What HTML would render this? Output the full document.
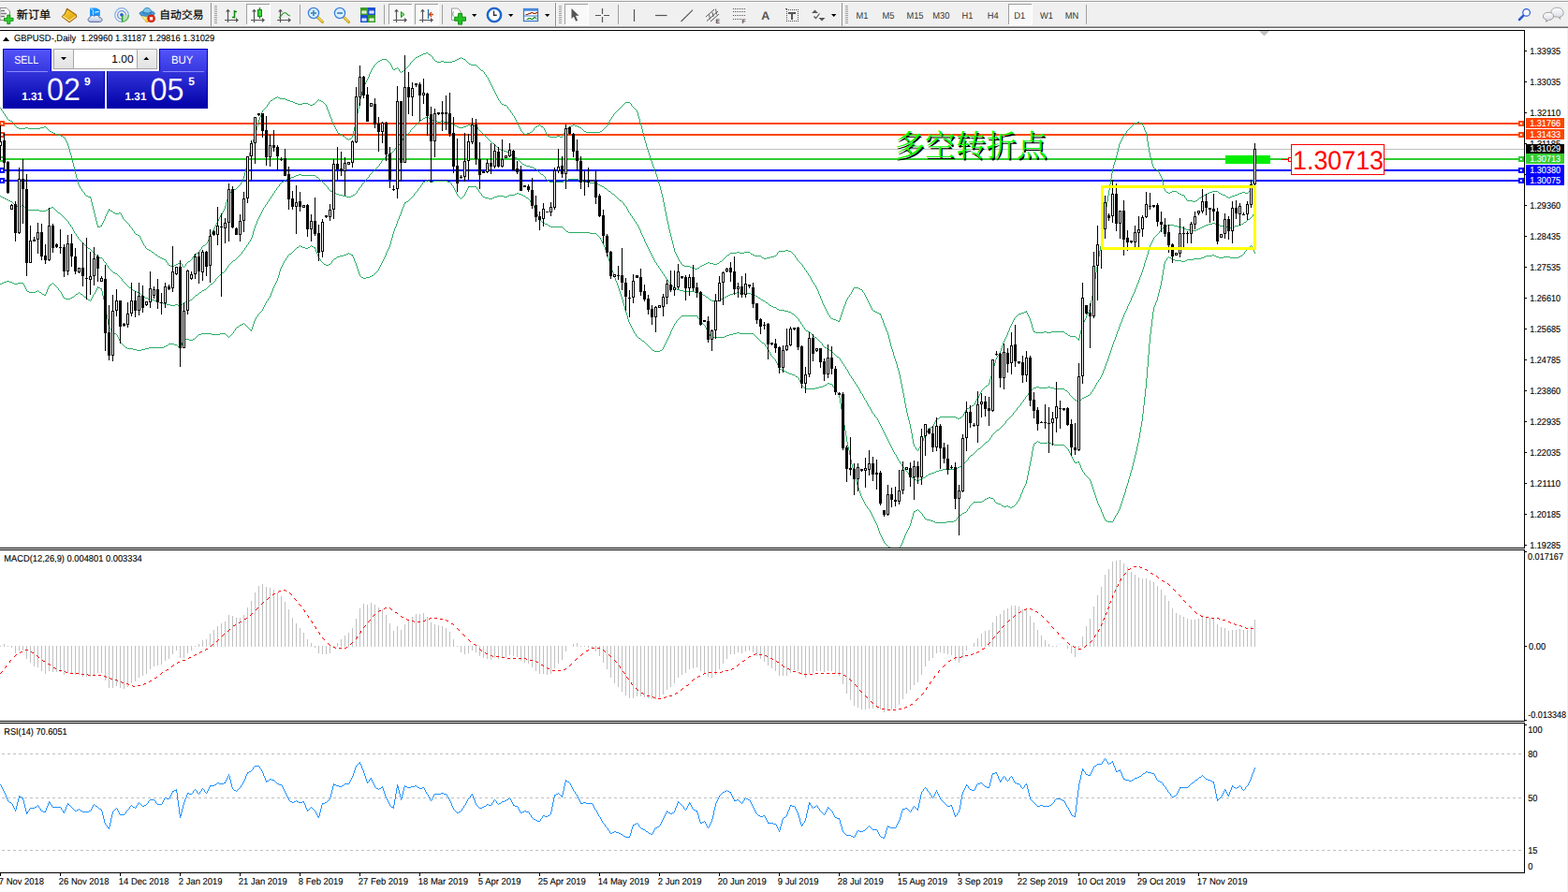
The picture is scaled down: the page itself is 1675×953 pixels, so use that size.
<!DOCTYPE html><html><head><meta charset="utf-8"><style>
html,body{margin:0;padding:0;background:#fff;}
body{width:1675px;height:953px;position:relative;overflow:hidden;font-family:"Liberation Sans",sans-serif;}
</style></head><body>
<svg id="chart" width="1675" height="953" viewBox="0 0 1675 953" shape-rendering="crispEdges" font-family="Liberation Sans, sans-serif" text-rendering="geometricPrecision" style="position:absolute;left:0;top:0">
<defs><clipPath id="cm"><rect x="0" y="33" width="1628" height="552"/></clipPath><clipPath id="c2"><rect x="0" y="588" width="1628" height="182"/></clipPath><clipPath id="c3"><rect x="0" y="773" width="1628" height="159"/></clipPath></defs>
<g fill="#000">
<rect x="0" y="32" width="1629" height="1"/>
<rect x="1628" y="32" width="1" height="554"/>
<rect x="0" y="585" width="1629" height="1"/>
<rect x="0" y="587" width="1629" height="1"/>
<rect x="1628" y="587" width="1" height="184"/>
<rect x="0" y="770" width="1629" height="1"/>
<rect x="0" y="772" width="1629" height="1"/>
<rect x="1628" y="772" width="1" height="161"/>
<rect x="0" y="932" width="1629" height="1"/>
</g>
<g clip-path="url(#cm)">
<rect x="0" y="159" width="1628" height="1" fill="#c0c0c0"/>
<rect x="0" y="131" width="1628" height="2" fill="#ff4500"/>
<rect x="1622" y="129" width="6" height="6" fill="#ff4500"/><rect x="1624" y="131" width="2" height="2" fill="#fff"/>
<rect x="-1" y="129" width="6" height="6" fill="#ff4500"/><rect x="1" y="131" width="2" height="2" fill="#fff"/>
<rect x="0" y="143" width="1628" height="2" fill="#ff4500"/>
<rect x="1622" y="141" width="6" height="6" fill="#ff4500"/><rect x="1624" y="143" width="2" height="2" fill="#fff"/>
<rect x="-1" y="141" width="6" height="6" fill="#ff4500"/><rect x="1" y="143" width="2" height="2" fill="#fff"/>
<rect x="0" y="169" width="1628" height="2" fill="#32cd32"/>
<rect x="1622" y="167" width="6" height="6" fill="#32cd32"/><rect x="1624" y="169" width="2" height="2" fill="#fff"/>
<rect x="-1" y="167" width="6" height="6" fill="#32cd32"/><rect x="1" y="169" width="2" height="2" fill="#fff"/>
<rect x="0" y="181" width="1628" height="2" fill="#0000ff"/>
<rect x="1622" y="179" width="6" height="6" fill="#0000ff"/><rect x="1624" y="181" width="2" height="2" fill="#fff"/>
<rect x="-1" y="179" width="6" height="6" fill="#0000ff"/><rect x="1" y="181" width="2" height="2" fill="#fff"/>
<rect x="0" y="192" width="1628" height="2" fill="#0000ff"/>
<rect x="1622" y="190" width="6" height="6" fill="#0000ff"/><rect x="1624" y="192" width="2" height="2" fill="#fff"/>
<rect x="-1" y="190" width="6" height="6" fill="#0000ff"/><rect x="1" y="192" width="2" height="2" fill="#fff"/>
<rect x="1309" y="166" width="48" height="9" fill="#00ee00"/>
<g shape-rendering="crispEdges">
<path fill="#2bab66" d="M455 56h2v1h-2zM452 57h3v1h-3zM457 57h1v1h-1zM450 58h2v1h-2zM458 58h2v1h-2zM448 59h2v1h-2zM460 59h1v1h-1zM446 60h2v1h-2zM461 60h1v1h-1zM444 61h2v1h-2zM462 61h1v2h-1zM492 61h1v1h-1zM443 62h1v1h-1zM490 62h2v1h-2zM493 62h2v1h-2zM408 63h5v1h-5zM442 63h1v1h-1zM463 63h1v1h-1zM488 63h2v1h-2zM495 63h2v1h-2zM406 64h2v1h-2zM413 64h1v1h-1zM441 64h1v1h-1zM464 64h1v1h-1zM486 64h2v1h-2zM497 64h1v1h-1zM404 65h2v1h-2zM414 65h1v1h-1zM440 65h1v1h-1zM465 65h2v1h-2zM471 65h3v1h-3zM483 65h3v1h-3zM498 65h1v1h-1zM403 66h1v1h-1zM415 66h1v1h-1zM439 66h1v1h-1zM467 66h4v1h-4zM474 66h9v1h-9zM499 66h1v1h-1zM402 67h1v1h-1zM416 67h1v1h-1zM438 67h1v2h-1zM500 67h1v1h-1zM401 68h1v1h-1zM417 68h1v2h-1zM501 68h2v1h-2zM400 69h1v1h-1zM437 69h1v1h-1zM503 69h6v1h-6zM399 70h1v2h-1zM418 70h1v2h-1zM436 70h1v1h-1zM509 70h1v1h-1zM435 71h1v1h-1zM510 71h1v1h-1zM398 72h1v1h-1zM419 72h1v2h-1zM424 72h1v1h-1zM434 72h1v1h-1zM511 72h1v1h-1zM397 73h1v2h-1zM422 73h2v1h-2zM425 73h1v1h-1zM433 73h1v1h-1zM512 73h1v1h-1zM420 74h2v1h-2zM426 74h1v2h-1zM432 74h1v1h-1zM513 74h1v1h-1zM396 75h1v2h-1zM431 75h1v1h-1zM514 75h2v1h-2zM427 76h1v1h-1zM429 76h2v1h-2zM516 76h1v1h-1zM395 77h1v2h-1zM428 77h1v1h-1zM517 77h1v2h-1zM394 79h1v3h-1zM518 79h1v1h-1zM519 80h1v2h-1zM393 82h1v2h-1zM520 82h1v1h-1zM521 83h1v2h-1zM392 84h1v2h-1zM522 85h1v2h-1zM391 86h1v2h-1zM523 87h1v2h-1zM390 88h1v2h-1zM524 89h1v2h-1zM389 90h1v2h-1zM525 91h1v2h-1zM388 92h1v2h-1zM526 93h1v2h-1zM387 94h1v4h-1zM527 95h1v2h-1zM528 97h1v2h-1zM386 98h1v4h-1zM529 99h1v2h-1zM530 101h1v2h-1zM385 102h1v4h-1zM296 103h1v1h-1zM531 103h1v2h-1zM294 104h2v1h-2zM297 104h2v1h-2zM292 105h2v1h-2zM299 105h6v1h-6zM532 105h1v2h-1zM291 106h1v1h-1zM305 106h2v1h-2zM340 106h1v1h-1zM384 106h1v4h-1zM289 107h2v1h-2zM307 107h3v1h-3zM339 107h1v1h-1zM341 107h2v1h-2zM533 107h1v1h-1zM288 108h1v1h-1zM310 108h3v1h-3zM338 108h1v1h-1zM343 108h2v1h-2zM534 108h1v2h-1zM287 109h1v2h-1zM313 109h2v1h-2zM337 109h1v1h-1zM345 109h1v1h-1zM668 109h5v1h-5zM315 110h3v1h-3zM323 110h6v1h-6zM336 110h1v1h-1zM346 110h1v1h-1zM383 110h1v6h-1zM535 110h1v1h-1zM667 110h1v1h-1zM673 110h1v1h-1zM286 111h1v1h-1zM318 111h5v1h-5zM329 111h2v1h-2zM334 111h2v1h-2zM347 111h1v1h-1zM536 111h2v1h-2zM666 111h1v1h-1zM674 111h1v2h-1zM285 112h1v2h-1zM331 112h3v1h-3zM348 112h1v2h-1zM538 112h3v1h-3zM665 112h1v1h-1zM541 113h1v1h-1zM664 113h1v1h-1zM675 113h1v1h-1zM284 114h1v1h-1zM349 114h1v3h-1zM542 114h1v2h-1zM663 114h1v1h-1zM676 114h1v1h-1zM0 115h1v1h-1zM283 115h1v1h-1zM662 115h1v1h-1zM677 115h1v1h-1zM1 116h1v2h-1zM282 116h1v1h-1zM382 116h1v5h-1zM543 116h1v1h-1zM661 116h1v1h-1zM678 116h1v1h-1zM281 117h1v1h-1zM350 117h1v2h-1zM544 117h1v1h-1zM660 117h1v1h-1zM679 117h1v1h-1zM2 118h1v1h-1zM280 118h1v2h-1zM545 118h1v2h-1zM659 118h1v1h-1zM680 118h1v2h-1zM3 119h1v2h-1zM351 119h1v3h-1zM658 119h1v1h-1zM279 120h1v3h-1zM546 120h1v1h-1zM657 120h1v1h-1zM681 120h1v4h-1zM4 121h1v1h-1zM381 121h1v6h-1zM547 121h1v2h-1zM656 121h1v1h-1zM5 122h1v2h-1zM352 122h1v3h-1zM655 122h1v2h-1zM278 123h1v2h-1zM548 123h1v1h-1zM6 124h1v1h-1zM549 124h1v2h-1zM654 124h1v1h-1zM682 124h1v3h-1zM7 125h1v2h-1zM277 125h1v3h-1zM353 125h1v2h-1zM653 125h1v2h-1zM550 126h1v2h-1zM8 127h1v1h-1zM354 127h1v3h-1zM380 127h1v5h-1zM652 127h1v1h-1zM683 127h1v4h-1zM9 128h2v1h-2zM276 128h1v3h-1zM551 128h1v2h-1zM651 128h1v2h-1zM11 129h2v1h-2zM13 130h1v1h-1zM355 130h1v2h-1zM552 130h1v2h-1zM650 130h1v2h-1zM1215 130h2v1h-2zM14 131h1v2h-1zM275 131h1v4h-1zM684 131h1v3h-1zM1212 131h3v1h-3zM1217 131h2v1h-2zM356 132h1v2h-1zM379 132h1v4h-1zM553 132h1v2h-1zM649 132h1v2h-1zM1211 132h1v1h-1zM1219 132h2v1h-2zM15 133h1v1h-1zM576 133h1v1h-1zM612 133h2v1h-2zM1210 133h1v1h-1zM1220 133h1v1h-1zM16 134h1v1h-1zM357 134h1v2h-1zM554 134h1v2h-1zM574 134h2v1h-2zM577 134h1v1h-1zM610 134h2v1h-2zM614 134h3v1h-3zM648 134h1v1h-1zM685 134h1v4h-1zM1209 134h1v1h-1zM1221 134h1v2h-1zM17 135h1v1h-1zM47 135h2v1h-2zM274 135h1v4h-1zM572 135h2v1h-2zM578 135h2v1h-2zM608 135h2v1h-2zM617 135h2v1h-2zM647 135h1v1h-1zM1208 135h1v1h-1zM18 136h2v1h-2zM27 136h3v1h-3zM43 136h4v1h-4zM49 136h1v1h-1zM358 136h1v2h-1zM378 136h1v4h-1zM555 136h1v2h-1zM571 136h1v1h-1zM580 136h1v1h-1zM607 136h1v1h-1zM619 136h2v1h-2zM646 136h1v1h-1zM1207 136h1v1h-1zM1222 136h1v3h-1zM20 137h7v1h-7zM30 137h13v1h-13zM50 137h1v1h-1zM570 137h1v2h-1zM581 137h1v2h-1zM606 137h1v1h-1zM621 137h1v1h-1zM645 137h1v1h-1zM1206 137h1v1h-1zM51 138h1v1h-1zM359 138h1v2h-1zM556 138h1v2h-1zM605 138h1v1h-1zM622 138h1v1h-1zM644 138h1v1h-1zM686 138h1v4h-1zM1205 138h1v1h-1zM52 139h1v1h-1zM273 139h1v4h-1zM569 139h1v1h-1zM582 139h1v2h-1zM604 139h1v1h-1zM623 139h1v1h-1zM643 139h1v1h-1zM1204 139h1v1h-1zM1223 139h1v2h-1zM53 140h2v1h-2zM360 140h1v2h-1zM377 140h1v4h-1zM557 140h1v1h-1zM568 140h1v1h-1zM603 140h1v2h-1zM624 140h2v1h-2zM641 140h2v1h-2zM1203 140h1v2h-1zM55 141h2v1h-2zM558 141h1v1h-1zM566 141h2v1h-2zM583 141h1v2h-1zM626 141h15v1h-15zM1224 141h1v4h-1zM57 142h2v1h-2zM361 142h2v1h-2zM559 142h1v1h-1zM563 142h3v1h-3zM602 142h1v2h-1zM687 142h1v4h-1zM1202 142h1v1h-1zM59 143h3v1h-3zM272 143h1v3h-1zM363 143h2v1h-2zM560 143h3v1h-3zM584 143h1v2h-1zM1201 143h1v2h-1zM62 144h3v1h-3zM365 144h1v1h-1zM376 144h1v3h-1zM601 144h1v2h-1zM65 145h2v1h-2zM366 145h2v1h-2zM585 145h2v1h-2zM595 145h3v1h-3zM1200 145h1v1h-1zM1225 145h1v6h-1zM67 146h2v1h-2zM271 146h1v3h-1zM368 146h1v1h-1zM587 146h8v1h-8zM598 146h3v1h-3zM688 146h1v4h-1zM1199 146h1v2h-1zM69 147h1v2h-1zM369 147h1v1h-1zM375 147h1v1h-1zM370 148h2v1h-2zM373 148h2v1h-2zM1198 148h1v2h-1zM70 149h1v2h-1zM270 149h1v3h-1zM372 149h1v1h-1zM689 150h1v3h-1zM1197 150h1v2h-1zM71 151h1v2h-1zM1226 151h1v6h-1zM269 152h1v3h-1zM1196 152h1v2h-1zM72 153h1v3h-1zM690 153h1v4h-1zM1195 154h1v4h-1zM268 155h1v4h-1zM73 156h1v3h-1zM691 157h1v3h-1zM1227 157h1v6h-1zM1194 158h1v4h-1zM74 159h1v4h-1zM267 159h1v4h-1zM692 160h1v3h-1zM1193 162h1v4h-1zM75 163h1v3h-1zM266 163h1v4h-1zM693 163h1v3h-1zM1228 163h1v5h-1zM76 166h1v4h-1zM694 166h1v3h-1zM1192 166h1v3h-1zM265 167h1v4h-1zM1229 168h1v3h-1zM695 169h1v3h-1zM1191 169h1v4h-1zM77 170h1v4h-1zM264 171h1v5h-1zM1230 171h1v4h-1zM696 172h1v3h-1zM1190 173h1v3h-1zM78 174h1v4h-1zM697 175h1v3h-1zM1231 175h1v3h-1zM263 176h1v4h-1zM1189 176h1v4h-1zM79 178h1v4h-1zM698 178h1v2h-1zM1232 178h1v2h-1zM262 180h1v4h-1zM699 180h1v3h-1zM1188 180h1v5h-1zM1233 180h2v1h-2zM1235 181h2v1h-2zM80 182h1v4h-1zM1237 182h1v2h-1zM700 183h1v3h-1zM261 184h1v4h-1zM1238 184h1v2h-1zM1187 185h1v6h-1zM1340 185h1v3h-1zM81 186h1v4h-1zM701 186h1v3h-1zM1239 186h1v2h-1zM260 188h1v3h-1zM1240 188h1v2h-1zM1339 188h1v4h-1zM702 189h1v4h-1zM82 190h1v3h-1zM1241 190h1v4h-1zM259 191h1v2h-1zM1186 191h1v6h-1zM1338 192h1v4h-1zM83 193h1v4h-1zM258 193h1v2h-1zM703 193h1v3h-1zM1242 194h1v4h-1zM257 195h1v2h-1zM704 196h1v3h-1zM1337 196h1v4h-1zM84 197h1v2h-1zM256 197h1v1h-1zM1185 197h1v6h-1zM255 198h1v1h-1zM1243 198h1v4h-1zM85 199h1v2h-1zM254 199h1v1h-1zM705 199h1v4h-1zM253 200h1v1h-1zM1336 200h1v3h-1zM86 201h1v1h-1zM252 201h1v1h-1zM87 202h1v2h-1zM250 202h2v1h-2zM1244 202h1v2h-1zM248 203h2v1h-2zM706 203h1v4h-1zM1184 203h1v6h-1zM1335 203h1v1h-1zM88 204h1v1h-1zM247 204h1v1h-1zM1245 204h1v1h-1zM1252 204h5v1h-5zM1295 204h6v1h-6zM1334 204h1v1h-1zM89 205h1v1h-1zM246 205h1v1h-1zM1246 205h2v1h-2zM1250 205h2v1h-2zM1257 205h1v1h-1zM1292 205h3v1h-3zM1301 205h1v1h-1zM1327 205h3v1h-3zM1333 205h1v1h-1zM90 206h1v2h-1zM245 206h1v1h-1zM1248 206h2v1h-2zM1258 206h2v1h-2zM1290 206h2v1h-2zM1302 206h2v1h-2zM1324 206h3v1h-3zM1330 206h3v1h-3zM244 207h1v2h-1zM707 207h1v4h-1zM1260 207h2v1h-2zM1288 207h2v1h-2zM1304 207h2v1h-2zM1322 207h2v1h-2zM91 208h1v1h-1zM1262 208h3v1h-3zM1286 208h2v1h-2zM1306 208h3v1h-3zM1319 208h3v1h-3zM92 209h2v1h-2zM243 209h1v4h-1zM1183 209h1v6h-1zM1265 209h1v2h-1zM1284 209h2v1h-2zM1309 209h1v1h-1zM1316 209h3v1h-3zM94 210h3v1h-3zM1283 210h1v1h-1zM1310 210h2v1h-2zM1314 210h2v1h-2zM96 211h1v1h-1zM708 211h1v5h-1zM1266 211h1v1h-1zM1281 211h2v1h-2zM1312 211h2v1h-2zM97 212h1v4h-1zM1267 212h1v2h-1zM1280 212h1v1h-1zM242 213h1v3h-1zM1279 213h1v1h-1zM1268 214h6v1h-6zM1277 214h2v1h-2zM1182 215h1v6h-1zM1274 215h3v1h-3zM98 216h1v4h-1zM241 216h1v4h-1zM709 216h1v5h-1zM99 220h1v4h-1zM240 220h1v3h-1zM710 221h1v5h-1zM1181 221h1v6h-1zM116 223h1v2h-1zM239 223h1v2h-1zM100 224h1v4h-1zM117 224h1v1h-1zM115 225h1v2h-1zM118 225h2v1h-2zM238 225h1v2h-1zM120 226h1v1h-1zM711 226h1v5h-1zM114 227h1v2h-1zM121 227h2v1h-2zM127 227h2v1h-2zM237 227h1v2h-1zM1180 227h1v6h-1zM101 228h1v4h-1zM123 228h4v1h-4zM129 228h1v2h-1zM113 229h1v2h-1zM236 229h1v1h-1zM130 230h1v2h-1zM235 230h1v2h-1zM112 231h1v3h-1zM712 231h1v5h-1zM102 232h1v4h-1zM131 232h1v2h-1zM234 232h1v2h-1zM1179 233h1v8h-1zM111 234h1v2h-1zM132 234h1v1h-1zM233 234h1v2h-1zM133 235h1v1h-1zM103 236h1v4h-1zM110 236h1v2h-1zM134 236h1v1h-1zM232 236h1v2h-1zM713 236h1v4h-1zM135 237h1v1h-1zM109 238h1v2h-1zM136 238h1v1h-1zM231 238h1v2h-1zM137 239h1v1h-1zM104 240h1v3h-1zM108 240h1v2h-1zM138 240h1v2h-1zM230 240h1v2h-1zM714 240h1v5h-1zM107 241h1v1h-1zM1178 241h1v8h-1zM105 242h2v1h-2zM139 242h1v1h-1zM229 242h1v2h-1zM140 243h1v1h-1zM141 244h1v2h-1zM228 244h1v2h-1zM715 245h1v4h-1zM142 246h1v1h-1zM227 246h1v2h-1zM143 247h1v2h-1zM226 248h1v2h-1zM144 249h1v1h-1zM716 249h1v4h-1zM1177 249h1v8h-1zM145 250h2v1h-2zM225 250h1v2h-1zM147 251h2v1h-2zM149 252h1v2h-1zM224 252h1v2h-1zM717 253h1v4h-1zM150 254h1v2h-1zM223 254h1v2h-1zM151 256h1v2h-1zM222 256h1v2h-1zM718 257h1v4h-1zM1176 257h1v6h-1zM152 258h1v2h-1zM221 258h1v2h-1zM153 260h1v2h-1zM220 260h1v1h-1zM219 261h1v1h-1zM719 261h1v4h-1zM154 262h1v1h-1zM217 262h2v1h-2zM155 263h1v2h-1zM216 263h1v1h-1zM1175 263h1v5h-1zM215 264h1v2h-1zM156 265h1v1h-1zM720 265h1v4h-1zM157 266h2v1h-2zM214 266h1v1h-1zM159 267h2v1h-2zM213 267h1v2h-1zM839 267h3v1h-3zM161 268h1v1h-1zM832 268h7v1h-7zM842 268h3v1h-3zM1174 268h1v6h-1zM162 269h2v1h-2zM212 269h1v1h-1zM721 269h1v2h-1zM787 269h3v1h-3zM795 269h6v1h-6zM831 269h1v1h-1zM845 269h1v1h-1zM164 270h1v1h-1zM210 270h2v1h-2zM780 270h7v1h-7zM790 270h5v1h-5zM801 270h1v1h-1zM830 270h1v2h-1zM846 270h1v1h-1zM165 271h1v1h-1zM208 271h2v1h-2zM722 271h1v2h-1zM779 271h1v1h-1zM802 271h2v1h-2zM847 271h1v1h-1zM166 272h2v1h-2zM207 272h1v2h-1zM777 272h2v1h-2zM804 272h2v1h-2zM829 272h1v1h-1zM848 272h1v1h-1zM168 273h1v1h-1zM723 273h1v2h-1zM776 273h1v1h-1zM806 273h7v1h-7zM827 273h2v1h-2zM849 273h1v2h-1zM169 274h2v1h-2zM206 274h1v1h-1zM775 274h1v1h-1zM813 274h1v1h-1zM823 274h4v1h-4zM1173 274h1v5h-1zM171 275h2v1h-2zM205 275h1v2h-1zM724 275h1v2h-1zM774 275h1v1h-1zM814 275h2v1h-2zM819 275h4v1h-4zM850 275h1v1h-1zM173 276h2v1h-2zM773 276h1v1h-1zM816 276h3v1h-3zM851 276h1v2h-1zM175 277h2v1h-2zM204 277h1v1h-1zM725 277h1v2h-1zM772 277h1v1h-1zM177 278h1v2h-1zM203 278h1v1h-1zM771 278h1v1h-1zM852 278h1v1h-1zM201 279h2v1h-2zM726 279h1v1h-1zM769 279h2v1h-2zM853 279h1v1h-1zM1172 279h1v6h-1zM178 280h1v1h-1zM192 280h1v1h-1zM200 280h1v1h-1zM727 280h1v2h-1zM756 280h2v1h-2zM768 280h1v1h-1zM854 280h1v1h-1zM179 281h1v2h-1zM190 281h2v1h-2zM193 281h1v1h-1zM199 281h1v1h-1zM754 281h2v1h-2zM758 281h4v1h-4zM766 281h2v1h-2zM855 281h1v1h-1zM188 282h2v1h-2zM194 282h1v2h-1zM198 282h1v2h-1zM728 282h1v1h-1zM752 282h2v1h-2zM762 282h4v1h-4zM856 282h1v1h-1zM180 283h2v1h-2zM186 283h2v1h-2zM729 283h2v1h-2zM750 283h2v1h-2zM857 283h1v2h-1zM182 284h4v1h-4zM195 284h1v1h-1zM197 284h1v1h-1zM731 284h6v1h-6zM748 284h2v1h-2zM196 285h1v1h-1zM737 285h2v1h-2zM747 285h1v1h-1zM858 285h1v1h-1zM1171 285h1v6h-1zM739 286h3v1h-3zM745 286h2v1h-2zM859 286h1v2h-1zM742 287h3v1h-3zM860 288h1v1h-1zM861 289h1v2h-1zM862 291h1v1h-1zM1170 291h1v7h-1zM863 292h1v2h-1zM864 294h1v1h-1zM865 295h1v2h-1zM866 297h1v2h-1zM1169 298h1v6h-1zM867 299h1v2h-1zM868 301h1v1h-1zM869 302h1v2h-1zM870 304h1v1h-1zM1168 304h1v6h-1zM871 305h1v2h-1zM872 307h1v2h-1zM912 307h5v1h-5zM911 308h1v2h-1zM917 308h2v1h-2zM873 309h1v2h-1zM919 309h2v1h-2zM910 310h1v2h-1zM921 310h1v2h-1zM1167 310h1v6h-1zM874 311h1v3h-1zM909 312h1v2h-1zM922 312h1v1h-1zM923 313h1v2h-1zM875 314h1v2h-1zM908 314h1v1h-1zM907 315h1v2h-1zM924 315h1v2h-1zM876 316h1v3h-1zM1166 316h1v5h-1zM906 317h1v1h-1zM925 317h1v2h-1zM905 318h1v2h-1zM877 319h1v2h-1zM926 319h1v2h-1zM904 320h1v2h-1zM878 321h1v3h-1zM927 321h1v2h-1zM1165 321h1v6h-1zM903 322h1v3h-1zM928 323h1v2h-1zM879 324h1v2h-1zM902 325h1v2h-1zM929 325h1v2h-1zM880 326h1v2h-1zM901 327h1v3h-1zM930 327h1v2h-1zM1164 327h1v4h-1zM881 328h1v2h-1zM931 329h1v2h-1zM882 330h1v2h-1zM900 330h1v3h-1zM932 331h1v1h-1zM1163 331h1v2h-1zM883 332h1v2h-1zM933 332h2v1h-2zM1096 332h1v2h-1zM899 333h1v3h-1zM935 333h2v1h-2zM1094 333h2v1h-2zM1162 333h1v2h-1zM884 334h1v2h-1zM937 334h2v1h-2zM1091 334h3v1h-3zM1097 334h1v2h-1zM939 335h2v1h-2zM1088 335h3v1h-3zM1161 335h1v2h-1zM885 336h1v1h-1zM898 336h1v3h-1zM940 336h1v1h-1zM1087 336h1v1h-1zM1098 336h1v2h-1zM886 337h1v2h-1zM941 337h1v3h-1zM1086 337h1v1h-1zM1160 337h1v3h-1zM1085 338h1v1h-1zM1099 338h1v2h-1zM887 339h1v1h-1zM897 339h1v3h-1zM1084 339h1v1h-1zM888 340h2v1h-2zM942 340h1v2h-1zM1083 340h1v2h-1zM1100 340h1v3h-1zM1159 340h1v2h-1zM890 341h3v1h-3zM893 342h2v1h-2zM896 342h1v2h-1zM943 342h1v3h-1zM1082 342h1v2h-1zM1158 342h1v2h-1zM895 343h1v1h-1zM1101 343h1v3h-1zM1081 344h1v2h-1zM1157 344h1v2h-1zM944 345h1v3h-1zM1080 346h1v2h-1zM1102 346h1v4h-1zM1156 346h1v3h-1zM945 348h1v2h-1zM1079 348h1v2h-1zM1155 349h1v4h-1zM946 350h1v3h-1zM1078 350h1v3h-1zM1103 350h1v3h-1zM947 353h1v2h-1zM1077 353h1v2h-1zM1104 353h1v2h-1zM1154 353h1v4h-1zM1105 354h1v1h-1zM1115 354h3v1h-3zM1123 354h14v1h-14zM948 355h1v3h-1zM1076 355h1v3h-1zM1106 355h9v1h-9zM1118 355h5v1h-5zM1137 355h1v1h-1zM1138 356h2v1h-2zM1140 357h1v1h-1zM1153 357h1v4h-1zM949 358h1v4h-1zM1075 358h1v2h-1zM1141 358h2v1h-2zM1143 359h6v1h-6zM1074 360h1v2h-1zM1149 360h1v1h-1zM1150 361h1v1h-1zM1152 361h1v3h-1zM950 362h1v4h-1zM1073 362h1v2h-1zM1151 362h1v1h-1zM1072 364h1v2h-1zM951 366h1v4h-1zM1071 366h1v3h-1zM1070 369h1v3h-1zM952 370h1v3h-1zM1069 372h1v3h-1zM953 373h1v3h-1zM1068 375h1v2h-1zM954 376h1v4h-1zM1067 377h1v2h-1zM1066 379h1v1h-1zM955 380h1v3h-1zM1065 380h1v2h-1zM1064 382h1v2h-1zM956 383h1v3h-1zM1063 384h1v4h-1zM957 386h1v3h-1zM1062 388h1v3h-1zM958 389h1v4h-1zM1061 391h1v4h-1zM959 393h1v3h-1zM1060 395h1v3h-1zM960 396h1v4h-1zM1059 398h1v4h-1zM961 400h1v5h-1zM1058 402h1v3h-1zM962 405h1v5h-1zM1057 405h1v4h-1zM1056 409h1v2h-1zM963 410h1v5h-1zM1055 411h1v1h-1zM1053 412h2v1h-2zM1052 413h1v1h-1zM1051 414h1v1h-1zM964 415h1v5h-1zM1050 415h1v1h-1zM1049 416h1v1h-1zM1048 417h1v2h-1zM1047 419h1v2h-1zM965 420h1v5h-1zM1046 421h1v2h-1zM1045 423h1v2h-1zM966 425h1v6h-1zM1044 425h1v1h-1zM1043 426h1v2h-1zM1042 428h1v2h-1zM1041 430h1v2h-1zM967 431h1v5h-1zM1040 432h1v1h-1zM1038 433h2v1h-2zM1036 434h2v1h-2zM1035 435h1v1h-1zM968 436h1v5h-1zM1033 436h2v1h-2zM1032 437h1v1h-1zM1031 438h1v2h-1zM1030 440h1v2h-1zM969 441h1v4h-1zM1029 442h1v2h-1zM1028 444h1v1h-1zM970 445h1v4h-1zM1004 445h17v1h-17zM1027 445h1v1h-1zM1003 446h1v1h-1zM1021 446h2v1h-2zM1025 446h2v1h-2zM1001 447h2v1h-2zM1023 447h2v1h-2zM1000 448h1v1h-1zM971 449h1v4h-1zM999 449h1v2h-1zM998 451h1v2h-1zM972 453h1v5h-1zM997 453h1v2h-1zM996 455h1v1h-1zM994 456h2v1h-2zM992 457h2v1h-2zM973 458h1v5h-1zM991 458h1v2h-1zM990 460h1v2h-1zM989 462h1v2h-1zM974 463h1v6h-1zM988 464h1v2h-1zM987 466h1v2h-1zM986 468h1v3h-1zM975 469h1v5h-1zM985 471h1v2h-1zM984 473h1v2h-1zM976 474h1v3h-1zM983 475h1v2h-1zM977 477h1v1h-1zM982 477h1v2h-1zM978 478h1v2h-1zM981 479h1v2h-1zM979 480h1v1h-1zM980 481h1v1h-1z"/>
<path fill="#2bab66" d="M456 124h1v1h-1zM454 125h2v1h-2zM457 125h1v1h-1zM452 126h2v1h-2zM458 126h2v1h-2zM451 127h1v1h-1zM460 127h2v1h-2zM449 128h2v1h-2zM462 128h3v1h-3zM448 129h1v1h-1zM465 129h2v1h-2zM471 129h3v1h-3zM447 130h1v1h-1zM467 130h4v1h-4zM474 130h7v1h-7zM446 131h1v1h-1zM481 131h2v1h-2zM445 132h1v1h-1zM483 132h2v1h-2zM444 133h1v1h-1zM485 133h1v1h-1zM500 133h2v1h-2zM443 134h1v1h-1zM486 134h2v1h-2zM498 134h2v1h-2zM502 134h7v1h-7zM442 135h1v1h-1zM488 135h2v1h-2zM495 135h3v1h-3zM509 135h1v1h-1zM441 136h1v1h-1zM490 136h5v1h-5zM510 136h1v2h-1zM440 137h1v1h-1zM439 138h1v1h-1zM511 138h1v1h-1zM438 139h1v2h-1zM512 139h1v1h-1zM513 140h1v1h-1zM437 141h1v1h-1zM514 141h1v1h-1zM436 142h1v1h-1zM515 142h1v1h-1zM435 143h1v1h-1zM516 143h1v1h-1zM433 144h2v1h-2zM517 144h1v1h-1zM432 145h1v1h-1zM518 145h1v1h-1zM431 146h1v2h-1zM519 146h1v1h-1zM520 147h1v1h-1zM430 148h1v2h-1zM521 148h1v1h-1zM522 149h1v1h-1zM429 150h1v2h-1zM523 150h1v1h-1zM524 151h1v1h-1zM428 152h1v1h-1zM525 152h1v1h-1zM427 153h1v1h-1zM526 153h2v1h-2zM425 154h2v1h-2zM528 154h1v1h-1zM424 155h1v1h-1zM529 155h1v1h-1zM423 156h1v2h-1zM530 156h1v1h-1zM531 157h1v1h-1zM422 158h1v1h-1zM532 158h1v1h-1zM421 159h1v2h-1zM533 159h2v1h-2zM535 160h3v1h-3zM420 161h1v1h-1zM538 161h3v1h-3zM419 162h1v1h-1zM541 162h2v1h-2zM417 163h2v1h-2zM543 163h2v1h-2zM416 164h1v1h-1zM545 164h1v1h-1zM415 165h1v1h-1zM546 165h2v1h-2zM413 166h2v1h-2zM548 166h1v1h-1zM412 167h1v1h-1zM549 167h1v1h-1zM411 168h1v1h-1zM550 168h2v1h-2zM410 169h1v1h-1zM552 169h1v1h-1zM409 170h1v1h-1zM553 170h1v1h-1zM408 171h1v1h-1zM554 171h1v1h-1zM407 172h1v2h-1zM555 172h1v1h-1zM556 173h1v1h-1zM406 174h1v1h-1zM557 174h1v1h-1zM405 175h1v2h-1zM558 175h2v1h-2zM560 176h2v1h-2zM404 177h1v1h-1zM562 177h4v1h-4zM403 178h1v1h-1zM566 178h3v1h-3zM402 179h1v1h-1zM569 179h2v1h-2zM401 180h1v1h-1zM571 180h2v1h-2zM400 181h1v1h-1zM573 181h1v1h-1zM399 182h1v1h-1zM574 182h1v1h-1zM398 183h1v1h-1zM575 183h1v1h-1zM397 184h1v1h-1zM576 184h1v1h-1zM396 185h1v1h-1zM577 185h1v1h-1zM319 186h3v1h-3zM395 186h1v1h-1zM578 186h2v1h-2zM316 187h3v1h-3zM322 187h15v1h-15zM394 187h1v2h-1zM580 187h1v1h-1zM314 188h2v1h-2zM337 188h1v1h-1zM581 188h1v1h-1zM311 189h3v1h-3zM338 189h2v1h-2zM393 189h1v1h-1zM582 189h1v2h-1zM308 190h3v1h-3zM340 190h1v1h-1zM392 190h1v1h-1zM306 191h2v1h-2zM341 191h1v1h-1zM391 191h1v1h-1zM583 191h1v1h-1zM607 191h11v1h-11zM304 192h2v1h-2zM342 192h1v1h-1zM390 192h1v2h-1zM584 192h1v1h-1zM604 192h3v1h-3zM618 192h3v1h-3zM303 193h1v1h-1zM343 193h1v1h-1zM585 193h2v1h-2zM602 193h2v1h-2zM621 193h2v1h-2zM301 194h2v1h-2zM344 194h1v1h-1zM389 194h1v1h-1zM587 194h15v1h-15zM623 194h7v1h-7zM300 195h1v1h-1zM345 195h1v1h-1zM388 195h1v1h-1zM630 195h7v1h-7zM299 196h1v1h-1zM346 196h1v1h-1zM387 196h1v1h-1zM637 196h2v1h-2zM298 197h1v2h-1zM347 197h1v1h-1zM386 197h1v2h-1zM639 197h2v1h-2zM348 198h1v1h-1zM641 198h2v1h-2zM297 199h1v1h-1zM349 199h1v1h-1zM385 199h1v1h-1zM643 199h2v1h-2zM296 200h1v1h-1zM350 200h1v2h-1zM384 200h1v1h-1zM645 200h1v1h-1zM295 201h1v2h-1zM383 201h1v2h-1zM646 201h2v1h-2zM351 202h1v1h-1zM648 202h1v1h-1zM294 203h1v1h-1zM352 203h1v1h-1zM382 203h1v1h-1zM649 203h1v1h-1zM293 204h1v2h-1zM353 204h2v1h-2zM381 204h1v2h-1zM650 204h2v1h-2zM355 205h2v1h-2zM652 205h1v1h-1zM292 206h1v1h-1zM357 206h2v1h-2zM380 206h1v1h-1zM653 206h1v1h-1zM291 207h1v2h-1zM359 207h3v1h-3zM379 207h1v1h-1zM654 207h2v1h-2zM362 208h4v1h-4zM377 208h2v1h-2zM656 208h1v1h-1zM0 209h1v1h-1zM290 209h1v1h-1zM366 209h4v1h-4zM375 209h2v1h-2zM657 209h1v1h-1zM1 210h2v1h-2zM289 210h1v2h-1zM370 210h5v1h-5zM658 210h1v1h-1zM3 211h2v1h-2zM659 211h1v1h-1zM5 212h2v1h-2zM288 212h1v1h-1zM660 212h1v1h-1zM7 213h2v1h-2zM287 213h1v2h-1zM661 213h1v1h-1zM9 214h2v1h-2zM662 214h2v1h-2zM11 215h2v1h-2zM286 215h1v1h-1zM664 215h1v1h-1zM13 216h1v1h-1zM285 216h1v2h-1zM665 216h1v1h-1zM14 217h1v1h-1zM666 217h1v2h-1zM15 218h1v1h-1zM284 218h1v1h-1zM16 219h2v1h-2zM23 219h2v1h-2zM283 219h1v2h-1zM667 219h1v1h-1zM18 220h5v1h-5zM25 220h1v1h-1zM668 220h1v1h-1zM26 221h1v1h-1zM55 221h2v1h-2zM282 221h1v1h-1zM669 221h1v2h-1zM27 222h1v1h-1zM52 222h3v1h-3zM57 222h1v1h-1zM281 222h1v2h-1zM28 223h2v1h-2zM51 223h1v1h-1zM58 223h1v1h-1zM670 223h1v2h-1zM30 224h12v1h-12zM49 224h2v1h-2zM59 224h1v1h-1zM280 224h1v2h-1zM42 225h7v1h-7zM60 225h1v1h-1zM671 225h1v2h-1zM61 226h1v1h-1zM279 226h1v2h-1zM62 227h2v1h-2zM672 227h1v1h-1zM1340 227h1v1h-1zM64 228h1v1h-1zM278 228h1v2h-1zM673 228h1v2h-1zM1339 228h1v1h-1zM65 229h1v1h-1zM1338 229h1v2h-1zM66 230h1v1h-1zM277 230h1v2h-1zM674 230h1v1h-1zM67 231h1v1h-1zM675 231h1v2h-1zM1337 231h1v1h-1zM68 232h1v1h-1zM276 232h1v2h-1zM1336 232h1v1h-1zM69 233h1v1h-1zM676 233h1v1h-1zM1335 233h1v1h-1zM70 234h1v1h-1zM275 234h1v2h-1zM677 234h1v2h-1zM1333 234h2v1h-2zM71 235h1v1h-1zM1332 235h1v1h-1zM72 236h1v1h-1zM274 236h1v3h-1zM678 236h1v1h-1zM1331 236h1v1h-1zM73 237h1v2h-1zM679 237h1v2h-1zM1329 237h2v1h-2zM1295 238h3v1h-3zM1328 238h1v1h-1zM74 239h1v1h-1zM273 239h1v2h-1zM680 239h1v1h-1zM1291 239h4v1h-4zM1298 239h3v1h-3zM1326 239h2v1h-2zM75 240h1v2h-1zM681 240h1v2h-1zM1247 240h7v1h-7zM1288 240h3v1h-3zM1301 240h2v1h-2zM1323 240h3v1h-3zM272 241h1v3h-1zM1244 241h3v1h-3zM1254 241h4v1h-4zM1286 241h2v1h-2zM1303 241h6v1h-6zM1319 241h4v1h-4zM76 242h1v1h-1zM682 242h1v2h-1zM1243 242h1v1h-1zM1258 242h4v1h-4zM1284 242h2v1h-2zM1309 242h2v1h-2zM1315 242h4v1h-4zM77 243h1v2h-1zM1242 243h1v1h-1zM1262 243h3v1h-3zM1282 243h2v1h-2zM1311 243h4v1h-4zM271 244h1v3h-1zM683 244h1v2h-1zM1241 244h1v1h-1zM1265 244h2v1h-2zM1280 244h2v1h-2zM78 245h1v2h-1zM1240 245h1v1h-1zM1267 245h7v1h-7zM1278 245h2v1h-2zM684 246h1v3h-1zM1239 246h1v1h-1zM1274 246h4v1h-4zM79 247h1v2h-1zM270 247h1v4h-1zM1238 247h1v2h-1zM80 249h1v1h-1zM685 249h1v2h-1zM1237 249h1v1h-1zM81 250h1v2h-1zM1236 250h1v1h-1zM269 251h1v3h-1zM686 251h1v2h-1zM1235 251h1v1h-1zM82 252h1v1h-1zM1234 252h1v1h-1zM83 253h1v2h-1zM687 253h1v2h-1zM1233 253h1v1h-1zM268 254h1v2h-1zM1232 254h1v2h-1zM84 255h1v1h-1zM688 255h1v3h-1zM85 256h1v1h-1zM267 256h1v2h-1zM1231 256h1v2h-1zM86 257h1v1h-1zM87 258h1v1h-1zM266 258h1v1h-1zM689 258h1v2h-1zM1230 258h1v2h-1zM88 259h1v1h-1zM265 259h1v2h-1zM89 260h1v1h-1zM690 260h1v2h-1zM1229 260h1v2h-1zM90 261h1v1h-1zM264 261h1v1h-1zM91 262h1v1h-1zM263 262h1v2h-1zM691 262h1v2h-1zM1228 262h1v3h-1zM92 263h1v1h-1zM93 264h1v1h-1zM262 264h1v1h-1zM692 264h1v2h-1zM94 265h2v1h-2zM261 265h1v2h-1zM1227 265h1v3h-1zM96 266h1v1h-1zM693 266h1v2h-1zM97 267h1v1h-1zM260 267h1v1h-1zM98 268h1v1h-1zM259 268h1v1h-1zM694 268h1v2h-1zM1226 268h1v4h-1zM99 269h1v1h-1zM258 269h1v2h-1zM100 270h1v1h-1zM695 270h1v2h-1zM101 271h1v1h-1zM257 271h1v1h-1zM102 272h1v1h-1zM256 272h1v1h-1zM696 272h1v2h-1zM1225 272h1v3h-1zM103 273h1v1h-1zM255 273h1v1h-1zM104 274h2v1h-2zM254 274h1v1h-1zM697 274h1v2h-1zM106 275h3v1h-3zM253 275h1v1h-1zM1224 275h1v3h-1zM109 276h1v1h-1zM252 276h1v1h-1zM698 276h1v2h-1zM110 277h1v2h-1zM251 277h1v1h-1zM249 278h2v1h-2zM699 278h1v2h-1zM1223 278h1v3h-1zM111 279h1v1h-1zM248 279h1v1h-1zM112 280h1v1h-1zM247 280h1v1h-1zM700 280h1v1h-1zM113 281h1v2h-1zM246 281h1v1h-1zM701 281h1v2h-1zM1222 281h1v4h-1zM245 282h1v1h-1zM114 283h1v1h-1zM244 283h1v1h-1zM702 283h1v1h-1zM115 284h1v2h-1zM243 284h1v2h-1zM703 284h1v2h-1zM1221 285h1v3h-1zM116 286h1v1h-1zM242 286h1v1h-1zM704 286h1v1h-1zM117 287h1v1h-1zM241 287h1v2h-1zM705 287h1v2h-1zM118 288h1v1h-1zM1220 288h1v3h-1zM119 289h1v1h-1zM240 289h1v1h-1zM706 289h1v1h-1zM120 290h1v1h-1zM239 290h1v1h-1zM707 290h1v2h-1zM121 291h2v1h-2zM237 291h2v1h-2zM1219 291h1v3h-1zM123 292h2v1h-2zM236 292h1v1h-1zM708 292h1v1h-1zM125 293h1v1h-1zM235 293h1v1h-1zM709 293h1v2h-1zM126 294h1v1h-1zM234 294h1v1h-1zM1218 294h1v2h-1zM127 295h1v1h-1zM233 295h1v1h-1zM710 295h1v1h-1zM128 296h1v1h-1zM232 296h1v1h-1zM711 296h1v2h-1zM1217 296h1v3h-1zM129 297h1v1h-1zM231 297h1v1h-1zM130 298h1v2h-1zM230 298h1v2h-1zM712 298h1v1h-1zM713 299h1v1h-1zM1216 299h1v3h-1zM131 300h1v1h-1zM229 300h1v1h-1zM714 300h1v2h-1zM132 301h1v1h-1zM228 301h1v1h-1zM133 302h1v1h-1zM227 302h1v1h-1zM715 302h1v1h-1zM1215 302h1v2h-1zM134 303h1v1h-1zM225 303h2v1h-2zM716 303h1v1h-1zM135 304h1v1h-1zM224 304h1v1h-1zM717 304h1v1h-1zM1214 304h1v3h-1zM136 305h1v1h-1zM223 305h1v1h-1zM718 305h1v1h-1zM137 306h1v1h-1zM222 306h1v1h-1zM719 306h1v1h-1zM138 307h2v1h-2zM221 307h1v1h-1zM720 307h1v1h-1zM1213 307h1v2h-1zM140 308h1v1h-1zM220 308h1v1h-1zM721 308h2v1h-2zM141 309h1v1h-1zM218 309h2v1h-2zM723 309h3v1h-3zM1212 309h1v3h-1zM142 310h2v1h-2zM216 310h2v1h-2zM726 310h4v1h-4zM144 311h2v1h-2zM215 311h1v1h-1zM730 311h12v1h-12zM146 312h3v1h-3zM213 312h2v1h-2zM742 312h4v1h-4zM787 312h3v1h-3zM1211 312h1v2h-1zM149 313h1v1h-1zM212 313h1v1h-1zM746 313h3v1h-3zM783 313h4v1h-4zM790 313h12v1h-12zM150 314h1v1h-1zM211 314h1v1h-1zM749 314h2v1h-2zM780 314h3v1h-3zM802 314h3v1h-3zM1210 314h1v2h-1zM151 315h1v1h-1zM209 315h2v1h-2zM751 315h2v1h-2zM778 315h2v1h-2zM805 315h2v1h-2zM152 316h1v1h-1zM208 316h1v1h-1zM753 316h1v1h-1zM776 316h2v1h-2zM807 316h2v1h-2zM1209 316h1v2h-1zM153 317h2v1h-2zM207 317h1v1h-1zM754 317h2v1h-2zM774 317h2v1h-2zM809 317h1v1h-1zM155 318h3v1h-3zM206 318h1v1h-1zM756 318h1v1h-1zM772 318h2v1h-2zM810 318h2v1h-2zM1208 318h1v3h-1zM158 319h4v1h-4zM205 319h1v1h-1zM757 319h1v1h-1zM770 319h2v1h-2zM812 319h1v1h-1zM162 320h3v1h-3zM203 320h2v1h-2zM758 320h2v1h-2zM767 320h3v1h-3zM813 320h2v1h-2zM165 321h2v1h-2zM200 321h3v1h-3zM760 321h7v1h-7zM815 321h2v1h-2zM1207 321h1v2h-1zM167 322h3v1h-3zM198 322h2v1h-2zM817 322h1v1h-1zM170 323h4v1h-4zM196 323h2v1h-2zM818 323h2v1h-2zM1206 323h1v2h-1zM174 324h4v1h-4zM195 324h1v1h-1zM820 324h1v1h-1zM178 325h4v1h-4zM187 325h3v1h-3zM193 325h2v1h-2zM821 325h1v1h-1zM1205 325h1v2h-1zM182 326h5v1h-5zM190 326h3v1h-3zM822 326h2v1h-2zM824 327h2v1h-2zM1204 327h1v3h-1zM826 328h3v1h-3zM829 329h1v1h-1zM830 330h2v1h-2zM1203 330h1v2h-1zM832 331h6v1h-6zM838 332h4v1h-4zM1202 332h1v2h-1zM842 333h3v1h-3zM845 334h1v1h-1zM1201 334h1v2h-1zM846 335h2v1h-2zM848 336h1v1h-1zM1200 336h1v3h-1zM849 337h1v1h-1zM850 338h1v1h-1zM851 339h1v1h-1zM1199 339h1v2h-1zM852 340h1v1h-1zM853 341h1v2h-1zM1198 341h1v3h-1zM854 343h1v1h-1zM855 344h1v2h-1zM1197 344h1v2h-1zM856 346h1v1h-1zM1196 346h1v3h-1zM857 347h1v2h-1zM858 349h1v1h-1zM1195 349h1v3h-1zM859 350h1v2h-1zM860 352h1v1h-1zM1194 352h1v2h-1zM861 353h2v1h-2zM863 354h2v1h-2zM1193 354h1v3h-1zM865 355h1v1h-1zM866 356h1v1h-1zM867 357h1v1h-1zM1192 357h1v3h-1zM868 358h1v1h-1zM869 359h1v1h-1zM870 360h2v1h-2zM1191 360h1v3h-1zM872 361h1v1h-1zM873 362h1v1h-1zM874 363h1v1h-1zM1190 363h1v2h-1zM875 364h1v1h-1zM876 365h1v1h-1zM1189 365h1v3h-1zM877 366h1v1h-1zM878 367h1v2h-1zM1188 368h1v3h-1zM879 369h1v1h-1zM880 370h1v1h-1zM881 371h2v1h-2zM1187 371h1v3h-1zM883 372h2v1h-2zM885 373h1v1h-1zM886 374h2v1h-2zM1186 374h1v3h-1zM888 375h1v1h-1zM889 376h1v1h-1zM890 377h1v1h-1zM1185 377h1v3h-1zM891 378h1v1h-1zM892 379h1v1h-1zM893 380h1v1h-1zM1184 380h1v3h-1zM894 381h2v1h-2zM896 382h1v1h-1zM897 383h1v2h-1zM1183 383h1v3h-1zM898 385h1v1h-1zM899 386h1v2h-1zM1182 386h1v2h-1zM900 388h1v1h-1zM1181 388h1v3h-1zM901 389h1v2h-1zM902 391h1v1h-1zM1180 391h1v3h-1zM903 392h1v2h-1zM904 394h1v1h-1zM1179 394h1v2h-1zM905 395h1v2h-1zM1178 396h1v3h-1zM906 397h1v2h-1zM907 399h1v2h-1zM1177 399h1v2h-1zM908 401h1v1h-1zM1176 401h1v2h-1zM909 402h1v2h-1zM1175 403h1v2h-1zM910 404h1v1h-1zM911 405h1v2h-1zM1174 405h1v1h-1zM1173 406h1v2h-1zM912 407h1v1h-1zM913 408h1v2h-1zM1172 408h1v1h-1zM1171 409h1v2h-1zM914 410h1v1h-1zM915 411h1v2h-1zM1170 411h1v2h-1zM916 413h1v1h-1zM1107 413h3v1h-3zM1119 413h3v1h-3zM1169 413h1v2h-1zM917 414h1v2h-1zM1104 414h3v1h-3zM1110 414h9v1h-9zM1122 414h4v1h-4zM1103 415h1v1h-1zM1126 415h11v1h-11zM1168 415h1v1h-1zM918 416h1v2h-1zM1102 416h1v1h-1zM1137 416h1v1h-1zM1167 416h1v2h-1zM1101 417h1v1h-1zM1138 417h2v1h-2zM919 418h1v2h-1zM1100 418h1v1h-1zM1140 418h1v1h-1zM1166 418h1v1h-1zM1099 419h1v1h-1zM1141 419h1v1h-1zM1165 419h1v2h-1zM920 420h1v1h-1zM1098 420h1v2h-1zM1142 420h1v2h-1zM921 421h1v2h-1zM1164 421h1v1h-1zM1097 422h1v1h-1zM1143 422h1v1h-1zM1162 422h2v1h-2zM922 423h1v2h-1zM1096 423h1v1h-1zM1144 423h1v1h-1zM1160 423h2v1h-2zM1095 424h1v2h-1zM1145 424h1v1h-1zM1158 424h2v1h-2zM923 425h1v2h-1zM1146 425h1v1h-1zM1156 425h2v1h-2zM1094 426h1v1h-1zM1147 426h1v1h-1zM1155 426h1v1h-1zM924 427h1v1h-1zM1093 427h1v2h-1zM1148 427h2v1h-2zM1153 427h2v1h-2zM925 428h1v2h-1zM1150 428h3v1h-3zM1092 429h1v1h-1zM926 430h1v2h-1zM1091 430h1v1h-1zM1090 431h1v2h-1zM927 432h1v2h-1zM1089 433h1v1h-1zM928 434h1v1h-1zM1088 434h1v1h-1zM929 435h1v2h-1zM1087 435h1v1h-1zM1086 436h1v2h-1zM930 437h1v2h-1zM1085 438h1v1h-1zM931 439h1v2h-1zM1084 439h1v1h-1zM1083 440h1v1h-1zM932 441h1v1h-1zM1082 441h1v2h-1zM933 442h1v1h-1zM934 443h1v2h-1zM1081 443h1v1h-1zM1080 444h1v1h-1zM935 445h1v1h-1zM1079 445h1v1h-1zM936 446h1v1h-1zM1078 446h1v1h-1zM937 447h1v2h-1zM1077 447h1v1h-1zM1076 448h1v1h-1zM938 449h1v2h-1zM1075 449h1v1h-1zM1074 450h1v2h-1zM939 451h1v2h-1zM1073 452h1v1h-1zM940 453h1v2h-1zM1072 453h1v1h-1zM1071 454h1v1h-1zM941 455h1v2h-1zM1070 455h1v1h-1zM1069 456h1v1h-1zM942 457h1v2h-1zM1068 457h1v1h-1zM1067 458h1v1h-1zM943 459h1v2h-1zM1065 459h2v1h-2zM1064 460h1v1h-1zM944 461h1v2h-1zM1063 461h1v1h-1zM1062 462h1v1h-1zM945 463h1v2h-1zM1061 463h1v1h-1zM1060 464h1v1h-1zM946 465h1v2h-1zM1059 465h1v2h-1zM947 467h1v2h-1zM1058 467h1v1h-1zM1057 468h1v2h-1zM948 469h1v2h-1zM1056 470h1v1h-1zM949 471h1v2h-1zM1055 471h1v1h-1zM1053 472h2v1h-2zM950 473h1v2h-1zM1052 473h1v1h-1zM1051 474h1v1h-1zM951 475h1v2h-1zM1050 475h1v1h-1zM1049 476h1v1h-1zM952 477h1v2h-1zM1048 477h1v1h-1zM1047 478h1v1h-1zM953 479h1v2h-1zM1045 479h2v1h-2zM1044 480h1v1h-1zM954 481h1v2h-1zM1043 481h1v1h-1zM1042 482h1v1h-1zM955 483h1v2h-1zM1041 483h1v1h-1zM1040 484h1v1h-1zM956 485h1v1h-1zM1039 485h1v1h-1zM957 486h1v2h-1zM1037 486h2v1h-2zM1036 487h1v1h-1zM958 488h1v2h-1zM1035 488h1v1h-1zM1034 489h1v2h-1zM959 490h1v2h-1zM1033 491h1v1h-1zM960 492h1v1h-1zM1032 492h1v1h-1zM961 493h1v2h-1zM1031 493h1v1h-1zM1030 494h1v1h-1zM962 495h1v1h-1zM1029 495h1v1h-1zM963 496h1v2h-1zM1028 496h1v1h-1zM1027 497h1v1h-1zM964 498h1v1h-1zM1025 498h2v1h-2zM965 499h1v1h-1zM1023 499h2v1h-2zM966 500h1v2h-1zM1019 500h4v1h-4zM1007 501h12v1h-12zM967 502h1v1h-1zM1003 502h4v1h-4zM968 503h1v1h-1zM1000 503h3v1h-3zM969 504h1v1h-1zM998 504h2v1h-2zM970 505h1v2h-1zM995 505h3v1h-3zM992 506h3v1h-3zM971 507h1v1h-1zM991 507h1v1h-1zM972 508h1v1h-1zM989 508h2v1h-2zM973 509h1v1h-1zM988 509h1v1h-1zM974 510h2v1h-2zM986 510h2v1h-2zM976 511h1v1h-1zM984 511h2v1h-2zM977 512h2v1h-2zM982 512h2v1h-2zM979 513h3v1h-3z"/>
<path fill="#2bab66" d="M456 192h1v1h-1zM454 193h2v1h-2zM457 193h2v1h-2zM463 193h15v1h-15zM452 194h2v1h-2zM459 194h4v1h-4zM478 194h3v1h-3zM451 195h1v2h-1zM481 195h1v1h-1zM482 196h1v2h-1zM450 197h1v1h-1zM449 198h1v2h-1zM483 198h1v1h-1zM484 199h1v2h-1zM500 199h9v1h-9zM448 200h1v1h-1zM500 200h1v1h-1zM509 200h1v2h-1zM447 201h1v1h-1zM485 201h1v2h-1zM499 201h1v2h-1zM446 202h1v2h-1zM510 202h1v1h-1zM486 203h1v2h-1zM498 203h1v2h-1zM511 203h1v2h-1zM445 204h1v1h-1zM444 205h1v1h-1zM487 205h1v2h-1zM497 205h1v2h-1zM512 205h1v1h-1zM443 206h1v1h-1zM513 206h1v1h-1zM552 206h2v1h-2zM442 207h1v2h-1zM488 207h1v2h-1zM496 207h1v2h-1zM514 207h1v2h-1zM550 207h2v1h-2zM554 207h3v1h-3zM544 208h6v1h-6zM557 208h2v1h-2zM441 209h1v1h-1zM489 209h1v1h-1zM495 209h1v1h-1zM515 209h1v1h-1zM531 209h7v1h-7zM542 209h2v1h-2zM559 209h2v1h-2zM440 210h1v1h-1zM490 210h1v1h-1zM494 210h1v1h-1zM516 210h2v1h-2zM528 210h3v1h-3zM538 210h4v1h-4zM561 210h1v1h-1zM439 211h1v1h-1zM491 211h1v1h-1zM493 211h1v1h-1zM518 211h4v1h-4zM526 211h2v1h-2zM562 211h2v1h-2zM438 212h1v1h-1zM492 212h1v1h-1zM522 212h4v1h-4zM564 212h1v1h-1zM437 213h1v1h-1zM565 213h1v1h-1zM436 214h1v1h-1zM566 214h1v2h-1zM434 215h2v1h-2zM432 216h2v1h-2zM567 216h1v1h-1zM432 217h1v1h-1zM568 217h1v1h-1zM431 218h1v3h-1zM569 218h1v2h-1zM570 220h1v2h-1zM430 221h1v2h-1zM571 222h1v2h-1zM429 223h1v3h-1zM572 224h1v3h-1zM428 226h1v3h-1zM573 227h1v2h-1zM427 229h1v2h-1zM574 229h1v2h-1zM426 231h1v3h-1zM575 231h1v2h-1zM576 233h1v2h-1zM425 234h1v2h-1zM577 235h1v1h-1zM424 236h1v3h-1zM578 236h1v1h-1zM579 237h1v1h-1zM580 238h2v1h-2zM423 239h1v3h-1zM582 239h3v1h-3zM585 240h1v1h-1zM586 241h2v1h-2zM422 242h1v2h-1zM588 242h13v1h-13zM601 243h1v1h-1zM421 244h1v3h-1zM602 244h1v1h-1zM603 245h1v1h-1zM604 246h1v1h-1zM420 247h1v3h-1zM605 247h2v1h-2zM607 248h23v1h-23zM630 249h7v1h-7zM419 250h1v4h-1zM637 250h1v1h-1zM638 251h1v1h-1zM639 252h1v1h-1zM640 253h1v1h-1zM418 254h1v3h-1zM641 254h1v2h-1zM642 256h1v2h-1zM417 257h1v4h-1zM643 258h1v2h-1zM644 260h1v2h-1zM416 261h1v3h-1zM320 262h1v1h-1zM332 262h1v1h-1zM645 262h1v2h-1zM1336 262h1v1h-1zM319 263h1v1h-1zM321 263h2v1h-2zM331 263h1v1h-1zM333 263h2v1h-2zM1335 263h1v1h-1zM1337 263h1v2h-1zM317 264h2v1h-2zM323 264h3v1h-3zM329 264h2v1h-2zM335 264h2v1h-2zM415 264h1v2h-1zM646 264h1v3h-1zM1333 264h2v1h-2zM316 265h1v1h-1zM326 265h3v1h-3zM336 265h1v1h-1zM1332 265h1v1h-1zM1338 265h1v2h-1zM315 266h1v1h-1zM337 266h1v3h-1zM414 266h1v2h-1zM1331 266h1v2h-1zM314 267h1v1h-1zM647 267h1v2h-1zM1339 267h1v2h-1zM313 268h1v1h-1zM413 268h1v2h-1zM1330 268h1v1h-1zM312 269h1v1h-1zM338 269h1v2h-1zM648 269h1v3h-1zM1329 269h1v2h-1zM1340 269h1v2h-1zM311 270h1v1h-1zM372 270h1v1h-1zM412 270h1v3h-1zM309 271h2v1h-2zM339 271h1v3h-1zM370 271h2v1h-2zM373 271h2v1h-2zM1328 271h1v1h-1zM308 272h1v1h-1zM367 272h3v1h-3zM375 272h2v1h-2zM649 272h1v4h-1zM1295 272h2v1h-2zM1327 272h1v1h-1zM307 273h1v2h-1zM363 273h4v1h-4zM376 273h1v1h-1zM411 273h1v2h-1zM1288 273h7v1h-7zM1297 273h2v1h-2zM1325 273h2v1h-2zM340 274h1v2h-1zM360 274h3v1h-3zM377 274h1v2h-1zM1248 274h1v1h-1zM1286 274h2v1h-2zM1299 274h3v1h-3zM1307 274h7v1h-7zM1323 274h2v1h-2zM306 275h1v1h-1zM359 275h1v1h-1zM410 275h1v2h-1zM1247 275h1v1h-1zM1249 275h2v1h-2zM1283 275h3v1h-3zM1302 275h5v1h-5zM1314 275h9v1h-9zM305 276h1v2h-1zM341 276h1v1h-1zM357 276h2v1h-2zM378 276h1v3h-1zM650 276h1v3h-1zM1246 276h1v2h-1zM1251 276h2v1h-2zM1275 276h8v1h-8zM342 277h1v2h-1zM356 277h1v1h-1zM409 277h1v2h-1zM1253 277h2v1h-2zM1268 277h7v1h-7zM304 278h1v1h-1zM355 278h1v1h-1zM1245 278h1v1h-1zM1255 278h7v1h-7zM1266 278h2v1h-2zM303 279h1v2h-1zM343 279h1v1h-1zM354 279h1v2h-1zM379 279h1v2h-1zM408 279h1v2h-1zM651 279h1v4h-1zM1244 279h1v3h-1zM1262 279h4v1h-4zM344 280h1v1h-1zM302 281h1v2h-1zM345 281h1v1h-1zM353 281h1v1h-1zM380 281h1v3h-1zM407 281h1v2h-1zM346 282h2v1h-2zM351 282h2v1h-2zM1243 282h1v6h-1zM301 283h1v2h-1zM348 283h3v1h-3zM406 283h1v2h-1zM652 283h1v3h-1zM381 284h1v3h-1zM300 285h1v2h-1zM405 285h1v2h-1zM653 286h1v3h-1zM299 287h1v3h-1zM382 287h1v3h-1zM404 287h1v2h-1zM1242 288h1v6h-1zM403 289h1v1h-1zM654 289h1v2h-1zM298 290h1v4h-1zM383 290h1v3h-1zM402 290h1v1h-1zM401 291h1v1h-1zM655 291h1v3h-1zM400 292h1v1h-1zM384 293h1v2h-1zM399 293h1v1h-1zM297 294h1v3h-1zM397 294h2v1h-2zM656 294h1v3h-1zM1241 294h1v6h-1zM385 295h1v1h-1zM395 295h2v1h-2zM386 296h2v1h-2zM391 296h4v1h-4zM296 297h1v3h-1zM388 297h3v1h-3zM657 297h1v3h-1zM7 300h3v1h-3zM295 300h1v2h-1zM658 300h1v2h-1zM1240 300h1v5h-1zM4 301h3v1h-3zM10 301h3v1h-3zM2 302h2v1h-2zM13 302h2v1h-2zM19 302h6v1h-6zM56 302h1v1h-1zM294 302h1v2h-1zM659 302h1v3h-1zM0 303h2v1h-2zM15 303h4v1h-4zM25 303h1v2h-1zM55 303h1v1h-1zM57 303h1v1h-1zM53 304h2v1h-2zM58 304h1v1h-1zM293 304h1v2h-1zM26 305h1v2h-1zM52 305h1v2h-1zM59 305h1v1h-1zM660 305h1v3h-1zM1239 305h1v4h-1zM60 306h1v1h-1zM104 306h1v2h-1zM292 306h1v2h-1zM27 307h1v2h-1zM51 307h1v2h-1zM61 307h1v1h-1zM105 307h2v1h-2zM62 308h1v2h-1zM103 308h1v2h-1zM107 308h2v1h-2zM291 308h1v3h-1zM661 308h1v3h-1zM28 309h1v2h-1zM50 309h1v3h-1zM108 309h1v2h-1zM1238 309h1v4h-1zM40 310h1v1h-1zM63 310h1v1h-1zM102 310h1v2h-1zM29 311h2v1h-2zM38 311h2v1h-2zM41 311h1v1h-1zM64 311h1v1h-1zM109 311h1v5h-1zM290 311h1v2h-1zM662 311h1v3h-1zM31 312h7v1h-7zM42 312h2v1h-2zM49 312h1v2h-1zM65 312h1v2h-1zM84 312h1v1h-1zM101 312h1v2h-1zM44 313h1v1h-1zM83 313h1v1h-1zM85 313h1v1h-1zM289 313h1v3h-1zM1237 313h1v4h-1zM45 314h2v1h-2zM48 314h1v2h-1zM66 314h1v2h-1zM81 314h2v1h-2zM86 314h2v1h-2zM100 314h1v1h-1zM663 314h1v3h-1zM47 315h1v1h-1zM80 315h1v1h-1zM88 315h1v1h-1zM99 315h1v2h-1zM67 316h1v2h-1zM79 316h1v1h-1zM89 316h1v1h-1zM110 316h1v4h-1zM288 316h1v2h-1zM77 317h2v1h-2zM90 317h2v1h-2zM98 317h1v2h-1zM664 317h1v3h-1zM1236 317h1v4h-1zM68 318h2v1h-2zM75 318h2v1h-2zM92 318h1v1h-1zM287 318h1v1h-1zM70 319h5v1h-5zM93 319h1v1h-1zM97 319h1v2h-1zM286 319h1v2h-1zM94 320h2v1h-2zM111 320h1v5h-1zM665 320h1v4h-1zM96 321h1v1h-1zM285 321h1v1h-1zM1235 321h1v2h-1zM284 322h1v2h-1zM1234 323h1v3h-1zM283 324h1v2h-1zM666 324h1v3h-1zM112 325h1v5h-1zM282 326h1v2h-1zM1233 326h1v2h-1zM667 327h1v4h-1zM281 328h1v2h-1zM1232 328h1v5h-1zM113 330h1v6h-1zM280 330h1v2h-1zM668 331h1v3h-1zM279 332h1v1h-1zM278 333h1v1h-1zM1231 333h1v8h-1zM277 334h1v1h-1zM669 334h1v3h-1zM276 335h1v1h-1zM114 336h1v5h-1zM275 336h1v2h-1zM670 337h1v4h-1zM728 337h17v1h-17zM274 338h1v1h-1zM727 338h1v1h-1zM745 338h1v2h-1zM273 339h1v2h-1zM726 339h1v1h-1zM725 340h1v1h-1zM746 340h1v1h-1zM115 341h1v6h-1zM272 341h1v2h-1zM671 341h1v3h-1zM724 341h1v1h-1zM747 341h1v2h-1zM1230 341h1v8h-1zM723 342h1v1h-1zM271 343h1v3h-1zM722 343h1v2h-1zM748 343h1v1h-1zM672 344h1v2h-1zM749 344h1v1h-1zM260 345h1v1h-1zM721 345h1v1h-1zM750 345h1v1h-1zM258 346h2v1h-2zM261 346h1v1h-1zM270 346h1v3h-1zM673 346h1v2h-1zM720 346h1v2h-1zM751 346h1v1h-1zM116 347h1v3h-1zM256 347h2v1h-2zM262 347h1v1h-1zM752 347h1v1h-1zM255 348h1v1h-1zM263 348h1v1h-1zM674 348h1v2h-1zM719 348h1v2h-1zM753 348h1v2h-1zM253 349h2v1h-2zM264 349h1v1h-1zM269 349h1v3h-1zM1229 349h1v8h-1zM117 350h1v1h-1zM252 350h1v1h-1zM265 350h1v1h-1zM675 350h1v2h-1zM718 350h1v2h-1zM754 350h1v2h-1zM118 351h1v2h-1zM251 351h1v2h-1zM266 351h1v1h-1zM267 352h2v1h-2zM676 352h1v2h-1zM717 352h1v2h-1zM755 352h1v2h-1zM119 353h1v1h-1zM250 353h1v1h-1zM268 353h1v1h-1zM120 354h1v1h-1zM249 354h1v2h-1zM677 354h1v2h-1zM716 354h1v3h-1zM756 354h1v2h-1zM121 355h1v1h-1zM787 355h3v1h-3zM122 356h2v1h-2zM215 356h11v1h-11zM235 356h6v1h-6zM248 356h1v1h-1zM678 356h1v1h-1zM757 356h1v1h-1zM783 356h4v1h-4zM790 356h15v1h-15zM124 357h1v1h-1zM212 357h3v1h-3zM226 357h9v1h-9zM241 357h1v1h-1zM247 357h1v1h-1zM679 357h1v2h-1zM715 357h1v2h-1zM758 357h1v2h-1zM779 357h4v1h-4zM805 357h1v1h-1zM1228 357h1v10h-1zM125 358h1v2h-1zM211 358h1v1h-1zM242 358h1v1h-1zM246 358h1v1h-1zM776 358h3v1h-3zM806 358h1v1h-1zM210 359h1v1h-1zM243 359h1v1h-1zM245 359h1v1h-1zM680 359h1v1h-1zM714 359h1v2h-1zM759 359h1v1h-1zM774 359h2v1h-2zM807 359h1v1h-1zM126 360h1v2h-1zM209 360h1v1h-1zM244 360h1v1h-1zM681 360h1v1h-1zM760 360h14v1h-14zM808 360h1v1h-1zM208 361h1v1h-1zM682 361h2v1h-2zM713 361h1v2h-1zM809 361h1v1h-1zM127 362h1v2h-1zM196 362h6v1h-6zM206 362h2v1h-2zM684 362h1v1h-1zM810 362h1v1h-1zM196 363h1v1h-1zM202 363h4v1h-4zM685 363h1v1h-1zM712 363h1v2h-1zM811 363h1v1h-1zM128 364h1v2h-1zM195 364h1v2h-1zM686 364h2v1h-2zM812 364h1v1h-1zM688 365h1v1h-1zM711 365h1v2h-1zM813 365h1v1h-1zM129 366h1v1h-1zM194 366h1v3h-1zM689 366h1v1h-1zM814 366h2v1h-2zM130 367h1v1h-1zM180 367h6v1h-6zM690 367h1v1h-1zM710 367h1v2h-1zM816 367h1v1h-1zM1227 367h1v12h-1zM131 368h1v1h-1zM179 368h1v1h-1zM186 368h3v1h-3zM691 368h1v1h-1zM817 368h1v2h-1zM132 369h1v1h-1zM177 369h2v1h-2zM189 369h1v1h-1zM193 369h1v2h-1zM692 369h1v1h-1zM709 369h1v2h-1zM133 370h1v1h-1zM175 370h2v1h-2zM190 370h1v1h-1zM693 370h1v1h-1zM818 370h1v1h-1zM134 371h2v1h-2zM159 371h16v1h-16zM191 371h2v1h-2zM694 371h1v1h-1zM708 371h1v2h-1zM819 371h1v2h-1zM136 372h6v1h-6zM155 372h4v1h-4zM192 372h1v1h-1zM695 372h1v1h-1zM142 373h4v1h-4zM151 373h4v1h-4zM696 373h1v1h-1zM707 373h1v1h-1zM820 373h1v1h-1zM146 374h5v1h-5zM697 374h2v1h-2zM705 374h2v1h-2zM821 374h1v2h-1zM699 375h6v1h-6zM822 376h1v2h-1zM823 378h1v2h-1zM1226 379h1v13h-1zM824 380h1v1h-1zM825 381h1v1h-1zM826 382h1v1h-1zM827 383h1v1h-1zM828 384h1v2h-1zM829 386h1v2h-1zM830 388h1v2h-1zM831 390h1v2h-1zM832 392h1v2h-1zM1225 392h1v12h-1zM833 394h2v1h-2zM835 395h2v1h-2zM837 396h2v1h-2zM839 397h2v1h-2zM841 398h2v1h-2zM843 399h3v1h-3zM846 400h3v1h-3zM849 401h1v1h-1zM850 402h2v1h-2zM852 403h1v1h-1zM853 404h1v2h-1zM1224 404h1v11h-1zM854 406h1v2h-1zM855 408h1v2h-1zM884 409h2v1h-2zM856 410h1v2h-1zM883 410h1v1h-1zM886 410h3v1h-3zM881 411h2v1h-2zM889 411h1v2h-1zM857 412h1v1h-1zM879 412h2v1h-2zM858 413h1v1h-1zM875 413h4v1h-4zM890 413h1v1h-1zM859 414h1v1h-1zM871 414h4v1h-4zM891 414h1v2h-1zM860 415h11v1h-11zM1223 415h1v9h-1zM892 416h1v1h-1zM893 417h1v2h-1zM894 419h1v1h-1zM895 420h1v2h-1zM896 422h1v3h-1zM1222 424h1v9h-1zM897 425h1v6h-1zM898 431h1v6h-1zM1221 433h1v9h-1zM899 437h1v6h-1zM1220 442h1v8h-1zM900 443h1v5h-1zM901 448h1v6h-1zM1219 450h1v6h-1zM902 454h1v6h-1zM1218 456h1v6h-1zM903 460h1v6h-1zM1217 462h1v6h-1zM904 466h1v6h-1zM1216 468h1v5h-1zM1108 471h1v1h-1zM905 472h1v5h-1zM1107 472h1v1h-1zM1109 472h2v1h-2zM1119 472h2v1h-2zM1105 473h2v1h-2zM1111 473h8v1h-8zM1121 473h2v1h-2zM1215 473h1v4h-1zM1104 474h1v3h-1zM1123 474h3v1h-3zM1126 475h11v1h-11zM1137 476h1v1h-1zM906 477h1v4h-1zM1103 477h1v5h-1zM1138 477h1v1h-1zM1214 477h1v5h-1zM1139 478h1v1h-1zM1140 479h1v1h-1zM1141 480h1v2h-1zM907 481h1v5h-1zM1102 482h1v6h-1zM1142 482h1v2h-1zM1213 482h1v4h-1zM1143 484h1v2h-1zM908 486h1v5h-1zM1144 486h1v2h-1zM1212 486h1v4h-1zM1101 488h1v5h-1zM1145 488h1v2h-1zM1146 490h1v2h-1zM1211 490h1v4h-1zM909 491h1v5h-1zM1147 492h1v2h-1zM1100 493h1v5h-1zM1151 493h2v1h-2zM1148 494h3v1h-3zM1152 494h1v1h-1zM1210 494h1v4h-1zM1153 495h1v2h-1zM910 496h1v4h-1zM1154 497h1v3h-1zM1099 498h1v5h-1zM1209 498h1v4h-1zM911 500h1v5h-1zM1155 500h1v2h-1zM1156 502h1v2h-1zM1208 502h1v3h-1zM1098 503h1v5h-1zM1157 504h1v1h-1zM912 505h1v4h-1zM1158 505h1v2h-1zM1207 505h1v4h-1zM1159 507h1v1h-1zM1097 508h1v5h-1zM1160 508h1v1h-1zM913 509h1v3h-1zM1161 509h1v1h-1zM1206 509h1v3h-1zM1162 510h1v1h-1zM1163 511h1v1h-1zM914 512h1v3h-1zM1164 512h1v2h-1zM1205 512h1v4h-1zM1096 513h1v4h-1zM1165 514h1v3h-1zM915 515h1v3h-1zM1204 516h1v3h-1zM1095 517h1v2h-1zM1166 517h1v3h-1zM916 518h1v3h-1zM1094 519h1v2h-1zM1203 519h1v3h-1zM1167 520h1v3h-1zM917 521h1v3h-1zM1093 521h1v2h-1zM1202 522h1v4h-1zM1092 523h1v3h-1zM1168 523h1v3h-1zM918 524h1v3h-1zM1091 526h1v2h-1zM1169 526h1v3h-1zM1201 526h1v3h-1zM919 527h1v3h-1zM1090 528h1v3h-1zM1170 529h1v3h-1zM1200 529h1v3h-1zM920 530h1v2h-1zM1056 531h2v1h-2zM1089 531h1v2h-1zM921 532h1v2h-1zM1054 532h2v1h-2zM1058 532h3v1h-3zM1171 532h1v3h-1zM1199 532h1v3h-1zM1052 533h2v1h-2zM1061 533h1v1h-1zM1088 533h1v2h-1zM922 534h1v2h-1zM1051 534h1v1h-1zM1062 534h1v2h-1zM1049 535h2v1h-2zM1087 535h1v1h-1zM1172 535h1v3h-1zM1198 535h1v3h-1zM923 536h1v2h-1zM1040 536h9v1h-9zM1063 536h1v1h-1zM1086 536h1v2h-1zM1039 537h1v1h-1zM1064 537h2v1h-2zM924 538h1v2h-1zM1038 538h1v1h-1zM1066 538h3v1h-3zM1085 538h1v1h-1zM1173 538h1v2h-1zM1197 538h1v3h-1zM1037 539h1v1h-1zM1069 539h1v1h-1zM1084 539h1v1h-1zM925 540h1v1h-1zM1036 540h1v1h-1zM1070 540h2v1h-2zM1075 540h2v1h-2zM1083 540h1v1h-1zM1174 540h1v2h-1zM926 541h1v2h-1zM1035 541h1v2h-1zM1072 541h3v1h-3zM1077 541h2v1h-2zM1081 541h2v1h-2zM1196 541h1v3h-1zM1079 542h2v1h-2zM1175 542h1v2h-1zM927 543h1v1h-1zM1034 543h1v1h-1zM928 544h1v1h-1zM980 544h1v1h-1zM1033 544h1v2h-1zM1176 544h1v3h-1zM1195 544h1v2h-1zM929 545h1v2h-1zM978 545h2v1h-2zM981 545h1v1h-1zM976 546h2v1h-2zM982 546h1v1h-1zM1032 546h1v1h-1zM1194 546h1v2h-1zM930 547h1v2h-1zM976 547h1v1h-1zM983 547h1v1h-1zM1030 547h2v1h-2zM1177 547h1v2h-1zM975 548h1v4h-1zM984 548h1v1h-1zM1028 548h2v1h-2zM1193 548h1v2h-1zM931 549h1v2h-1zM985 549h1v2h-1zM1027 549h1v1h-1zM1178 549h1v3h-1zM1025 550h2v1h-2zM1192 550h1v1h-1zM932 551h1v2h-1zM986 551h1v1h-1zM1024 551h1v1h-1zM1191 551h1v2h-1zM974 552h1v3h-1zM987 552h1v2h-1zM1023 552h1v1h-1zM1179 552h1v2h-1zM933 553h1v2h-1zM1022 553h1v2h-1zM1190 553h1v2h-1zM988 554h2v1h-2zM1180 554h1v2h-1zM934 555h1v2h-1zM973 555h1v4h-1zM990 555h4v1h-4zM1021 555h1v1h-1zM1189 555h1v2h-1zM994 556h3v1h-3zM1019 556h2v1h-2zM1181 556h2v1h-2zM935 557h1v2h-1zM997 557h2v1h-2zM1011 557h8v1h-8zM1183 557h6v1h-6zM999 558h12v1h-12zM936 559h1v2h-1zM972 559h1v3h-1zM937 561h1v3h-1zM971 562h1v2h-1zM938 564h1v3h-1zM970 564h1v2h-1zM969 566h1v2h-1zM939 567h1v3h-1zM968 568h1v2h-1zM940 570h1v2h-1zM967 570h1v2h-1zM941 572h1v2h-1zM966 572h1v3h-1zM942 574h1v2h-1zM965 575h1v2h-1zM943 576h1v2h-1zM964 577h1v3h-1zM944 578h1v2h-1zM945 580h1v1h-1zM963 580h1v2h-1zM946 581h1v1h-1zM947 582h1v1h-1zM962 582h1v2h-1zM948 583h1v1h-1zM949 584h2v1h-2zM961 584h1v2h-1zM951 585h2v1h-2zM953 586h2v1h-2zM959 586h2v1h-2zM955 587h4v1h-4z"/>
</g>
<path fill="#000" d="M0 134h1v37h-1zM4 142h1v39h-1zM8 172h1v35h-1zM12 218h1v6h-1zM16 215h1v43h-1zM20 179h1v71h-1zM24 170h1v69h-1zM28 186h1v109h-1zM32 241h1v40h-1zM36 253h1v5h-1zM40 238h1v33h-1zM44 239h1v39h-1zM48 261h1v21h-1zM52 222h1v57h-1zM56 239h1v31h-1zM60 260h1v5h-1zM64 245h1v26h-1zM68 261h1v35h-1zM72 251h1v43h-1zM76 250h1v35h-1zM80 265h1v28h-1zM84 286h1v6h-1zM88 259h1v47h-1zM92 254h1v66h-1zM96 269h1v46h-1zM100 264h1v41h-1zM104 272h1v29h-1zM108 295h1v6h-1zM112 283h1v92h-1zM116 326h1v59h-1zM120 315h1v71h-1zM124 309h1v29h-1zM128 321h1v46h-1zM132 345h1v4h-1zM136 323h1v27h-1zM140 302h1v36h-1zM144 311h1v28h-1zM148 302h1v35h-1zM152 305h1v29h-1zM156 322h1v5h-1zM160 290h1v39h-1zM164 306h1v13h-1zM168 298h1v32h-1zM172 313h1v23h-1zM176 302h1v27h-1zM180 304h1v6h-1zM184 263h1v49h-1zM188 285h1v9h-1zM192 278h1v114h-1zM196 324h1v48h-1zM200 288h1v48h-1zM204 290h1v9h-1zM208 271h1v27h-1zM212 269h1v34h-1zM216 267h1v33h-1zM220 268h1v27h-1zM224 245h1v57h-1zM228 246h1v6h-1zM232 221h1v41h-1zM236 228h1v89h-1zM240 233h1v27h-1zM244 196h1v62h-1zM248 199h1v45h-1zM252 243h1v8h-1zM256 229h1v29h-1zM260 205h1v43h-1zM264 167h1v50h-1zM268 150h1v42h-1zM272 125h1v50h-1zM276 121h1v3h-1zM280 121h1v26h-1zM284 124h1v53h-1zM288 144h1v34h-1zM292 139h1v23h-1zM296 155h1v27h-1zM300 168h1v4h-1zM304 159h1v29h-1zM308 178h1v46h-1zM312 204h1v20h-1zM316 198h1v52h-1zM320 205h1v21h-1zM324 219h1v3h-1zM328 218h1v35h-1zM332 229h1v29h-1zM336 211h1v41h-1zM340 240h1v39h-1zM344 234h1v41h-1zM348 230h1v3h-1zM352 218h1v18h-1zM356 170h1v64h-1zM360 157h1v36h-1zM364 162h1v26h-1zM368 168h1v41h-1zM372 173h1v3h-1zM376 150h1v29h-1zM380 93h1v60h-1zM384 70h1v43h-1zM388 81h1v24h-1zM392 93h1v37h-1zM396 110h1v4h-1zM400 105h1v32h-1zM404 125h1v37h-1zM408 130h1v23h-1zM412 130h1v42h-1zM416 157h1v44h-1zM420 198h1v6h-1zM424 92h1v120h-1zM428 108h1v86h-1zM432 59h1v115h-1zM436 77h1v45h-1zM440 88h1v36h-1zM444 89h1v4h-1zM448 88h1v42h-1zM452 84h1v27h-1zM456 99h1v46h-1zM460 114h1v81h-1zM464 116h1v52h-1zM468 120h1v3h-1zM472 108h1v32h-1zM476 102h1v37h-1zM480 99h1v47h-1zM484 125h1v60h-1zM488 148h1v57h-1zM492 187h1v4h-1zM496 142h1v52h-1zM500 143h1v49h-1zM504 126h1v28h-1zM508 127h1v49h-1zM512 152h1v50h-1zM516 182h1v3h-1zM520 170h1v15h-1zM524 153h1v33h-1zM528 154h1v26h-1zM532 157h1v22h-1zM536 149h1v30h-1zM540 166h1v3h-1zM544 153h1v15h-1zM548 160h1v22h-1zM552 172h1v14h-1zM556 177h1v27h-1zM560 198h1v2h-1zM564 197h1v8h-1zM568 190h1v33h-1zM572 209h1v28h-1zM576 226h1v20h-1zM580 217h1v25h-1zM584 226h1v1h-1zM588 216h1v15h-1zM592 179h1v45h-1zM596 159h1v26h-1zM600 167h1v23h-1zM604 133h1v69h-1zM608 135h1v9h-1zM612 142h1v26h-1zM616 149h1v33h-1zM620 167h1v35h-1zM624 183h1v26h-1zM628 179h1v21h-1zM632 192h1v2h-1zM636 182h1v36h-1zM640 207h1v25h-1zM644 224h1v36h-1zM648 250h1v24h-1zM652 268h1v30h-1zM656 293h1v3h-1zM660 284h1v15h-1zM664 265h1v45h-1zM668 297h1v35h-1zM672 310h1v29h-1zM676 293h1v31h-1zM680 294h1v3h-1zM684 287h1v29h-1zM688 304h1v18h-1zM692 315h1v21h-1zM696 326h1v21h-1zM700 327h1v28h-1zM704 326h1v3h-1zM708 314h1v24h-1zM712 299h1v26h-1zM716 289h1v23h-1zM720 289h1v27h-1zM724 282h1v27h-1zM728 295h1v3h-1zM732 294h1v27h-1zM736 293h1v23h-1zM740 283h1v28h-1zM744 302h1v16h-1zM748 311h1v37h-1zM752 342h1v2h-1zM756 338h1v28h-1zM760 352h1v23h-1zM764 314h1v48h-1zM768 295h1v27h-1zM772 290h1v36h-1zM776 286h1v5h-1zM780 280h1v21h-1zM784 274h1v41h-1zM788 302h1v16h-1zM792 295h1v23h-1zM796 292h1v26h-1zM800 304h1v4h-1zM804 302h1v27h-1zM808 324h1v22h-1zM812 340h1v17h-1zM816 344h1v8h-1zM820 345h1v39h-1zM824 366h1v3h-1zM828 362h1v15h-1zM832 370h1v29h-1zM836 369h1v29h-1zM840 351h1v24h-1zM844 349h1v21h-1zM848 350h1v3h-1zM852 349h1v25h-1zM856 369h1v46h-1zM860 392h1v28h-1zM864 355h1v48h-1zM868 357h1v29h-1zM872 372h1v4h-1zM876 372h1v21h-1zM880 383h1v24h-1zM884 368h1v36h-1zM888 370h1v30h-1zM892 391h1v31h-1zM896 419h1v3h-1zM900 419h1v62h-1zM904 476h1v39h-1zM908 467h1v41h-1zM912 495h1v34h-1zM916 495h1v30h-1zM920 501h1v3h-1zM924 489h1v32h-1zM928 481h1v27h-1zM932 488h1v26h-1zM936 491h1v32h-1zM940 503h1v37h-1zM944 545h1v7h-1zM948 518h1v33h-1zM952 521h1v21h-1zM956 520h1v21h-1zM960 502h1v37h-1zM964 493h1v35h-1zM968 499h1v3h-1zM972 494h1v26h-1zM976 492h1v42h-1zM980 493h1v24h-1zM984 458h1v60h-1zM988 453h1v34h-1zM992 458h1v6h-1zM996 455h1v28h-1zM1000 446h1v36h-1zM1004 453h1v48h-1zM1008 473h1v22h-1zM1012 475h1v32h-1zM1016 497h1v4h-1zM1020 494h1v50h-1zM1024 518h1v54h-1zM1028 464h1v62h-1zM1032 429h1v53h-1zM1036 433h1v24h-1zM1040 452h1v4h-1zM1044 418h1v55h-1zM1048 420h1v26h-1zM1052 423h1v22h-1zM1056 424h1v31h-1zM1060 384h1v56h-1zM1064 375h1v5h-1zM1068 377h1v37h-1zM1072 367h1v49h-1zM1076 372h1v26h-1zM1080 355h1v45h-1zM1084 347h1v45h-1zM1088 386h1v3h-1zM1092 380h1v29h-1zM1096 375h1v33h-1zM1100 380h1v54h-1zM1104 419h1v28h-1zM1108 435h1v25h-1zM1112 450h1v2h-1zM1116 432h1v26h-1zM1120 435h1v49h-1zM1124 440h1v36h-1zM1128 408h1v54h-1zM1132 428h1v30h-1zM1136 436h1v3h-1zM1140 435h1v20h-1zM1144 448h1v39h-1zM1148 452h1v34h-1zM1152 388h1v94h-1zM1156 302h1v108h-1zM1160 326h1v10h-1zM1164 324h1v48h-1zM1168 269h1v71h-1zM1172 241h1v80h-1zM1176 245h1v42h-1zM1180 209h1v46h-1zM1184 228h1v8h-1zM1188 192h1v46h-1zM1192 196h1v51h-1zM1196 225h1v30h-1zM1200 214h1v59h-1zM1204 246h1v22h-1zM1208 257h1v3h-1zM1212 241h1v23h-1zM1216 231h1v35h-1zM1220 230h1v23h-1zM1224 205h1v28h-1zM1228 206h1v18h-1zM1232 219h1v3h-1zM1236 217h1v25h-1zM1240 226h1v22h-1zM1244 233h1v20h-1zM1248 240h1v30h-1zM1252 260h1v21h-1zM1256 270h1v3h-1zM1260 233h1v42h-1zM1264 242h1v22h-1zM1268 247h1v13h-1zM1272 237h1v23h-1zM1276 226h1v19h-1zM1280 225h1v5h-1zM1284 202h1v26h-1zM1288 207h1v23h-1zM1292 222h1v16h-1zM1296 207h1v29h-1zM1300 222h1v39h-1zM1304 250h1v4h-1zM1308 228h1v27h-1zM1312 231h1v25h-1zM1316 215h1v45h-1zM1320 214h1v20h-1zM1324 217h1v24h-1zM1328 227h1v3h-1zM1332 215h1v20h-1zM1336 192h1v30h-1zM1340 153h1v49h-1z"/>
<path fill="#000" d="M-1 151h3v5h-3zM3 150h3v24h-3zM7 173h3v33h-3zM11 219h3v5h-3zM15 218h3v31h-3zM19 191h3v58h-3zM23 191h3v11h-3zM27 202h3v79h-3zM31 257h3v24h-3zM35 256h3v2h-3zM39 248h3v8h-3zM43 248h3v26h-3zM47 273h3v5h-3zM51 241h3v37h-3zM55 241h3v24h-3zM59 261h3v3h-3zM63 264h3v1h-3zM67 264h3v26h-3zM71 260h3v30h-3zM75 260h3v14h-3zM79 274h3v16h-3zM83 286h3v5h-3zM87 286h3v9h-3zM91 297h3v1h-3zM95 295h3v4h-3zM99 276h3v19h-3zM103 274h3v13h-3zM107 297h3v4h-3zM111 298h3v58h-3zM115 355h3v25h-3zM119 332h3v48h-3zM123 321h3v11h-3zM127 321h3v28h-3zM131 346h3v2h-3zM135 335h3v12h-3zM139 321h3v14h-3zM143 321h3v11h-3zM147 316h3v16h-3zM151 316h3v13h-3zM155 322h3v4h-3zM159 308h3v15h-3zM163 309h3v7h-3zM167 309h3v14h-3zM171 323h3v1h-3zM175 306h3v18h-3zM179 306h3v3h-3zM183 290h3v18h-3zM187 285h3v8h-3zM191 285h3v87h-3zM195 332h3v40h-3zM199 289h3v43h-3zM203 293h3v5h-3zM207 274h3v19h-3zM211 274h3v16h-3zM215 269h3v22h-3zM219 269h3v16h-3zM223 252h3v32h-3zM227 247h3v4h-3zM231 241h3v10h-3zM235 242h3v1h-3zM239 238h3v6h-3zM243 202h3v36h-3zM247 202h3v41h-3zM251 244h3v7h-3zM255 236h3v15h-3zM259 212h3v24h-3zM263 167h3v45h-3zM267 153h3v14h-3zM271 125h3v28h-3zM275 121h3v2h-3zM279 121h3v19h-3zM283 139h3v29h-3zM287 155h3v13h-3zM291 155h3v3h-3zM295 157h3v10h-3zM299 170h3v1h-3zM303 169h3v19h-3zM307 186h3v27h-3zM311 212h3v9h-3zM315 216h3v5h-3zM319 215h3v6h-3zM323 219h3v3h-3zM327 219h3v26h-3zM331 236h3v9h-3zM335 236h3v14h-3zM339 249h3v21h-3zM343 237h3v32h-3zM347 230h3v2h-3zM351 224h3v8h-3zM355 175h3v49h-3zM359 175h3v6h-3zM363 180h3v3h-3zM367 174h3v9h-3zM371 173h3v3h-3zM375 151h3v23h-3zM379 103h3v49h-3zM383 82h3v22h-3zM387 82h3v20h-3zM391 101h3v29h-3zM395 110h3v4h-3zM399 111h3v22h-3zM403 132h3v9h-3zM407 131h3v10h-3zM411 131h3v34h-3zM415 164h3v28h-3zM419 202h3v1h-3zM423 108h3v94h-3zM427 108h3v66h-3zM431 93h3v81h-3zM435 93h3v11h-3zM439 94h3v10h-3zM443 89h3v2h-3zM447 90h3v12h-3zM451 99h3v3h-3zM455 100h3v24h-3zM459 122h3v29h-3zM463 121h3v30h-3zM467 120h3v2h-3zM471 120h3v2h-3zM475 120h3v2h-3zM479 121h3v22h-3zM483 142h3v36h-3zM487 177h3v19h-3zM491 189h3v1h-3zM495 172h3v17h-3zM499 151h3v21h-3zM503 133h3v19h-3zM507 133h3v37h-3zM511 170h3v17h-3zM515 183h3v2h-3zM519 174h3v10h-3zM523 174h3v4h-3zM527 161h3v17h-3zM531 162h3v16h-3zM535 170h3v8h-3zM539 166h3v3h-3zM543 160h3v7h-3zM547 161h3v21h-3zM551 180h3v4h-3zM555 182h3v22h-3zM559 198h3v2h-3zM563 199h3v4h-3zM567 203h3v17h-3zM571 219h3v13h-3zM575 231h3v4h-3zM579 223h3v11h-3zM583 226h3v1h-3zM587 221h3v6h-3zM591 182h3v40h-3zM595 178h3v5h-3zM599 177h3v9h-3zM603 137h3v49h-3zM607 136h3v7h-3zM611 143h3v19h-3zM615 161h3v11h-3zM619 172h3v23h-3zM623 193h3v1h-3zM627 192h3v3h-3zM631 192h3v2h-3zM635 193h3v18h-3zM639 209h3v22h-3zM643 230h3v22h-3zM647 252h3v18h-3zM651 269h3v26h-3zM655 293h3v3h-3zM659 294h3v1h-3zM663 294h3v8h-3zM667 302h3v15h-3zM671 318h3v1h-3zM675 300h3v18h-3zM679 294h3v3h-3zM683 296h3v16h-3zM687 311h3v9h-3zM691 319h3v12h-3zM695 330h3v9h-3zM699 328h3v11h-3zM703 326h3v3h-3zM707 317h3v11h-3zM711 303h3v15h-3zM715 304h3v6h-3zM719 307h3v3h-3zM723 290h3v17h-3zM727 295h3v2h-3zM731 296h3v12h-3zM735 296h3v12h-3zM739 296h3v12h-3zM743 307h3v6h-3zM747 312h3v35h-3zM751 342h3v2h-3zM755 343h3v20h-3zM759 353h3v10h-3zM763 321h3v32h-3zM767 302h3v20h-3zM771 291h3v11h-3zM775 287h3v3h-3zM779 286h3v5h-3zM783 290h3v19h-3zM787 306h3v3h-3zM791 306h3v9h-3zM795 303h3v12h-3zM799 304h3v2h-3zM803 307h3v18h-3zM807 324h3v18h-3zM811 341h3v8h-3zM815 347h3v1h-3zM819 346h3v22h-3zM823 366h3v2h-3zM827 367h3v5h-3zM831 371h3v22h-3zM835 374h3v19h-3zM839 369h3v5h-3zM843 351h3v18h-3zM847 350h3v2h-3zM851 350h3v21h-3zM855 370h3v40h-3zM859 400h3v10h-3zM863 361h3v39h-3zM867 361h3v17h-3zM871 372h3v3h-3zM875 372h3v15h-3zM879 386h3v14h-3zM883 382h3v18h-3zM887 382h3v12h-3zM891 394h3v25h-3zM895 420h3v2h-3zM899 421h3v58h-3zM903 478h3v23h-3zM907 500h3v2h-3zM911 501h3v11h-3zM915 499h3v13h-3zM919 501h3v2h-3zM923 500h3v3h-3zM927 495h3v7h-3zM931 495h3v12h-3zM935 505h3v2h-3zM939 505h3v33h-3zM943 545h3v5h-3zM947 528h3v22h-3zM951 528h3v6h-3zM955 534h3v2h-3zM959 524h3v12h-3zM963 502h3v22h-3zM967 499h3v3h-3zM971 500h3v10h-3zM975 498h3v12h-3zM979 498h3v12h-3zM983 466h3v44h-3zM987 453h3v13h-3zM991 458h3v5h-3zM995 463h3v15h-3zM999 455h3v23h-3zM1003 455h3v24h-3zM1007 478h3v12h-3zM1011 490h3v12h-3zM1015 499h3v1h-3zM1019 499h3v34h-3zM1023 524h3v9h-3zM1027 468h3v57h-3zM1031 440h3v28h-3zM1035 440h3v12h-3zM1039 454h3v1h-3zM1043 432h3v23h-3zM1047 429h3v3h-3zM1051 429h3v8h-3zM1055 436h3v3h-3zM1059 384h3v55h-3zM1063 378h3v1h-3zM1067 378h3v26h-3zM1071 376h3v28h-3zM1075 377h3v12h-3zM1079 369h3v19h-3zM1083 368h3v18h-3zM1087 386h3v2h-3zM1091 387h3v14h-3zM1095 382h3v19h-3zM1099 382h3v46h-3zM1103 427h3v12h-3zM1107 438h3v15h-3zM1111 451h3v1h-3zM1115 451h3v1h-3zM1119 452h3v1h-3zM1123 447h3v5h-3zM1127 434h3v13h-3zM1131 436h3v1h-3zM1135 436h3v2h-3zM1139 436h3v18h-3zM1143 453h3v25h-3zM1147 478h3v3h-3zM1151 402h3v79h-3zM1155 318h3v84h-3zM1159 326h3v9h-3zM1163 334h3v4h-3zM1167 284h3v54h-3zM1171 261h3v23h-3zM1179 216h3v29h-3zM1183 230h3v3h-3zM1187 207h3v24h-3zM1191 207h3v32h-3zM1195 225h3v14h-3zM1199 225h3v31h-3zM1203 254h3v5h-3zM1207 257h3v2h-3zM1211 248h3v11h-3zM1215 245h3v4h-3zM1219 232h3v13h-3zM1223 218h3v14h-3zM1227 220h3v1h-3zM1231 219h3v2h-3zM1235 219h3v18h-3zM1239 237h3v3h-3zM1243 240h3v10h-3zM1247 248h3v14h-3zM1251 261h3v13h-3zM1255 270h3v3h-3zM1259 249h3v22h-3zM1263 249h3v1h-3zM1267 249h3v1h-3zM1271 239h3v11h-3zM1275 231h3v9h-3zM1279 225h3v3h-3zM1283 215h3v11h-3zM1287 215h3v7h-3zM1291 222h3v2h-3zM1295 223h3v3h-3zM1299 226h3v32h-3zM1303 250h3v4h-3zM1307 234h3v16h-3zM1311 234h3v13h-3zM1315 222h3v25h-3zM1319 222h3v6h-3zM1323 220h3v9h-3zM1327 229h3v1h-3zM1331 218h3v11h-3zM1335 197h3v22h-3zM1339 159h3v38h-3z"/>
<path fill="#fff" d="M0 152h1v3h-1zM12 220h1v3h-1zM20 192h1v56h-1zM32 258h1v22h-1zM40 249h1v6h-1zM52 242h1v35h-1zM72 261h1v28h-1zM84 287h1v3h-1zM96 296h1v2h-1zM100 277h1v17h-1zM108 298h1v2h-1zM120 333h1v46h-1zM124 322h1v9h-1zM136 336h1v10h-1zM140 322h1v12h-1zM148 317h1v14h-1zM156 323h1v2h-1zM160 309h1v13h-1zM164 310h1v5h-1zM176 307h1v16h-1zM184 291h1v16h-1zM188 286h1v6h-1zM196 333h1v38h-1zM200 290h1v41h-1zM204 294h1v3h-1zM208 275h1v17h-1zM216 270h1v20h-1zM224 253h1v30h-1zM232 242h1v8h-1zM240 239h1v4h-1zM244 203h1v34h-1zM256 237h1v13h-1zM260 213h1v22h-1zM264 168h1v43h-1zM268 154h1v12h-1zM272 126h1v26h-1zM288 156h1v11h-1zM316 217h1v3h-1zM324 220h1v1h-1zM332 237h1v7h-1zM344 238h1v30h-1zM352 225h1v6h-1zM356 176h1v47h-1zM368 175h1v7h-1zM372 174h1v1h-1zM376 152h1v21h-1zM380 104h1v47h-1zM384 83h1v20h-1zM396 111h1v2h-1zM408 132h1v8h-1zM424 109h1v92h-1zM432 94h1v79h-1zM440 95h1v8h-1zM452 100h1v1h-1zM464 122h1v28h-1zM496 173h1v15h-1zM500 152h1v19h-1zM504 134h1v17h-1zM520 175h1v8h-1zM528 162h1v15h-1zM536 171h1v6h-1zM540 167h1v1h-1zM544 161h1v5h-1zM580 224h1v9h-1zM588 222h1v4h-1zM592 183h1v38h-1zM596 179h1v3h-1zM604 138h1v47h-1zM656 294h1v1h-1zM676 301h1v16h-1zM700 329h1v9h-1zM704 327h1v1h-1zM708 318h1v9h-1zM712 304h1v13h-1zM720 308h1v1h-1zM724 291h1v15h-1zM736 297h1v10h-1zM760 354h1v8h-1zM764 322h1v30h-1zM768 303h1v18h-1zM772 292h1v9h-1zM776 288h1v1h-1zM788 307h1v1h-1zM796 304h1v10h-1zM836 375h1v17h-1zM840 370h1v3h-1zM844 352h1v16h-1zM860 401h1v8h-1zM864 362h1v37h-1zM872 373h1v1h-1zM884 383h1v16h-1zM916 500h1v11h-1zM924 501h1v1h-1zM928 496h1v5h-1zM948 529h1v20h-1zM960 525h1v10h-1zM964 503h1v20h-1zM968 500h1v1h-1zM976 499h1v10h-1zM984 467h1v42h-1zM988 454h1v11h-1zM1000 456h1v21h-1zM1024 525h1v7h-1zM1028 469h1v55h-1zM1032 441h1v26h-1zM1044 433h1v21h-1zM1048 430h1v1h-1zM1060 385h1v53h-1zM1072 377h1v26h-1zM1080 370h1v17h-1zM1096 383h1v17h-1zM1124 448h1v3h-1zM1128 435h1v11h-1zM1152 403h1v77h-1zM1156 319h1v82h-1zM1168 285h1v52h-1zM1172 262h1v21h-1zM1180 217h1v27h-1zM1188 208h1v22h-1zM1196 226h1v12h-1zM1212 249h1v9h-1zM1216 246h1v2h-1zM1220 233h1v11h-1zM1224 219h1v12h-1zM1256 271h1v1h-1zM1260 250h1v20h-1zM1272 240h1v9h-1zM1276 232h1v7h-1zM1280 226h1v1h-1zM1284 216h1v9h-1zM1304 251h1v2h-1zM1308 235h1v14h-1zM1316 223h1v23h-1zM1324 221h1v7h-1zM1332 219h1v9h-1zM1336 198h1v20h-1zM1340 160h1v36h-1z"/>
<rect x="1177.5" y="199.5" width="163" height="66" fill="none" stroke="#ffff00" stroke-width="3"/>
</g>
<g clip-path="url(#c2)">
<path fill="#c0c0c0" d="M0 690h1v1h-1zM4 688h1v3h-1zM8 690h1v1h-1zM12 690h1v2h-1zM16 690h1v8h-1zM20 690h1v5h-1zM24 690h1v5h-1zM28 690h1v14h-1zM32 690h1v18h-1zM36 690h1v22h-1zM40 690h1v23h-1zM44 690h1v27h-1zM48 690h1v30h-1zM52 690h1v27h-1zM56 690h1v28h-1zM60 690h1v28h-1zM64 690h1v28h-1zM68 690h1v31h-1zM72 690h1v29h-1zM76 690h1v29h-1zM80 690h1v31h-1zM84 690h1v31h-1zM88 690h1v33h-1zM92 690h1v33h-1zM96 690h1v33h-1zM100 690h1v31h-1zM104 690h1v29h-1zM108 690h1v29h-1zM112 690h1v37h-1zM116 690h1v45h-1zM120 690h1v45h-1zM124 690h1v43h-1zM128 690h1v45h-1zM132 690h1v46h-1zM136 690h1v44h-1zM140 690h1v40h-1zM144 690h1v38h-1zM148 690h1v34h-1zM152 690h1v32h-1zM156 690h1v30h-1zM160 690h1v25h-1zM164 690h1v22h-1zM168 690h1v21h-1zM172 690h1v20h-1zM176 690h1v16h-1zM180 690h1v14h-1zM184 690h1v9h-1zM188 690h1v5h-1zM192 690h1v13h-1zM196 690h1v13h-1zM200 690h1v8h-1zM204 690h1v5h-1zM208 690h1v1h-1zM212 688h1v3h-1zM216 684h1v7h-1zM220 683h1v8h-1zM224 677h1v14h-1zM228 673h1v18h-1zM232 669h1v22h-1zM236 666h1v25h-1zM240 664h1v27h-1zM244 657h1v34h-1zM248 658h1v33h-1zM252 660h1v31h-1zM256 660h1v31h-1zM260 657h1v34h-1zM264 649h1v42h-1zM268 642h1v49h-1zM272 633h1v58h-1zM276 626h1v65h-1zM280 624h1v67h-1zM284 627h1v64h-1zM288 628h1v63h-1zM292 630h1v61h-1zM296 633h1v58h-1zM300 637h1v54h-1zM304 643h1v48h-1zM308 651h1v40h-1zM312 660h1v31h-1zM316 666h1v25h-1zM320 671h1v20h-1zM324 676h1v15h-1zM328 683h1v8h-1zM332 687h1v4h-1zM336 690h1v2h-1zM340 690h1v8h-1zM344 690h1v9h-1zM348 690h1v9h-1zM352 690h1v8h-1zM356 690h1v1h-1zM360 687h1v4h-1zM364 683h1v8h-1zM368 679h1v12h-1zM372 676h1v15h-1zM376 671h1v20h-1zM380 661h1v30h-1zM384 650h1v41h-1zM388 645h1v46h-1zM392 646h1v45h-1zM396 644h1v47h-1zM400 646h1v45h-1zM404 649h1v42h-1zM408 651h1v40h-1zM412 657h1v34h-1zM416 666h1v25h-1zM420 674h1v17h-1zM424 669h1v22h-1zM428 673h1v18h-1zM432 667h1v24h-1zM436 663h1v28h-1zM440 659h1v32h-1zM444 656h1v35h-1zM448 656h1v35h-1zM452 655h1v36h-1zM456 659h1v32h-1zM460 665h1v26h-1zM464 667h1v24h-1zM468 668h1v23h-1zM472 669h1v22h-1zM476 671h1v20h-1zM480 675h1v16h-1zM484 683h1v8h-1zM488 690h1v1h-1zM492 690h1v7h-1zM496 690h1v9h-1zM500 690h1v8h-1zM504 690h1v5h-1zM508 690h1v7h-1zM512 690h1v11h-1zM516 690h1v13h-1zM520 690h1v14h-1zM524 690h1v15h-1zM528 690h1v13h-1zM532 690h1v14h-1zM536 690h1v13h-1zM540 690h1v12h-1zM544 690h1v10h-1zM548 690h1v11h-1zM552 690h1v12h-1zM556 690h1v16h-1zM560 690h1v18h-1zM564 690h1v19h-1zM568 690h1v23h-1zM572 690h1v27h-1zM576 690h1v30h-1zM580 690h1v30h-1zM584 690h1v31h-1zM588 690h1v30h-1zM592 690h1v24h-1zM596 690h1v19h-1zM600 690h1v15h-1zM604 690h1v6h-1zM612 688h1v3h-1zM616 687h1v4h-1zM620 690h1v1h-1zM624 690h1v1h-1zM628 690h1v2h-1zM632 690h1v3h-1zM636 690h1v6h-1zM640 690h1v11h-1zM644 690h1v18h-1zM648 690h1v25h-1zM652 690h1v34h-1zM656 690h1v40h-1zM660 690h1v44h-1zM664 690h1v49h-1zM668 690h1v53h-1zM672 690h1v56h-1zM676 690h1v56h-1zM680 690h1v54h-1zM684 690h1v54h-1zM688 690h1v55h-1zM692 690h1v56h-1zM696 690h1v57h-1zM700 690h1v57h-1zM704 690h1v55h-1zM708 690h1v52h-1zM712 690h1v47h-1zM716 690h1v44h-1zM720 690h1v40h-1zM724 690h1v34h-1zM728 690h1v31h-1zM732 690h1v29h-1zM736 690h1v25h-1zM740 690h1v24h-1zM744 690h1v23h-1zM748 690h1v27h-1zM752 690h1v29h-1zM756 690h1v33h-1zM760 690h1v34h-1zM764 690h1v31h-1zM768 690h1v25h-1zM772 690h1v19h-1zM776 690h1v14h-1zM780 690h1v9h-1zM784 690h1v9h-1zM788 690h1v7h-1zM792 690h1v8h-1zM796 690h1v6h-1zM800 690h1v5h-1zM804 690h1v7h-1zM808 690h1v11h-1zM812 690h1v14h-1zM816 690h1v17h-1zM820 690h1v21h-1zM824 690h1v24h-1zM828 690h1v27h-1zM832 690h1v32h-1zM836 690h1v32h-1zM840 690h1v32h-1zM844 690h1v29h-1zM848 690h1v26h-1zM852 690h1v27h-1zM856 690h1v31h-1zM860 690h1v34h-1zM864 690h1v30h-1zM868 690h1v29h-1zM872 690h1v27h-1zM876 690h1v27h-1zM880 690h1v28h-1zM884 690h1v27h-1zM888 690h1v27h-1zM892 690h1v30h-1zM896 690h1v32h-1zM900 690h1v41h-1zM904 690h1v51h-1zM908 690h1v58h-1zM912 690h1v64h-1zM916 690h1v66h-1zM920 690h1v68h-1zM924 690h1v68h-1zM928 690h1v67h-1zM932 690h1v67h-1zM936 690h1v66h-1zM940 690h1v68h-1zM944 690h1v71h-1zM948 690h1v69h-1zM952 690h1v68h-1zM956 690h1v67h-1zM960 690h1v63h-1zM964 690h1v57h-1zM968 690h1v51h-1zM972 690h1v47h-1zM976 690h1v42h-1zM980 690h1v39h-1zM984 690h1v31h-1zM988 690h1v22h-1zM992 690h1v16h-1zM996 690h1v13h-1zM1000 690h1v8h-1zM1004 690h1v7h-1zM1008 690h1v8h-1zM1012 690h1v9h-1zM1016 690h1v10h-1zM1020 690h1v16h-1zM1024 690h1v18h-1zM1028 690h1v13h-1zM1032 690h1v5h-1zM1040 687h1v4h-1zM1044 682h1v9h-1zM1048 677h1v14h-1zM1052 674h1v17h-1zM1056 673h1v18h-1zM1060 665h1v26h-1zM1064 658h1v33h-1zM1068 656h1v35h-1zM1072 652h1v39h-1zM1076 650h1v41h-1zM1080 647h1v44h-1zM1084 647h1v44h-1zM1088 648h1v43h-1zM1092 651h1v40h-1zM1096 651h1v40h-1zM1100 658h1v33h-1zM1104 665h1v26h-1zM1108 673h1v18h-1zM1112 679h1v12h-1zM1116 684h1v7h-1zM1120 688h1v3h-1zM1124 690h1v1h-1zM1128 690h1v1h-1zM1140 690h1v3h-1zM1144 690h1v8h-1zM1148 690h1v12h-1zM1152 690h1v5h-1zM1156 680h1v11h-1zM1160 669h1v22h-1zM1164 661h1v30h-1zM1168 648h1v43h-1zM1172 636h1v55h-1zM1176 627h1v64h-1zM1180 614h1v77h-1zM1184 608h1v83h-1zM1188 600h1v91h-1zM1192 599h1v92h-1zM1196 598h1v93h-1zM1200 602h1v89h-1zM1204 606h1v85h-1zM1208 611h1v80h-1zM1212 614h1v77h-1zM1216 617h1v74h-1zM1220 618h1v73h-1zM1224 618h1v73h-1zM1228 620h1v71h-1zM1232 622h1v69h-1zM1236 626h1v65h-1zM1240 630h1v61h-1zM1244 636h1v55h-1zM1248 642h1v49h-1zM1252 650h1v41h-1zM1256 655h1v36h-1zM1260 657h1v34h-1zM1264 659h1v32h-1zM1268 661h1v30h-1zM1272 662h1v29h-1zM1276 662h1v29h-1zM1280 661h1v30h-1zM1284 659h1v32h-1zM1288 659h1v32h-1zM1292 660h1v31h-1zM1296 661h1v30h-1zM1300 667h1v24h-1zM1304 670h1v21h-1zM1308 671h1v20h-1zM1312 674h1v17h-1zM1316 673h1v18h-1zM1320 673h1v18h-1zM1324 672h1v19h-1zM1328 673h1v18h-1zM1332 673h1v18h-1zM1336 669h1v22h-1zM1340 662h1v29h-1z"/>
<path fill="#ff0000" d="M1211 605h3v1h-3zM1217 605h1v1h-1zM1218 606h2v1h-2zM1207 607h1v1h-1zM1205 608h2v1h-2zM1223 608h2v1h-2zM1225 609h1v1h-1zM1202 612h1v1h-1zM1229 612h2v1h-2zM1201 613h1v1h-1zM1231 613h1v1h-1zM1200 614h1v1h-1zM1235 615h1v1h-1zM1236 616h1v1h-1zM1237 617h1v1h-1zM1197 618h1v2h-1zM1196 620h1v1h-1zM1241 620h2v1h-2zM1243 621h1v1h-1zM1247 623h1v1h-1zM1194 624h1v2h-1zM1248 624h1v1h-1zM1249 625h1v1h-1zM1193 626h1v1h-1zM1253 629h1v1h-1zM303 630h2v1h-2zM1191 630h1v2h-1zM1254 630h1v1h-1zM298 631h2v1h-2zM305 631h1v1h-1zM1255 631h1v1h-1zM297 632h1v1h-1zM1190 632h1v1h-1zM309 633h1v1h-1zM292 634h2v1h-2zM310 634h1v1h-1zM291 635h1v1h-1zM311 635h1v1h-1zM1259 635h1v1h-1zM1188 636h1v3h-1zM1260 636h1v1h-1zM1261 637h1v1h-1zM287 638h1v1h-1zM286 639h1v1h-1zM314 639h1v1h-1zM285 640h1v1h-1zM315 640h1v1h-1zM316 641h1v1h-1zM1264 641h1v1h-1zM1186 642h1v2h-1zM1265 642h1v1h-1zM281 643h1v1h-1zM1266 643h1v1h-1zM280 644h1v1h-1zM1185 644h1v1h-1zM279 645h1v1h-1zM319 645h1v1h-1zM320 646h1v1h-1zM321 647h1v1h-1zM1270 647h1v1h-1zM1184 648h1v2h-1zM1271 648h1v1h-1zM275 649h1v1h-1zM411 649h2v1h-2zM416 649h1v1h-1zM1272 649h1v1h-1zM274 650h1v1h-1zM410 650h1v1h-1zM417 650h1v1h-1zM1096 650h1v1h-1zM1100 650h2v1h-2zM1183 650h1v1h-1zM273 651h1v1h-1zM324 651h1v1h-1zM418 651h1v1h-1zM1094 651h2v1h-2zM1102 651h1v1h-1zM325 652h1v2h-1zM405 652h2v1h-2zM404 653h1v1h-1zM1090 653h1v1h-1zM1106 653h2v1h-2zM1276 653h1v1h-1zM422 654h2v1h-2zM1088 654h2v1h-2zM1108 654h1v1h-1zM1182 654h1v1h-1zM1277 654h1v1h-1zM269 655h1v1h-1zM424 655h1v1h-1zM1181 655h1v2h-1zM1278 655h1v1h-1zM268 656h1v1h-1zM400 656h1v1h-1zM267 657h1v1h-1zM328 657h1v1h-1zM399 657h1v1h-1zM1084 657h1v1h-1zM1112 657h1v1h-1zM1282 657h1v1h-1zM329 658h1v2h-1zM398 658h1v1h-1zM428 658h1v1h-1zM1083 658h1v1h-1zM1113 658h1v1h-1zM1283 658h2v1h-2zM429 659h2v1h-2zM1082 659h1v1h-1zM1114 659h1v1h-1zM1288 659h3v1h-3zM263 660h1v1h-1zM459 660h2v1h-2zM464 660h3v1h-3zM1179 660h1v2h-1zM1294 660h3v1h-3zM1300 660h2v1h-2zM261 661h2v1h-2zM434 661h1v1h-1zM458 661h1v1h-1zM470 661h3v1h-3zM1302 661h1v1h-1zM395 662h1v1h-1zM435 662h2v1h-2zM454 662h1v1h-1zM476 662h1v1h-1zM1078 662h1v1h-1zM1178 662h1v1h-1zM1306 662h3v1h-3zM332 663h1v1h-1zM394 663h1v1h-1zM440 663h2v1h-2zM452 663h2v1h-2zM477 663h2v1h-2zM1077 663h1v1h-1zM1118 663h1v1h-1zM256 664h2v1h-2zM333 664h1v2h-1zM393 664h1v1h-1zM442 664h1v1h-1zM446 664h3v1h-3zM1076 664h1v1h-1zM1119 664h1v1h-1zM1312 664h2v1h-2zM255 665h1v1h-1zM1120 665h1v1h-1zM1314 665h1v1h-1zM482 666h2v1h-2zM1177 666h1v1h-1zM1318 666h1v1h-1zM251 667h1v1h-1zM484 667h1v1h-1zM1176 667h1v2h-1zM1319 667h2v1h-2zM249 668h2v1h-2zM390 668h1v1h-1zM1072 668h1v1h-1zM1324 668h2v1h-2zM336 669h1v1h-1zM389 669h1v1h-1zM1071 669h1v1h-1zM1123 669h1v1h-1zM1326 669h1v1h-1zM337 670h1v2h-1zM388 670h1v1h-1zM1070 670h1v1h-1zM1124 670h1v1h-1zM1330 670h1v1h-1zM488 671h1v1h-1zM1125 671h1v1h-1zM1331 671h2v1h-2zM1336 671h3v1h-3zM245 672h1v1h-1zM489 672h1v1h-1zM1174 672h1v1h-1zM244 673h1v1h-1zM490 673h1v1h-1zM1173 673h1v2h-1zM243 674h1v1h-1zM385 674h1v2h-1zM1067 674h1v1h-1zM340 675h1v1h-1zM1066 675h1v1h-1zM1129 675h1v1h-1zM341 676h1v2h-1zM384 676h1v1h-1zM1065 676h1v1h-1zM1130 676h1v2h-1zM239 677h1v1h-1zM494 677h1v1h-1zM238 678h1v1h-1zM495 678h1v1h-1zM1170 678h1v1h-1zM237 679h1v1h-1zM496 679h1v1h-1zM1169 679h1v2h-1zM381 680h1v2h-1zM1062 680h1v1h-1zM344 681h1v1h-1zM1061 681h1v1h-1zM1134 681h2v1h-2zM345 682h1v1h-1zM380 682h1v1h-1zM1060 682h1v1h-1zM1136 682h1v1h-1zM233 683h1v1h-1zM346 683h1v1h-1zM500 683h1v1h-1zM232 684h1v1h-1zM501 684h1v1h-1zM1166 684h1v1h-1zM231 685h1v1h-1zM502 685h1v1h-1zM1165 685h1v1h-1zM376 686h1v1h-1zM1057 686h1v1h-1zM1140 686h1v1h-1zM1164 686h1v1h-1zM350 687h1v1h-1zM375 687h1v1h-1zM1056 687h1v1h-1zM1141 687h1v1h-1zM227 688h1v1h-1zM351 688h1v1h-1zM374 688h1v1h-1zM506 688h2v1h-2zM1055 688h1v1h-1zM1142 688h1v1h-1zM226 689h1v1h-1zM352 689h1v1h-1zM508 689h1v1h-1zM1160 689h1v1h-1zM225 690h1v1h-1zM1146 690h1v1h-1zM1159 690h1v1h-1zM356 691h2v1h-2zM370 691h1v1h-1zM1147 691h2v1h-2zM1158 691h1v1h-1zM358 692h1v1h-1zM362 692h3v1h-3zM368 692h2v1h-2zM632 692h3v1h-3zM638 692h3v1h-3zM1051 692h1v1h-1zM220 693h2v1h-2zM512 693h1v1h-1zM1049 693h2v1h-2zM1152 693h3v1h-3zM27 694h3v1h-3zM219 694h1v1h-1zM513 694h1v1h-1zM628 694h1v1h-1zM644 694h1v1h-1zM514 695h1v1h-1zM626 695h2v1h-2zM645 695h1v1h-1zM22 696h2v1h-2zM33 696h1v1h-1zM214 696h2v1h-2zM646 696h1v1h-1zM1044 696h2v1h-2zM21 697h1v1h-1zM34 697h2v1h-2zM213 697h1v1h-1zM518 697h1v1h-1zM1043 697h1v1h-1zM519 698h2v1h-2zM622 698h1v1h-1zM807 698h1v1h-1zM1039 698h1v1h-1zM17 699h1v1h-1zM208 699h2v1h-2zM621 699h1v1h-1zM650 699h1v1h-1zM805 699h2v1h-2zM811 699h3v1h-3zM1037 699h2v1h-2zM16 700h1v1h-1zM39 700h1v1h-1zM207 700h1v1h-1zM524 700h2v1h-2zM620 700h1v1h-1zM651 700h1v1h-1zM817 700h2v1h-2zM1031 700h3v1h-3zM15 701h1v1h-1zM40 701h1v1h-1zM526 701h1v1h-1zM530 701h3v1h-3zM652 701h1v1h-1zM800 701h2v1h-2zM819 701h1v1h-1zM1027 701h1v1h-1zM41 702h1v1h-1zM202 702h2v1h-2zM536 702h3v1h-3zM799 702h1v1h-1zM1020 702h2v1h-2zM1025 702h2v1h-2zM201 703h1v1h-1zM542 703h3v1h-3zM548 703h3v1h-3zM554 703h3v1h-3zM560 703h2v1h-2zM616 703h1v1h-1zM823 703h2v1h-2zM1019 703h1v1h-1zM562 704h1v1h-1zM615 704h1v1h-1zM825 704h1v1h-1zM11 705h1v1h-1zM45 705h1v1h-1zM195 705h3v1h-3zM566 705h3v1h-3zM614 705h1v1h-1zM656 705h1v1h-1zM795 705h1v1h-1zM1015 705h1v1h-1zM10 706h1v2h-1zM46 706h2v1h-2zM572 706h1v1h-1zM657 706h1v1h-1zM793 706h2v1h-2zM829 706h1v1h-1zM1013 706h2v1h-2zM190 707h2v1h-2zM573 707h2v1h-2zM658 707h1v1h-1zM830 707h2v1h-2zM189 708h1v1h-1zM51 709h2v1h-2zM610 709h1v1h-1zM789 709h1v1h-1zM53 710h1v1h-1zM185 710h1v1h-1zM578 710h2v1h-2zM609 710h1v1h-1zM788 710h1v1h-1zM835 710h1v1h-1zM1009 710h1v1h-1zM6 711h1v2h-1zM184 711h1v1h-1zM580 711h1v1h-1zM608 711h1v1h-1zM661 711h1v1h-1zM787 711h1v1h-1zM836 711h1v1h-1zM1008 711h1v1h-1zM183 712h1v1h-1zM662 712h1v2h-1zM837 712h1v1h-1zM1007 712h1v1h-1zM5 713h1v1h-1zM57 713h2v1h-2zM584 713h1v1h-1zM59 714h1v1h-1zM585 714h2v1h-2zM604 714h1v1h-1zM782 714h2v1h-2zM841 714h2v1h-2zM178 715h2v1h-2zM602 715h2v1h-2zM781 715h1v1h-1zM843 715h1v1h-1zM63 716h3v1h-3zM177 716h1v1h-1zM590 716h3v1h-3zM596 716h3v1h-3zM775 716h3v1h-3zM1003 716h1v1h-1zM2 717h1v1h-1zM69 717h1v1h-1zM665 717h1v1h-1zM771 717h1v1h-1zM847 717h3v1h-3zM1002 717h1v2h-1zM1 718h1v1h-1zM70 718h2v1h-2zM173 718h1v1h-1zM666 718h1v1h-1zM757 718h3v1h-3zM763 718h3v1h-3zM769 718h2v1h-2zM853 718h1v1h-1zM0 719h1v1h-1zM75 719h3v1h-3zM81 719h3v1h-3zM172 719h1v1h-1zM667 719h1v1h-1zM752 719h2v1h-2zM854 719h2v1h-2zM871 719h3v1h-3zM877 719h3v1h-3zM883 719h3v1h-3zM889 719h3v1h-3zM895 719h3v1h-3zM87 720h3v1h-3zM93 720h1v1h-1zM171 720h1v1h-1zM751 720h1v1h-1zM859 720h3v1h-3zM865 720h3v1h-3zM94 721h2v1h-2zM99 721h3v1h-3zM105 721h3v1h-3zM901 721h2v1h-2zM111 722h2v1h-2zM746 722h2v1h-2zM903 722h1v1h-1zM998 722h1v2h-1zM113 723h1v1h-1zM167 723h1v1h-1zM669 723h1v1h-1zM745 723h1v1h-1zM117 724h1v1h-1zM165 724h2v1h-2zM670 724h1v1h-1zM997 724h1v1h-1zM118 725h2v1h-2zM671 725h1v1h-1zM741 725h1v1h-1zM907 725h1v1h-1zM123 726h2v1h-2zM740 726h1v1h-1zM908 726h1v1h-1zM125 727h1v1h-1zM160 727h2v1h-2zM739 727h1v1h-1zM909 727h1v1h-1zM129 728h1v1h-1zM159 728h1v1h-1zM994 728h1v1h-1zM130 729h2v1h-2zM674 729h1v2h-1zM993 729h1v2h-1zM135 730h2v1h-2zM154 730h2v1h-2zM137 731h1v1h-1zM153 731h1v1h-1zM675 731h1v1h-1zM735 731h1v1h-1zM913 731h1v1h-1zM141 732h1v1h-1zM147 732h3v1h-3zM733 732h2v1h-2zM914 732h1v1h-1zM142 733h2v1h-2zM915 733h1v1h-1zM990 734h1v1h-1zM679 735h1v1h-1zM729 735h1v1h-1zM989 735h1v2h-1zM680 736h1v1h-1zM728 736h1v1h-1zM681 737h1v1h-1zM727 737h1v1h-1zM918 737h1v1h-1zM919 738h1v1h-1zM920 739h1v1h-1zM685 740h2v1h-2zM722 740h2v1h-2zM986 740h1v1h-1zM687 741h1v1h-1zM721 741h1v1h-1zM985 741h1v1h-1zM984 742h1v1h-1zM691 743h3v1h-3zM715 743h3v1h-3zM924 743h1v1h-1zM697 744h1v1h-1zM711 744h1v1h-1zM925 744h1v1h-1zM698 745h2v1h-2zM709 745h2v1h-2zM926 745h1v1h-1zM703 746h3v1h-3zM980 746h1v1h-1zM979 747h1v1h-1zM978 748h1v1h-1zM930 749h1v1h-1zM931 750h1v1h-1zM932 751h1v1h-1zM973 752h2v1h-2zM972 753h1v1h-1zM936 754h1v1h-1zM937 755h2v1h-2zM967 755h2v1h-2zM966 756h1v1h-1zM942 757h3v1h-3zM960 757h3v1h-3zM948 758h3v1h-3zM954 758h3v1h-3z"/>
</g>
<g clip-path="url(#c3)">
<path stroke="#c0c0c0" stroke-width="1" stroke-dasharray="3 3" d="M2 805.5H1628"/>
<path stroke="#c0c0c0" stroke-width="1" stroke-dasharray="3 3" d="M2 852.5H1628"/>
<path stroke="#c0c0c0" stroke-width="1" stroke-dasharray="3 3" d="M2 908.5H1628"/>
<path fill="#1e90ff" d="M1180 810h1v1h-1zM1179 811h1v2h-1zM1181 811h1v2h-1zM1178 813h1v1h-1zM1182 813h1v1h-1zM1188 813h1v2h-1zM384 814h1v2h-1zM1177 814h1v2h-1zM1183 814h1v2h-1zM1187 814h1v1h-1zM383 815h1v1h-1zM1185 815h2v1h-2zM1189 815h1v3h-1zM382 816h1v1h-1zM385 816h1v2h-1zM1172 816h5v1h-5zM1184 816h1v1h-1zM381 817h1v1h-1zM1171 817h1v1h-1zM272 818h5v1h-5zM380 818h1v2h-1zM386 818h1v3h-1zM1169 818h2v1h-2zM1190 818h1v2h-1zM271 819h1v1h-1zM277 819h1v2h-1zM1168 819h1v2h-1zM270 820h1v2h-1zM379 820h1v3h-1zM1191 820h1v3h-1zM1340 820h1v2h-1zM278 821h1v1h-1zM387 821h1v2h-1zM1156 821h1v3h-1zM1167 821h1v2h-1zM269 822h1v1h-1zM279 822h1v2h-1zM1157 822h1v2h-1zM1196 822h1v2h-1zM1339 822h1v3h-1zM268 823h1v1h-1zM378 823h1v3h-1zM388 823h1v3h-1zM1166 823h1v2h-1zM1192 823h1v2h-1zM1194 823h2v1h-2zM266 824h2v1h-2zM280 824h1v2h-1zM1155 824h1v4h-1zM1158 824h1v1h-1zM1193 824h1v1h-1zM1197 824h1v2h-1zM1224 824h2v1h-2zM264 825h2v1h-2zM1063 825h2v1h-2zM1159 825h1v2h-1zM1165 825h1v2h-1zM1223 825h1v1h-1zM1226 825h4v1h-4zM1338 825h1v2h-1zM264 826h1v1h-1zM281 826h1v3h-1zM377 826h1v3h-1zM389 826h1v3h-1zM1060 826h3v1h-3zM1064 826h1v1h-1zM1198 826h1v3h-1zM1221 826h2v1h-2zM1230 826h3v1h-3zM244 827h1v2h-1zM263 827h1v2h-1zM1060 827h1v1h-1zM1065 827h1v2h-1zM1160 827h2v1h-2zM1164 827h1v2h-1zM1220 827h1v1h-1zM1233 827h1v2h-1zM1337 827h1v3h-1zM1059 828h1v4h-1zM1154 828h1v5h-1zM1162 828h2v1h-2zM1219 828h1v1h-1zM1284 828h1v1h-1zM243 829h1v2h-1zM245 829h1v4h-1zM262 829h1v3h-1zM282 829h1v2h-1zM376 829h1v2h-1zM390 829h1v3h-1zM1066 829h1v3h-1zM1072 829h1v1h-1zM1080 829h1v1h-1zM1199 829h1v2h-1zM1217 829h2v1h-2zM1234 829h1v2h-1zM1283 829h1v1h-1zM1285 829h1v1h-1zM1071 830h1v2h-1zM1073 830h1v1h-1zM1079 830h1v1h-1zM1081 830h1v2h-1zM1215 830h2v1h-2zM1281 830h2v1h-2zM1286 830h1v1h-1zM1336 830h1v3h-1zM242 831h1v2h-1zM283 831h1v3h-1zM375 831h1v2h-1zM396 831h1v2h-1zM1074 831h1v2h-1zM1078 831h1v2h-1zM1200 831h1v2h-1zM1212 831h3v1h-3zM1235 831h1v2h-1zM1280 831h1v1h-1zM1287 831h1v1h-1zM261 832h1v2h-1zM288 832h2v1h-2zM391 832h1v3h-1zM395 832h1v1h-1zM1058 832h1v4h-1zM1067 832h1v2h-1zM1070 832h1v1h-1zM1082 832h1v2h-1zM1201 832h1v1h-1zM1211 832h1v1h-1zM1279 832h1v1h-1zM1288 832h2v1h-2zM241 833h1v2h-1zM246 833h1v4h-1zM287 833h1v1h-1zM290 833h3v1h-3zM374 833h1v2h-1zM394 833h1v2h-1zM397 833h1v2h-1zM604 833h1v3h-1zM1069 833h1v2h-1zM1075 833h1v1h-1zM1077 833h1v1h-1zM1153 833h1v4h-1zM1202 833h4v1h-4zM1209 833h2v1h-2zM1236 833h1v1h-1zM1277 833h2v1h-2zM1290 833h3v1h-3zM1335 833h1v2h-1zM260 834h1v2h-1zM284 834h3v1h-3zM293 834h1v1h-1zM605 834h1v1h-1zM1068 834h1v2h-1zM1076 834h1v1h-1zM1083 834h1v2h-1zM1206 834h3v1h-3zM1237 834h2v1h-2zM1276 834h1v1h-1zM1293 834h2v1h-2zM240 835h1v2h-1zM284 835h1v1h-1zM294 835h1v1h-1zM373 835h1v2h-1zM392 835h2v1h-2zM398 835h1v2h-1zM606 835h2v1h-2zM1239 835h2v1h-2zM1275 835h1v1h-1zM1295 835h2v1h-2zM1334 835h1v2h-1zM232 836h2v1h-2zM239 836h1v1h-1zM259 836h1v2h-1zM295 836h1v1h-1zM392 836h1v1h-1zM603 836h1v4h-1zM608 836h1v1h-1zM1047 836h2v1h-2zM1057 836h1v4h-1zM1084 836h2v1h-2zM1241 836h1v1h-1zM1273 836h2v1h-2zM1296 836h1v2h-1zM231 837h1v1h-1zM234 837h5v1h-5zM247 837h1v4h-1zM296 837h2v1h-2zM356 837h1v3h-1zM368 837h5v1h-5zM399 837h1v2h-1zM609 837h1v2h-1zM1044 837h3v1h-3zM1049 837h1v1h-1zM1086 837h3v1h-3zM1096 837h1v2h-1zM1152 837h1v7h-1zM1242 837h1v2h-1zM1272 837h1v1h-1zM1333 837h1v2h-1zM0 838h1v1h-1zM229 838h2v1h-2zM258 838h1v1h-1zM298 838h3v1h-3zM357 838h2v1h-2zM367 838h1v1h-1zM424 838h1v4h-1zM1032 838h1v2h-1zM1043 838h1v2h-1zM1050 838h1v1h-1zM1089 838h1v1h-1zM1095 838h1v1h-1zM1271 838h1v1h-1zM1297 838h1v5h-1zM1 839h1v2h-1zM224 839h5v1h-5zM257 839h1v2h-1zM301 839h1v2h-1zM359 839h3v1h-3zM365 839h2v1h-2zM400 839h1v2h-1zM432 839h1v2h-1zM443 839h2v1h-2zM610 839h1v2h-1zM1033 839h1v1h-1zM1051 839h1v1h-1zM1090 839h1v2h-1zM1094 839h1v2h-1zM1097 839h1v4h-1zM1243 839h1v1h-1zM1270 839h1v1h-1zM1316 839h1v2h-1zM1324 839h1v1h-1zM1332 839h1v1h-1zM224 840h1v1h-1zM355 840h1v4h-1zM362 840h3v1h-3zM408 840h1v2h-1zM425 840h1v4h-1zM433 840h2v1h-2zM439 840h4v1h-4zM445 840h1v1h-1zM602 840h1v5h-1zM1031 840h1v2h-1zM1034 840h1v2h-1zM1042 840h1v2h-1zM1052 840h2v1h-2zM1056 840h1v2h-1zM1244 840h1v1h-1zM1269 840h1v1h-1zM1317 840h1v1h-1zM1323 840h1v1h-1zM1325 840h1v1h-1zM1331 840h1v1h-1zM2 841h1v2h-1zM223 841h1v2h-1zM248 841h1v2h-1zM256 841h1v1h-1zM302 841h1v2h-1zM401 841h1v1h-1zM407 841h1v1h-1zM431 841h1v4h-1zM435 841h4v1h-4zM446 841h2v1h-2zM451 841h2v1h-2zM611 841h1v2h-1zM988 841h1v1h-1zM1054 841h2v1h-2zM1091 841h1v1h-1zM1093 841h1v1h-1zM1245 841h1v2h-1zM1260 841h9v1h-9zM1315 841h1v3h-1zM1318 841h2v1h-2zM1321 841h2v1h-2zM1326 841h1v2h-1zM1330 841h1v2h-1zM216 842h1v1h-1zM255 842h1v1h-1zM402 842h2v1h-2zM405 842h2v1h-2zM409 842h1v3h-1zM423 842h1v6h-1zM448 842h3v1h-3zM453 842h1v2h-1zM987 842h1v1h-1zM989 842h1v1h-1zM1030 842h1v2h-1zM1035 842h1v1h-1zM1041 842h1v2h-1zM1092 842h1v1h-1zM1260 842h1v1h-1zM1320 842h1v1h-1zM3 843h1v2h-1zM188 843h1v4h-1zM208 843h1v1h-1zM215 843h1v2h-1zM217 843h1v1h-1zM222 843h1v2h-1zM249 843h1v1h-1zM254 843h1v1h-1zM303 843h1v2h-1zM404 843h1v1h-1zM612 843h1v2h-1zM986 843h1v2h-1zM990 843h1v2h-1zM1036 843h2v1h-2zM1098 843h1v4h-1zM1246 843h1v1h-1zM1259 843h1v2h-1zM1298 843h1v5h-1zM1308 843h1v2h-1zM1327 843h1v1h-1zM1329 843h1v1h-1zM186 844h2v1h-2zM207 844h1v1h-1zM209 844h1v1h-1zM218 844h1v2h-1zM250 844h2v1h-2zM253 844h1v1h-1zM354 844h1v4h-1zM426 844h1v4h-1zM454 844h1v2h-1zM776 844h1v1h-1zM1000 844h1v2h-1zM1029 844h1v2h-1zM1038 844h3v1h-3zM1151 844h1v8h-1zM1247 844h1v2h-1zM1309 844h1v2h-1zM1314 844h1v2h-1zM1328 844h1v1h-1zM4 845h1v2h-1zM184 845h2v1h-2zM206 845h1v2h-1zM210 845h1v2h-1zM214 845h1v1h-1zM221 845h1v2h-1zM252 845h1v1h-1zM304 845h1v2h-1zM410 845h1v3h-1zM430 845h1v4h-1zM601 845h1v4h-1zM613 845h1v1h-1zM774 845h2v1h-2zM777 845h2v1h-2zM985 845h1v1h-1zM991 845h1v1h-1zM1258 845h1v2h-1zM1307 845h1v2h-1zM184 846h1v1h-1zM213 846h1v2h-1zM219 846h1v1h-1zM455 846h1v2h-1zM614 846h1v2h-1zM772 846h2v1h-2zM779 846h2v1h-2zM984 846h1v3h-1zM992 846h1v1h-1zM999 846h1v2h-1zM1001 846h1v2h-1zM1028 846h1v3h-1zM1248 846h1v1h-1zM1310 846h1v2h-1zM1313 846h1v3h-1zM5 847h1v2h-1zM183 847h1v2h-1zM189 847h1v8h-1zM200 847h2v1h-2zM205 847h1v1h-1zM211 847h1v1h-1zM220 847h1v1h-1zM305 847h1v2h-1zM471 847h3v1h-3zM596 847h1v1h-1zM771 847h1v1h-1zM780 847h1v1h-1zM993 847h1v2h-1zM1099 847h1v4h-1zM1249 847h1v1h-1zM1257 847h1v2h-1zM1306 847h1v2h-1zM200 848h1v1h-1zM202 848h3v1h-3zM212 848h1v1h-1zM353 848h1v4h-1zM411 848h1v3h-1zM422 848h1v6h-1zM427 848h1v4h-1zM456 848h1v1h-1zM464 848h7v1h-7zM474 848h3v1h-3zM504 848h1v2h-1zM594 848h2v1h-2zM597 848h1v1h-1zM615 848h1v1h-1zM770 848h1v1h-1zM781 848h1v2h-1zM998 848h1v2h-1zM1002 848h1v2h-1zM1250 848h1v2h-1zM1299 848h1v5h-1zM1311 848h1v2h-1zM6 849h1v3h-1zM182 849h1v2h-1zM199 849h1v3h-1zM306 849h1v2h-1zM429 849h1v4h-1zM457 849h1v2h-1zM463 849h1v2h-1zM477 849h1v2h-1zM503 849h1v1h-1zM592 849h2v1h-2zM598 849h1v1h-1zM600 849h1v3h-1zM616 849h1v2h-1zM769 849h1v1h-1zM983 849h1v5h-1zM994 849h1v1h-1zM1027 849h1v5h-1zM1256 849h1v1h-1zM1305 849h1v2h-1zM1312 849h1v2h-1zM20 850h1v3h-1zM502 850h1v2h-1zM505 850h1v3h-1zM592 850h1v2h-1zM599 850h1v1h-1zM768 850h1v2h-1zM782 850h1v2h-1zM995 850h1v2h-1zM997 850h1v2h-1zM1003 850h1v2h-1zM1251 850h1v1h-1zM1254 850h2v1h-2zM21 851h2v1h-2zM181 851h1v2h-1zM307 851h1v2h-1zM412 851h1v2h-1zM458 851h1v2h-1zM462 851h1v2h-1zM478 851h1v1h-1zM617 851h1v2h-1zM1100 851h1v3h-1zM1252 851h2v1h-2zM1304 851h1v1h-1zM7 852h1v2h-1zM23 852h2v1h-2zM176 852h2v1h-2zM198 852h1v2h-1zM352 852h1v2h-1zM428 852h1v3h-1zM479 852h1v2h-1zM501 852h1v1h-1zM544 852h1v1h-1zM591 852h1v5h-1zM767 852h1v2h-1zM783 852h1v2h-1zM796 852h1v1h-1zM996 852h1v1h-1zM1004 852h1v2h-1zM1150 852h1v8h-1zM1303 852h1v1h-1zM19 853h1v4h-1zM24 853h1v2h-1zM175 853h1v2h-1zM178 853h3v1h-3zM308 853h1v2h-1zM413 853h1v2h-1zM459 853h1v2h-1zM461 853h1v2h-1zM500 853h1v1h-1zM506 853h1v2h-1zM543 853h1v1h-1zM545 853h1v2h-1zM618 853h1v2h-1zM795 853h1v2h-1zM797 853h2v1h-2zM1128 853h5v1h-5zM1300 853h1v3h-1zM1302 853h1v1h-1zM8 854h1v2h-1zM160 854h5v1h-5zM197 854h1v3h-1zM351 854h1v1h-1zM421 854h1v6h-1zM480 854h1v2h-1zM499 854h1v2h-1zM528 854h1v1h-1zM541 854h2v1h-2zM766 854h1v2h-1zM784 854h1v2h-1zM787 854h2v1h-2zM799 854h2v1h-2zM982 854h1v4h-1zM1005 854h1v1h-1zM1026 854h1v6h-1zM1101 854h1v1h-1zM1127 854h1v1h-1zM1133 854h2v1h-2zM1301 854h1v1h-1zM25 855h1v4h-1zM159 855h1v1h-1zM165 855h1v1h-1zM174 855h1v2h-1zM190 855h1v7h-1zM309 855h1v1h-1zM316 855h1v1h-1zM350 855h1v1h-1zM414 855h1v2h-1zM460 855h1v1h-1zM507 855h1v3h-1zM527 855h1v2h-1zM529 855h1v1h-1zM539 855h2v1h-2zM546 855h1v2h-1zM619 855h1v2h-1zM785 855h2v1h-2zM789 855h1v1h-1zM794 855h1v1h-1zM801 855h1v2h-1zM1006 855h1v1h-1zM1102 855h1v1h-1zM1126 855h1v2h-1zM1135 855h2v1h-2zM9 856h1v1h-1zM52 856h1v2h-1zM158 856h1v2h-1zM166 856h1v2h-1zM310 856h2v1h-2zM314 856h2v1h-2zM317 856h2v1h-2zM323 856h2v1h-2zM349 856h1v1h-1zM481 856h1v2h-1zM498 856h1v2h-1zM530 856h1v2h-1zM536 856h3v1h-3zM724 856h1v2h-1zM765 856h1v2h-1zM790 856h1v1h-1zM793 856h1v2h-1zM1007 856h1v1h-1zM1103 856h1v1h-1zM1137 856h1v2h-1zM10 857h2v1h-2zM18 857h1v4h-1zM53 857h1v2h-1zM148 857h1v1h-1zM173 857h1v2h-1zM196 857h1v3h-1zM312 857h2v1h-2zM319 857h4v1h-4zM324 857h1v1h-1zM347 857h2v1h-2zM415 857h1v2h-1zM526 857h1v1h-1zM535 857h1v1h-1zM547 857h1v2h-1zM590 857h1v5h-1zM620 857h1v2h-1zM623 857h3v1h-3zM725 857h1v1h-1zM736 857h1v2h-1zM791 857h1v1h-1zM802 857h1v2h-1zM864 857h1v3h-1zM1008 857h1v1h-1zM1104 857h1v1h-1zM1125 857h1v1h-1zM12 858h1v1h-1zM51 858h1v3h-1zM72 858h1v2h-1zM147 858h1v2h-1zM149 858h1v1h-1zM157 858h1v1h-1zM167 858h1v1h-1zM325 858h1v2h-1zM344 858h3v1h-3zM482 858h1v3h-1zM497 858h1v2h-1zM508 858h1v2h-1zM525 858h1v2h-1zM531 858h1v1h-1zM533 858h2v1h-2zM621 858h2v1h-2zM626 858h7v1h-7zM723 858h1v3h-1zM726 858h1v1h-1zM737 858h1v2h-1zM764 858h1v4h-1zM792 858h1v1h-1zM865 858h1v2h-1zM981 858h1v5h-1zM1009 858h1v1h-1zM1105 858h1v1h-1zM1124 858h1v1h-1zM1138 858h1v2h-1zM13 859h1v2h-1zM26 859h1v4h-1zM54 859h1v1h-1zM73 859h1v1h-1zM100 859h1v1h-1zM150 859h1v1h-1zM156 859h1v1h-1zM168 859h5v1h-5zM344 859h1v1h-1zM416 859h1v2h-1zM520 859h2v1h-2zM532 859h1v1h-1zM548 859h1v2h-1zM633 859h1v2h-1zM727 859h1v1h-1zM735 859h1v2h-1zM803 859h1v2h-1zM1010 859h1v1h-1zM1106 859h1v1h-1zM1123 859h1v1h-1zM40 860h1v1h-1zM55 860h1v2h-1zM71 860h1v2h-1zM74 860h1v1h-1zM99 860h1v2h-1zM101 860h1v1h-1zM140 860h1v1h-1zM146 860h1v1h-1zM151 860h1v1h-1zM154 860h2v1h-2zM195 860h1v4h-1zM326 860h1v3h-1zM343 860h1v4h-1zM420 860h1v4h-1zM496 860h1v1h-1zM509 860h1v1h-1zM519 860h1v1h-1zM522 860h3v1h-3zM549 860h1v1h-1zM728 860h1v1h-1zM738 860h1v2h-1zM844 860h2v1h-2zM863 860h1v5h-1zM866 860h1v1h-1zM872 860h1v1h-1zM1011 860h1v1h-1zM1015 860h2v1h-2zM1025 860h1v5h-1zM1107 860h1v1h-1zM1111 860h3v1h-3zM1121 860h2v1h-2zM1139 860h1v2h-1zM1149 860h1v8h-1zM14 861h1v2h-1zM17 861h1v4h-1zM39 861h1v1h-1zM41 861h1v2h-1zM50 861h1v2h-1zM75 861h1v1h-1zM102 861h2v1h-2zM139 861h1v1h-1zM141 861h1v1h-1zM145 861h1v2h-1zM152 861h2v1h-2zM417 861h1v1h-1zM483 861h1v2h-1zM495 861h1v2h-1zM510 861h1v1h-1zM517 861h2v1h-2zM550 861h3v1h-3zM634 861h1v2h-1zM722 861h1v2h-1zM729 861h1v1h-1zM734 861h1v2h-1zM804 861h1v2h-1zM844 861h1v1h-1zM846 861h3v1h-3zM867 861h1v2h-1zM871 861h1v1h-1zM873 861h1v2h-1zM976 861h1v1h-1zM1012 861h3v1h-3zM1016 861h1v1h-1zM1108 861h3v1h-3zM1114 861h7v1h-7zM37 862h2v1h-2zM56 862h9v1h-9zM70 862h1v3h-1zM76 862h1v1h-1zM98 862h1v2h-1zM104 862h1v1h-1zM138 862h1v2h-1zM142 862h2v1h-2zM191 862h1v8h-1zM332 862h1v1h-1zM418 862h2v1h-2zM511 862h1v1h-1zM515 862h2v1h-2zM553 862h1v2h-1zM589 862h1v5h-1zM730 862h1v2h-1zM739 862h1v2h-1zM763 862h1v4h-1zM843 862h1v3h-1zM849 862h1v2h-1zM869 862h2v1h-2zM884 862h1v2h-1zM975 862h1v2h-1zM977 862h1v1h-1zM1017 862h1v3h-1zM1140 862h1v1h-1zM15 863h1v2h-1zM27 863h1v4h-1zM32 863h5v1h-5zM42 863h1v1h-1zM49 863h1v3h-1zM65 863h1v2h-1zM77 863h1v1h-1zM105 863h1v1h-1zM124 863h1v1h-1zM144 863h1v1h-1zM327 863h1v2h-1zM331 863h1v1h-1zM333 863h1v1h-1zM484 863h1v2h-1zM494 863h1v1h-1zM512 863h3v1h-3zM635 863h1v2h-1zM721 863h1v3h-1zM733 863h1v2h-1zM805 863h1v2h-1zM868 863h1v1h-1zM874 863h1v1h-1zM885 863h1v1h-1zM967 863h2v1h-2zM978 863h1v1h-1zM980 863h1v3h-1zM1141 863h1v2h-1zM31 864h1v2h-1zM43 864h1v2h-1zM78 864h1v1h-1zM84 864h1v1h-1zM97 864h1v2h-1zM106 864h2v1h-2zM123 864h1v1h-1zM125 864h1v2h-1zM137 864h1v1h-1zM194 864h1v4h-1zM330 864h1v1h-1zM334 864h1v1h-1zM342 864h1v4h-1zM493 864h1v2h-1zM554 864h1v2h-1zM731 864h1v1h-1zM740 864h1v1h-1zM850 864h1v2h-1zM875 864h1v2h-1zM883 864h1v2h-1zM886 864h1v1h-1zM964 864h3v1h-3zM969 864h1v1h-1zM974 864h1v1h-1zM979 864h1v1h-1zM16 865h1v2h-1zM66 865h1v1h-1zM69 865h1v2h-1zM79 865h1v1h-1zM82 865h2v1h-2zM85 865h1v1h-1zM108 865h1v2h-1zM122 865h1v1h-1zM136 865h1v1h-1zM328 865h2v1h-2zM335 865h1v1h-1zM485 865h1v1h-1zM636 865h1v1h-1zM732 865h1v1h-1zM741 865h2v1h-2zM806 865h1v2h-1zM842 865h1v2h-1zM862 865h1v4h-1zM887 865h1v1h-1zM964 865h1v1h-1zM970 865h1v1h-1zM973 865h1v2h-1zM1018 865h1v3h-1zM1024 865h1v3h-1zM1142 865h1v2h-1zM30 866h1v1h-1zM44 866h2v1h-2zM48 866h1v2h-1zM67 866h1v2h-1zM80 866h2v1h-2zM86 866h2v1h-2zM95 866h2v1h-2zM121 866h1v1h-1zM126 866h1v2h-1zM135 866h1v1h-1zM328 866h1v1h-1zM336 866h1v1h-1zM486 866h1v1h-1zM492 866h1v1h-1zM555 866h1v2h-1zM560 866h2v1h-2zM637 866h1v2h-1zM712 866h1v2h-1zM720 866h1v2h-1zM743 866h2v1h-2zM762 866h1v5h-1zM851 866h1v2h-1zM876 866h1v1h-1zM882 866h1v2h-1zM888 866h1v1h-1zM963 866h1v3h-1zM971 866h1v1h-1zM28 867h2v1h-2zM46 867h2v1h-2zM68 867h1v2h-1zM88 867h7v1h-7zM109 867h1v4h-1zM120 867h1v3h-1zM134 867h1v2h-1zM337 867h1v2h-1zM487 867h1v1h-1zM490 867h2v1h-2zM558 867h2v1h-2zM562 867h3v1h-3zM588 867h1v3h-1zM713 867h1v1h-1zM744 867h1v1h-1zM807 867h1v2h-1zM841 867h1v3h-1zM877 867h1v1h-1zM889 867h1v2h-1zM972 867h1v1h-1zM1143 867h1v2h-1zM28 868h2v1h-2zM127 868h1v2h-1zM193 868h1v4h-1zM341 868h1v4h-1zM488 868h2v1h-2zM556 868h2v1h-2zM565 868h1v2h-1zM638 868h1v2h-1zM711 868h1v2h-1zM714 868h2v1h-2zM718 868h2v1h-2zM745 868h1v3h-1zM852 868h1v3h-1zM878 868h1v1h-1zM881 868h1v2h-1zM1019 868h1v3h-1zM1023 868h1v1h-1zM1148 868h1v5h-1zM28 869h1v1h-1zM133 869h1v1h-1zM338 869h1v2h-1zM716 869h2v1h-2zM808 869h1v1h-1zM861 869h1v5h-1zM879 869h1v1h-1zM890 869h1v2h-1zM962 869h1v4h-1zM1022 869h1v2h-1zM1144 869h1v2h-1zM119 870h1v4h-1zM128 870h5v1h-5zM192 870h1v4h-1zM566 870h1v1h-1zM587 870h1v1h-1zM639 870h1v2h-1zM710 870h1v2h-1zM809 870h1v1h-1zM840 870h1v2h-1zM880 870h1v1h-1zM110 871h1v4h-1zM339 871h1v2h-1zM567 871h1v2h-1zM580 871h2v1h-2zM585 871h2v1h-2zM746 871h1v4h-1zM761 871h1v4h-1zM810 871h2v1h-2zM815 871h2v1h-2zM853 871h1v3h-1zM891 871h1v2h-1zM1020 871h2v1h-2zM1145 871h2v1h-2zM340 872h1v2h-1zM579 872h1v2h-1zM582 872h3v1h-3zM640 872h1v1h-1zM709 872h1v2h-1zM812 872h3v1h-3zM817 872h1v2h-1zM839 872h1v1h-1zM1020 872h1v1h-1zM1147 872h1v1h-1zM568 873h1v1h-1zM641 873h1v2h-1zM837 873h2v1h-2zM892 873h2v1h-2zM961 873h1v3h-1zM118 874h1v5h-1zM569 874h1v1h-1zM578 874h1v1h-1zM708 874h1v2h-1zM818 874h1v2h-1zM836 874h1v2h-1zM854 874h1v4h-1zM860 874h1v3h-1zM894 874h3v1h-3zM111 875h1v4h-1zM570 875h2v1h-2zM577 875h1v2h-1zM642 875h1v2h-1zM747 875h1v3h-1zM760 875h1v3h-1zM896 875h1v1h-1zM572 876h2v1h-2zM707 876h1v2h-1zM819 876h1v2h-1zM835 876h1v4h-1zM897 876h1v4h-1zM960 876h1v2h-1zM574 877h3v1h-3zM643 877h1v2h-1zM752 877h1v1h-1zM859 877h1v2h-1zM706 878h1v2h-1zM748 878h1v2h-1zM750 878h2v1h-2zM753 878h1v2h-1zM759 878h1v2h-1zM820 878h1v2h-1zM855 878h1v3h-1zM959 878h1v2h-1zM112 879h1v2h-1zM117 879h1v4h-1zM644 879h1v1h-1zM680 879h1v1h-1zM749 879h1v1h-1zM821 879h5v1h-5zM858 879h1v1h-1zM645 880h1v1h-1zM678 880h2v1h-2zM681 880h1v1h-1zM705 880h1v2h-1zM754 880h1v2h-1zM758 880h1v2h-1zM826 880h3v1h-3zM834 880h1v3h-1zM857 880h1v2h-1zM898 880h1v3h-1zM958 880h1v2h-1zM113 881h1v1h-1zM646 881h1v2h-1zM676 881h2v1h-2zM682 881h1v2h-1zM829 881h1v2h-1zM856 881h1v2h-1zM114 882h1v2h-1zM676 882h1v1h-1zM704 882h1v1h-1zM755 882h1v2h-1zM757 882h1v2h-1zM928 882h1v1h-1zM948 882h1v2h-1zM957 882h1v2h-1zM116 883h1v3h-1zM647 883h1v1h-1zM675 883h1v3h-1zM683 883h1v1h-1zM702 883h2v1h-2zM830 883h1v2h-1zM833 883h1v4h-1zM899 883h1v4h-1zM927 883h1v1h-1zM929 883h1v1h-1zM949 883h2v1h-2zM115 884h1v1h-1zM648 884h1v1h-1zM684 884h1v1h-1zM700 884h2v1h-2zM756 884h1v1h-1zM926 884h1v1h-1zM930 884h1v1h-1zM947 884h1v3h-1zM951 884h6v1h-6zM649 885h1v2h-1zM685 885h2v1h-2zM699 885h1v2h-1zM831 885h1v2h-1zM925 885h1v1h-1zM931 885h1v1h-1zM674 886h1v4h-1zM687 886h2v1h-2zM924 886h1v1h-1zM932 886h5v1h-5zM650 887h1v1h-1zM689 887h1v1h-1zM698 887h1v2h-1zM832 887h1v2h-1zM900 887h1v2h-1zM916 887h2v1h-2zM922 887h2v1h-2zM937 887h1v2h-1zM946 887h1v4h-1zM651 888h1v2h-1zM656 888h2v1h-2zM690 888h2v1h-2zM915 888h1v2h-1zM918 888h4v1h-4zM654 889h2v1h-2zM658 889h3v1h-3zM692 889h1v1h-1zM697 889h1v2h-1zM901 889h1v1h-1zM938 889h1v2h-1zM652 890h2v1h-2zM661 890h2v1h-2zM673 890h1v3h-1zM693 890h2v1h-2zM902 890h1v1h-1zM914 890h1v2h-1zM663 891h2v1h-2zM695 891h2v1h-2zM903 891h1v1h-1zM939 891h1v2h-1zM945 891h1v3h-1zM665 892h1v1h-1zM904 892h5v1h-5zM913 892h1v2h-1zM666 893h2v1h-2zM672 893h1v2h-1zM909 893h2v1h-2zM940 893h1v1h-1zM668 894h4v1h-4zM911 894h2v1h-2zM941 894h2v1h-2zM944 894h1v2h-1zM943 895h1v1h-1z"/>
</g>
<path d="M1345 33h11l-5.5 5.5z" fill="#c0c0c0" shape-rendering="auto"/>
<rect x="1369" y="170" width="8" height="1" fill="#ff0000"/>
<rect x="1376.500" y="168.500" width="3" height="4" fill="#fff" stroke="#ff0000"/>
<rect x="1379.500" y="154.500" width="99" height="32" fill="#fff" stroke="#ff0000"/>
<text x="1381" y="181" font-size="28.3" fill="#ff0000" textLength="97" lengthAdjust="spacingAndGlyphs">1.30713</text>
<g shape-rendering="auto"><text x="956.6" y="168.6" font-size="32.7" fill="#000" font-family="'Liberation Serif','Noto Serif CJK SC',serif" textLength="163.5" lengthAdjust="spacingAndGlyphs">多空转折点</text><text x="955.4" y="167.4" font-size="32.7" fill="#00ff00" font-family="'Liberation Serif','Noto Serif CJK SC',serif" textLength="163.5" lengthAdjust="spacingAndGlyphs">多空转折点</text></g>
<text x="1634.2" y="57.6" font-size="10.0" fill="#000" stroke="#000" stroke-width="0.12" textLength="32.9" lengthAdjust="spacingAndGlyphs">1.33935</text>
<text x="1634.2" y="90.6" font-size="10.0" fill="#000" stroke="#000" stroke-width="0.12" textLength="32.9" lengthAdjust="spacingAndGlyphs">1.33035</text>
<text x="1634.2" y="123.6" font-size="10.0" fill="#000" stroke="#000" stroke-width="0.12" textLength="32.9" lengthAdjust="spacingAndGlyphs">1.32110</text>
<text x="1634.2" y="156.6" font-size="10.0" fill="#000" stroke="#000" stroke-width="0.12" textLength="32.9" lengthAdjust="spacingAndGlyphs">1.31185</text>
<text x="1634.2" y="189.6" font-size="10.0" fill="#000" stroke="#000" stroke-width="0.12" textLength="32.9" lengthAdjust="spacingAndGlyphs">1.30260</text>
<text x="1634.2" y="222.6" font-size="10.0" fill="#000" stroke="#000" stroke-width="0.12" textLength="32.9" lengthAdjust="spacingAndGlyphs">1.29360</text>
<text x="1634.2" y="255.6" font-size="10.0" fill="#000" stroke="#000" stroke-width="0.12" textLength="32.9" lengthAdjust="spacingAndGlyphs">1.28435</text>
<text x="1634.2" y="288.6" font-size="10.0" fill="#000" stroke="#000" stroke-width="0.12" textLength="32.9" lengthAdjust="spacingAndGlyphs">1.27535</text>
<text x="1634.2" y="321.6" font-size="10.0" fill="#000" stroke="#000" stroke-width="0.12" textLength="32.9" lengthAdjust="spacingAndGlyphs">1.26610</text>
<text x="1634.2" y="354.6" font-size="10.0" fill="#000" stroke="#000" stroke-width="0.12" textLength="32.9" lengthAdjust="spacingAndGlyphs">1.25685</text>
<text x="1634.2" y="387.6" font-size="10.0" fill="#000" stroke="#000" stroke-width="0.12" textLength="32.9" lengthAdjust="spacingAndGlyphs">1.24785</text>
<text x="1634.2" y="420.6" font-size="10.0" fill="#000" stroke="#000" stroke-width="0.12" textLength="32.9" lengthAdjust="spacingAndGlyphs">1.23860</text>
<text x="1634.2" y="453.6" font-size="10.0" fill="#000" stroke="#000" stroke-width="0.12" textLength="32.9" lengthAdjust="spacingAndGlyphs">1.22935</text>
<text x="1634.2" y="486.6" font-size="10.0" fill="#000" stroke="#000" stroke-width="0.12" textLength="32.9" lengthAdjust="spacingAndGlyphs">1.22035</text>
<text x="1634.2" y="519.6" font-size="10.0" fill="#000" stroke="#000" stroke-width="0.12" textLength="32.9" lengthAdjust="spacingAndGlyphs">1.21110</text>
<text x="1634.2" y="552.6" font-size="10.0" fill="#000" stroke="#000" stroke-width="0.12" textLength="32.9" lengthAdjust="spacingAndGlyphs">1.20185</text>
<text x="1634.2" y="585.6" font-size="10.0" fill="#000" stroke="#000" stroke-width="0.12" textLength="32.9" lengthAdjust="spacingAndGlyphs">1.19285</text>
<path fill="#000" d="M1629 54h2v1h-2zM1629 87h2v1h-2zM1629 120h2v1h-2zM1629 153h2v1h-2zM1629 186h2v1h-2zM1629 219h2v1h-2zM1629 252h2v1h-2zM1629 285h2v1h-2zM1629 318h2v1h-2zM1629 351h2v1h-2zM1629 384h2v1h-2zM1629 417h2v1h-2zM1629 450h2v1h-2zM1629 483h2v1h-2zM1629 516h2v1h-2zM1629 549h2v1h-2zM1629 582h2v1h-2zM1629 589h2v1h-2zM1629 690h2v1h-2zM1629 769h2v1h-2zM1629 774h2v1h-2z"/>
<text x="1632" y="597.6" font-size="10.0" fill="#000" stroke="#000" stroke-width="0.12" textLength="38" lengthAdjust="spacingAndGlyphs">0.017167</text>
<text x="1633" y="693.6" font-size="10.0" fill="#000" stroke="#000" stroke-width="0.12" textLength="18.1" lengthAdjust="spacingAndGlyphs">0.00</text>
<text x="1632.3" y="766.6" font-size="10.0" fill="#000" stroke="#000" stroke-width="0.12" textLength="40.8" lengthAdjust="spacingAndGlyphs">-0.013348</text>
<text x="1632.2" y="782.6" font-size="10.0" fill="#000" stroke="#000" stroke-width="0.12" textLength="15.5" lengthAdjust="spacingAndGlyphs">100</text>
<text x="1632.2" y="808.6" font-size="10.0" fill="#000" stroke="#000" stroke-width="0.12" textLength="10.3" lengthAdjust="spacingAndGlyphs">80</text>
<text x="1632.2" y="855.6" font-size="10.0" fill="#000" stroke="#000" stroke-width="0.12" textLength="10.3" lengthAdjust="spacingAndGlyphs">50</text>
<text x="1632.2" y="911.6" font-size="10.0" fill="#000" stroke="#000" stroke-width="0.12" textLength="10.3" lengthAdjust="spacingAndGlyphs">15</text>
<text x="1632.2" y="928.6" font-size="10.0" fill="#000" stroke="#000" stroke-width="0.12" textLength="5.2" lengthAdjust="spacingAndGlyphs">0</text>
<rect x="1630" y="126" width="41" height="11" fill="#ff4500"/>
<text x="1634.2" y="134.8" font-size="10.0" fill="#fff" stroke="#fff" stroke-width="0.12" textLength="32.9" lengthAdjust="spacingAndGlyphs">1.31766</text>
<rect x="1630" y="138" width="41" height="11" fill="#ff4500"/>
<text x="1634.2" y="146.8" font-size="10.0" fill="#fff" stroke="#fff" stroke-width="0.12" textLength="32.9" lengthAdjust="spacingAndGlyphs">1.31433</text>
<rect x="1630" y="154" width="41" height="10" fill="#000000"/>
<text x="1634.2" y="162.3" font-size="10.0" fill="#fff" stroke="#fff" stroke-width="0.12" textLength="32.9" lengthAdjust="spacingAndGlyphs">1.31029</text>
<rect x="1630" y="164" width="41" height="11" fill="#32cd32"/>
<text x="1634.2" y="172.8" font-size="10.0" fill="#fff" stroke="#fff" stroke-width="0.12" textLength="32.9" lengthAdjust="spacingAndGlyphs">1.30713</text>
<rect x="1630" y="176" width="41" height="11" fill="#0000ff"/>
<text x="1634.2" y="184.8" font-size="10.0" fill="#fff" stroke="#fff" stroke-width="0.12" textLength="32.9" lengthAdjust="spacingAndGlyphs">1.30380</text>
<rect x="1630" y="187" width="41" height="11" fill="#0000ff"/>
<text x="1634.2" y="195.8" font-size="10.0" fill="#fff" stroke="#fff" stroke-width="0.12" textLength="32.9" lengthAdjust="spacingAndGlyphs">1.30075</text>
<text x="-1.2" y="945" font-size="10.0" fill="#000" stroke="#000" stroke-width="0.1" textLength="48.3" lengthAdjust="spacingAndGlyphs">7 Nov 2018</text>
<text x="62.8" y="945" font-size="10.0" fill="#000" stroke="#000" stroke-width="0.1" textLength="53.6" lengthAdjust="spacingAndGlyphs">26 Nov 2018</text>
<text x="126.8" y="945" font-size="10.0" fill="#000" stroke="#000" stroke-width="0.1" textLength="53.6" lengthAdjust="spacingAndGlyphs">14 Dec 2018</text>
<text x="190.8" y="945" font-size="10.0" fill="#000" stroke="#000" stroke-width="0.1" textLength="46.8" lengthAdjust="spacingAndGlyphs">2 Jan 2019</text>
<text x="254.8" y="945" font-size="10.0" fill="#000" stroke="#000" stroke-width="0.1" textLength="52.0" lengthAdjust="spacingAndGlyphs">21 Jan 2019</text>
<text x="318.8" y="945" font-size="10.0" fill="#000" stroke="#000" stroke-width="0.1" textLength="47.8" lengthAdjust="spacingAndGlyphs">8 Feb 2019</text>
<text x="382.8" y="945" font-size="10.0" fill="#000" stroke="#000" stroke-width="0.1" textLength="53.1" lengthAdjust="spacingAndGlyphs">27 Feb 2019</text>
<text x="446.8" y="945" font-size="10.0" fill="#000" stroke="#000" stroke-width="0.1" textLength="53.1" lengthAdjust="spacingAndGlyphs">18 Mar 2019</text>
<text x="510.8" y="945" font-size="10.0" fill="#000" stroke="#000" stroke-width="0.1" textLength="45.7" lengthAdjust="spacingAndGlyphs">5 Apr 2019</text>
<text x="574.8" y="945" font-size="10.0" fill="#000" stroke="#000" stroke-width="0.1" textLength="51.0" lengthAdjust="spacingAndGlyphs">25 Apr 2019</text>
<text x="638.8" y="945" font-size="10.0" fill="#000" stroke="#000" stroke-width="0.1" textLength="54.6" lengthAdjust="spacingAndGlyphs">14 May 2019</text>
<text x="702.8" y="945" font-size="10.0" fill="#000" stroke="#000" stroke-width="0.1" textLength="46.8" lengthAdjust="spacingAndGlyphs">2 Jun 2019</text>
<text x="766.8" y="945" font-size="10.0" fill="#000" stroke="#000" stroke-width="0.1" textLength="52.0" lengthAdjust="spacingAndGlyphs">20 Jun 2019</text>
<text x="830.8" y="945" font-size="10.0" fill="#000" stroke="#000" stroke-width="0.1" textLength="43.6" lengthAdjust="spacingAndGlyphs">9 Jul 2019</text>
<text x="894.8" y="945" font-size="10.0" fill="#000" stroke="#000" stroke-width="0.1" textLength="48.9" lengthAdjust="spacingAndGlyphs">28 Jul 2019</text>
<text x="958.8" y="945" font-size="10.0" fill="#000" stroke="#000" stroke-width="0.1" textLength="53.1" lengthAdjust="spacingAndGlyphs">15 Aug 2019</text>
<text x="1022.8" y="945" font-size="10.0" fill="#000" stroke="#000" stroke-width="0.1" textLength="48.3" lengthAdjust="spacingAndGlyphs">3 Sep 2019</text>
<text x="1086.8" y="945" font-size="10.0" fill="#000" stroke="#000" stroke-width="0.1" textLength="53.6" lengthAdjust="spacingAndGlyphs">22 Sep 2019</text>
<text x="1150.8" y="945" font-size="10.0" fill="#000" stroke="#000" stroke-width="0.1" textLength="51.5" lengthAdjust="spacingAndGlyphs">10 Oct 2019</text>
<text x="1214.8" y="945" font-size="10.0" fill="#000" stroke="#000" stroke-width="0.1" textLength="51.5" lengthAdjust="spacingAndGlyphs">29 Oct 2019</text>
<text x="1278.8" y="945" font-size="10.0" fill="#000" stroke="#000" stroke-width="0.1" textLength="53.6" lengthAdjust="spacingAndGlyphs">17 Nov 2019</text>
<path fill="#000" d="M0 933h1v3h-1zM64 933h1v3h-1zM128 933h1v3h-1zM192 933h1v3h-1zM256 933h1v3h-1zM320 933h1v3h-1zM384 933h1v3h-1zM448 933h1v3h-1zM512 933h1v3h-1zM576 933h1v3h-1zM640 933h1v3h-1zM704 933h1v3h-1zM768 933h1v3h-1zM832 933h1v3h-1zM896 933h1v3h-1zM960 933h1v3h-1zM1024 933h1v3h-1zM1088 933h1v3h-1zM1152 933h1v3h-1zM1216 933h1v3h-1zM1280 933h1v3h-1z"/>
<path d="M3 44l3.5-4.5l3.5 4.5z" fill="#000" shape-rendering="auto"/>
<text x="15" y="44" font-size="10.0" fill="#000" stroke="#000" stroke-width="0.12" textLength="214.3" lengthAdjust="spacingAndGlyphs" xml:space="preserve" style="white-space:pre">GBPUSD-,Daily  1.29960 1.31187 1.29816 1.31029</text>
<text x="4.3" y="600" font-size="10.0" fill="#000" stroke="#000" stroke-width="0.12" textLength="147.5" lengthAdjust="spacingAndGlyphs">MACD(12,26,9) 0.004801 0.003334</text>
<text x="4.3" y="785" font-size="10.0" fill="#000" stroke="#000" stroke-width="0.12" textLength="67.3" lengthAdjust="spacingAndGlyphs">RSI(14) 70.6051</text>
<g shape-rendering="crispEdges">
<defs><linearGradient id="gt" gradientUnits="userSpaceOnUse" x1="0" y1="52" x2="0" y2="76"><stop offset="0" stop-color="#5454fa"/><stop offset="1" stop-color="#3838e0"/></linearGradient><linearGradient id="gp" gradientUnits="userSpaceOnUse" x1="0" y1="76" x2="0" y2="116"><stop offset="0" stop-color="#3434dc"/><stop offset="1" stop-color="#0000a6"/></linearGradient><linearGradient id="gb" x1="0" y1="0" x2="0" y2="1"><stop offset="0" stop-color="#f2f2f2"/><stop offset="1" stop-color="#e2e2e2"/></linearGradient></defs>
<rect x="3" y="52" width="52" height="25" fill="#0000c4"/><rect x="4" y="53" width="50" height="24" fill="url(#gt)"/>
<rect x="170" y="52" width="52" height="25" fill="#0000c4"/><rect x="171" y="53" width="50" height="24" fill="url(#gt)"/>
<rect x="3" y="76" width="109" height="40" fill="#0000b4"/><rect x="4" y="76" width="107" height="39" fill="url(#gp)"/>
<rect x="114" y="76" width="108" height="40" fill="#0000b4"/><rect x="115" y="76" width="106" height="39" fill="url(#gp)"/>
<rect x="4" y="53" width="50" height="24" fill="url(#gt)"/><rect x="171" y="53" width="50" height="24" fill="url(#gt)"/>
<rect x="7" y="76" width="44" height="1" fill="#8a8aff"/><rect x="174" y="76" width="44" height="1" fill="#8a8aff"/>
<rect x="57" y="52" width="111" height="22" fill="#a6a6a6"/>
<rect x="58" y="53" width="20" height="20" fill="url(#gb)"/><rect x="79" y="53" width="67" height="20" fill="#fff"/><rect x="147" y="53" width="20" height="20" fill="url(#gb)"/>
<path d="M65 61h6l-3 3.2z M153.3 64h6l-3 -3.2z" fill="#000" shape-rendering="auto"/>
</g>
<g fill="#fff" shape-rendering="auto">
<text x="15.2" y="68" font-size="12" textLength="26" lengthAdjust="spacingAndGlyphs">SELL</text>
<text x="183" y="68" font-size="12" textLength="23.5" lengthAdjust="spacingAndGlyphs">BUY</text>
<text x="119.3" y="67" font-size="12" fill="#000" textLength="23.3" lengthAdjust="spacingAndGlyphs">1.00</text>
<text x="23.3" y="107" font-size="12" font-weight="bold" textLength="22.8" lengthAdjust="spacingAndGlyphs">1.31</text>
<text x="133.6" y="107" font-size="12" font-weight="bold" textLength="22.8" lengthAdjust="spacingAndGlyphs">1.31</text>
<text x="50" y="107.2" font-size="33.6" textLength="36" lengthAdjust="spacingAndGlyphs" stroke="url(#gp)" stroke-width="0.15">02</text>
<text x="160.6" y="107.2" font-size="33.6" textLength="36" lengthAdjust="spacingAndGlyphs" stroke="url(#gp)" stroke-width="0.15">05</text>
<text x="90" y="91" font-size="12" font-weight="bold">9</text>
<text x="201.3" y="91" font-size="12" font-weight="bold">5</text>
</g>
<g shape-rendering="crispEdges">
<rect x="0" y="0" width="1675" height="32" fill="#f0f0f0"/>
<rect x="0" y="1" width="1675" height="1" fill="#a0a0a0"/><rect x="0" y="2" width="1675" height="1" fill="#ffffff"/>
<rect x="0" y="28" width="1675" height="1" fill="#a8a8a8"/><rect x="0" y="29" width="1675" height="1" fill="#696969"/><rect x="0" y="30" width="1675" height="2" fill="#ffffff"/>
<rect x="1674" y="30" width="1" height="923" fill="#f0f0f0"/>
<rect x="225" y="3" width="1" height="25" fill="#8c8c8c"/><rect x="226" y="3" width="1" height="25" fill="#ffffff"/>
<rect x="229" y="6" width="3" height="1" fill="#a0a0a0"/>
<rect x="229" y="8" width="3" height="1" fill="#a0a0a0"/>
<rect x="229" y="10" width="3" height="1" fill="#a0a0a0"/>
<rect x="229" y="12" width="3" height="1" fill="#a0a0a0"/>
<rect x="229" y="14" width="3" height="1" fill="#a0a0a0"/>
<rect x="229" y="16" width="3" height="1" fill="#a0a0a0"/>
<rect x="229" y="18" width="3" height="1" fill="#a0a0a0"/>
<rect x="229" y="20" width="3" height="1" fill="#a0a0a0"/>
<rect x="229" y="22" width="3" height="1" fill="#a0a0a0"/>
<rect x="229" y="24" width="3" height="1" fill="#a0a0a0"/>
<rect x="593" y="3" width="1" height="25" fill="#8c8c8c"/><rect x="594" y="3" width="1" height="25" fill="#ffffff"/>
<rect x="597" y="6" width="3" height="1" fill="#a0a0a0"/>
<rect x="597" y="8" width="3" height="1" fill="#a0a0a0"/>
<rect x="597" y="10" width="3" height="1" fill="#a0a0a0"/>
<rect x="597" y="12" width="3" height="1" fill="#a0a0a0"/>
<rect x="597" y="14" width="3" height="1" fill="#a0a0a0"/>
<rect x="597" y="16" width="3" height="1" fill="#a0a0a0"/>
<rect x="597" y="18" width="3" height="1" fill="#a0a0a0"/>
<rect x="597" y="20" width="3" height="1" fill="#a0a0a0"/>
<rect x="597" y="22" width="3" height="1" fill="#a0a0a0"/>
<rect x="597" y="24" width="3" height="1" fill="#a0a0a0"/>
<rect x="899" y="3" width="1" height="25" fill="#8c8c8c"/><rect x="900" y="3" width="1" height="25" fill="#ffffff"/>
<rect x="903" y="6" width="3" height="1" fill="#a0a0a0"/>
<rect x="903" y="8" width="3" height="1" fill="#a0a0a0"/>
<rect x="903" y="10" width="3" height="1" fill="#a0a0a0"/>
<rect x="903" y="12" width="3" height="1" fill="#a0a0a0"/>
<rect x="903" y="14" width="3" height="1" fill="#a0a0a0"/>
<rect x="903" y="16" width="3" height="1" fill="#a0a0a0"/>
<rect x="903" y="18" width="3" height="1" fill="#a0a0a0"/>
<rect x="903" y="20" width="3" height="1" fill="#a0a0a0"/>
<rect x="903" y="22" width="3" height="1" fill="#a0a0a0"/>
<rect x="903" y="24" width="3" height="1" fill="#a0a0a0"/>
<rect x="320" y="5" width="1" height="21" fill="#a0a0a0"/>
<rect x="410" y="5" width="1" height="21" fill="#a0a0a0"/>
<rect x="472" y="5" width="1" height="21" fill="#a0a0a0"/>
<rect x="660" y="5" width="1" height="21" fill="#a0a0a0"/>
<rect x="1160" y="5" width="1" height="21" fill="#a0a0a0"/>
<rect x="263" y="4" width="25" height="23" fill="#f9f9f9"/>
<rect x="263" y="4" width="25" height="1" fill="#a0a0a0"/><rect x="263" y="4" width="1" height="22" fill="#a0a0a0"/>
<rect x="263" y="26" width="26" height="1" fill="#ffffff"/><rect x="288" y="4" width="1" height="23" fill="#ffffff"/>
<rect x="415" y="4" width="25" height="23" fill="#f9f9f9"/>
<rect x="415" y="4" width="25" height="1" fill="#a0a0a0"/><rect x="415" y="4" width="1" height="22" fill="#a0a0a0"/>
<rect x="415" y="26" width="26" height="1" fill="#ffffff"/><rect x="440" y="4" width="1" height="23" fill="#ffffff"/>
<rect x="443" y="4" width="25" height="23" fill="#f9f9f9"/>
<rect x="443" y="4" width="25" height="1" fill="#a0a0a0"/><rect x="443" y="4" width="1" height="22" fill="#a0a0a0"/>
<rect x="443" y="26" width="26" height="1" fill="#ffffff"/><rect x="468" y="4" width="1" height="23" fill="#ffffff"/>
<rect x="603" y="4" width="25" height="23" fill="#f9f9f9"/>
<rect x="603" y="4" width="25" height="1" fill="#a0a0a0"/><rect x="603" y="4" width="1" height="22" fill="#a0a0a0"/>
<rect x="603" y="26" width="26" height="1" fill="#ffffff"/><rect x="628" y="4" width="1" height="23" fill="#ffffff"/>
<rect x="1077" y="4" width="25" height="23" fill="#f9f9f9"/>
<rect x="1077" y="4" width="25" height="1" fill="#a0a0a0"/><rect x="1077" y="4" width="1" height="22" fill="#a0a0a0"/>
<rect x="1077" y="26" width="26" height="1" fill="#ffffff"/><rect x="1102" y="4" width="1" height="23" fill="#ffffff"/>
</g>
<g shape-rendering="auto">
<path d="M0 8.5h7l3.5 3.5v9.5h-10.5z" fill="#fff" stroke="#8a8a8a" stroke-width="1"/>
<path d="M1 11.5h4M1 14.5h6M1 17.5h4" stroke="#777" stroke-width="1.3"/>
<path d="M7.8 16h3v3.3h3.3v3h-3.3v3.3h-3v-3.3h-3.3v-3h3.3z" fill="#30d030" stroke="#0b8a0b" stroke-width="0.9"/>
<text x="17.8" y="19.9" font-size="12.1" fill="#000" stroke="#000" stroke-width="0.2" font-family="'Liberation Sans','Noto Sans CJK SC',sans-serif" textLength="36.3" lengthAdjust="spacingAndGlyphs">新订单</text>
<defs><linearGradient id="gbk" x1="0" y1="0" x2="1" y2="1"><stop offset="0" stop-color="#f8d848"/><stop offset="0.5" stop-color="#ecb81c"/><stop offset="1" stop-color="#d69a14"/></linearGradient><linearGradient id="gcl" x1="0" y1="0" x2="0" y2="1"><stop offset="0" stop-color="#fafbfd"/><stop offset="1" stop-color="#b8c2da"/></linearGradient></defs>
<path d="M71.6 9.3l9.6 6.4l0.5 2.4l-7.6 5.6l-7.8-5.8l3-3.2z" fill="url(#gbk)" stroke="#a86c10" stroke-width="1.1" stroke-linejoin="round"/>
<path d="M67.3 17.2l6.8 5l6.6-4.8" fill="none" stroke="#f6e4a0" stroke-width="1.1"/>
<path d="M96 8.4h7.1l3.7 2.3v6.5h-10.8z" fill="#1a96ff"/><path d="M96.3 8.8l3.2 2v6" fill="none" stroke="#d8f0ff" stroke-width="0.8"/><path d="M101.2 13.2l4.2-0.8" stroke="#e8f6ff" stroke-width="1.1"/>
<path d="M97 23.4c-3.4 0.2-4-4.2-0.8-4.8c0.4-2.2 3.4-2.8 4.6-1.2c1.6-2 5-1 5.2 1.3c3.6-0.2 4.4 4.4 0.6 4.7z" fill="url(#gcl)" stroke="#4a68a8" stroke-width="1"/>
<path d="M130.4 16v7.4a7.4 7.4 0 0 0 7.2-7.4z" fill="#a8dca8" fill-opacity="0.75"/>
<path d="M130 23.3a7.3 7.3 0 1 1 7.3-7.3" fill="none" stroke="#86aee4" stroke-width="1.2"/>
<path d="M130 20.4a4.4 4.4 0 1 1 4.4-4.4" fill="none" stroke="#6a98dc" stroke-width="1.3"/>
<path d="M130.4 23.4a7.3 7.3 0 0 0 7-7.4" fill="none" stroke="#58b058" stroke-width="1.4"/>
<circle cx="130" cy="15.8" r="1.9" fill="#2a5fd0"/>
<path d="M130.6 16.5v7" stroke="#2aa02a" stroke-width="1.5"/>
<path d="M150.5 16.2h13.5l-3 5.8l-4.5 1.8z" fill="#f6dc50" stroke="#c8a020" stroke-width="0.9"/>
<path d="M151.5 17h4.5l-1 5z" fill="#fbeeb0" fill-opacity="0.8"/>
<ellipse cx="157.2" cy="14.4" rx="8.2" ry="2.9" fill="#4a9cd6" stroke="#2a78b4" stroke-width="0.8"/>
<path d="M152.8 14c0.2-3 0.8-5.6 4.4-5.6s4.2 2.6 4.4 5.6c-2.6 1.3-6.2 1.3-8.800 0z" fill="#7cc4ec" stroke="#2a78b4" stroke-width="0.8"/>
<path d="M153 13.2c2.600 1.200 5.800 1.200 8.400 0" fill="none" stroke="#2a6ea8" stroke-width="1"/>
<circle cx="161.6" cy="19.8" r="4" fill="#e42a10" stroke="#b01808" stroke-width="0.6"/><rect x="160" y="18.2" width="3.2" height="3.2" fill="#fff"/>
<text x="170.3" y="19.9" font-size="11.8" fill="#000" stroke="#000" stroke-width="0.2" font-family="'Liberation Sans','Noto Sans CJK SC',sans-serif" textLength="47.2" lengthAdjust="spacingAndGlyphs">自动交易</text>
<path d="M243.5 10v14M240 21.5h14" stroke="#555" stroke-width="1.2" fill="none"/><path d="M241 12.5l2.5-2.8l2.5 2.8zM252 19l3 2.5l-3 2.5z" fill="#555"/>
<path d="M250.5 11v8.5M250.5 12.5h2.5M248 18.5h2.5" stroke="#0c8a0c" stroke-width="1.5" fill="none"/>
<path d="M271.5 10v14M268 21.5h14" stroke="#555" stroke-width="1.2" fill="none"/><path d="M269 12.5l2.5-2.8l2.5 2.8zM280 19l3 2.5l-3 2.5z" fill="#555"/>
<path d="M277.5 8v12" stroke="#0c8a0c" stroke-width="1.3"/><rect x="275.5" y="10.5" width="4" height="7" fill="#3ad63a" stroke="#0c8a0c" stroke-width="1"/>
<path d="M299.5 10v14M296 21.5h14" stroke="#555" stroke-width="1.2" fill="none"/><path d="M297 12.5l2.5-2.8l2.5 2.8zM308 19l3 2.5l-3 2.5z" fill="#555"/>
<path d="M298 19c2-1 4-6 6.5-5.5c2 0.5 3 3.5 5.5 3.5" stroke="#2a9a2a" stroke-width="1.2" fill="none"/>
<path d="M339 18l5.5 5.5" stroke="#c89a10" stroke-width="3" stroke-linecap="round"/><path d="M339.3 18l5 5" stroke="#f4d860" stroke-width="1.2" stroke-linecap="round"/>
<circle cx="335" cy="14" r="5.6" fill="#d6eeff" stroke="#3c7edc" stroke-width="1.3"/>
<path d="M332 14h6" stroke="#4a8cb8" stroke-width="1.8"/>
<path d="M335 11v6" stroke="#4a8cb8" stroke-width="1.8"/>
<path d="M367 18l5.5 5.5" stroke="#c89a10" stroke-width="3" stroke-linecap="round"/><path d="M367.3 18l5 5" stroke="#f4d860" stroke-width="1.2" stroke-linecap="round"/>
<circle cx="363" cy="14" r="5.6" fill="#d6eeff" stroke="#3c7edc" stroke-width="1.3"/>
<path d="M360 14h6" stroke="#4a8cb8" stroke-width="1.8"/>
<rect x="385" y="8" width="8" height="8" fill="#3a9c24"/><path d="M386.5 11.5h5v3h-5z" fill="#fff"/><path d="M387.5 13h3" stroke="#3a9c24" stroke-opacity="0.5" stroke-width="0.8"/>
<rect x="393" y="8" width="8" height="8" fill="#1c50d2"/><path d="M394.5 11.5h5v3h-5z" fill="#fff"/><path d="M395.5 13h3" stroke="#1c50d2" stroke-opacity="0.5" stroke-width="0.8"/>
<rect x="385" y="16" width="8" height="8" fill="#1c50d2"/><path d="M386.5 19.5h5v3h-5z" fill="#fff"/><path d="M387.5 21h3" stroke="#1c50d2" stroke-opacity="0.5" stroke-width="0.8"/>
<rect x="393" y="16" width="8" height="8" fill="#3a9c24"/><path d="M394.5 19.5h5v3h-5z" fill="#fff"/><path d="M395.5 21h3" stroke="#3a9c24" stroke-opacity="0.5" stroke-width="0.8"/>
<path d="M423.5 10v14M420 21.5h14" stroke="#555" stroke-width="1.2" fill="none"/><path d="M421 12.5l2.5-2.8l2.5 2.8zM432 19l3 2.5l-3 2.5z" fill="#555"/>
<path d="M428.5 12.5l3.5 3l-3.5 3z" fill="#7ae07a" stroke="#0c9a0c" stroke-width="1"/>
<path d="M451.5 10v14M448 21.5h14" stroke="#555" stroke-width="1.2" fill="none"/><path d="M449 12.5l2.5-2.8l2.5 2.8zM460 19l3 2.5l-3 2.5z" fill="#555"/>
<path d="M457.5 10v10" stroke="#1c6ab0" stroke-width="1.3"/><path d="M458.5 15.5h4.5M461 13l-2.5 2.5l2.5 2.5" stroke="#d84810" stroke-width="1.3" fill="none"/>
<path d="M482.5 9h6.5l3 3v9.5h-9.5z" fill="#fff" stroke="#9a9a9a" stroke-width="1"/><path d="M485 12.5c-1.2 0-1.2 1.5-1.2 2.5s0 2.2 1.2 2.4" fill="none" stroke="#777" stroke-width="0.9"/>
<path d="M489.6 14.3h4v3.9h3.9v4h-3.9v3.9h-4v-3.9h-3.9v-4h3.9z" fill="#22c422" stroke="#0b8a0b" stroke-width="1"/>
<path d="M504 15h5.4l-2.7 3z" fill="#000"/>
<path d="M543 15h5.4l-2.7 3z" fill="#000"/>
<path d="M582 15h5.4l-2.7 3z" fill="#000"/>
<path d="M888 15h5.4l-2.7 3z" fill="#000"/>
<circle cx="528" cy="16" r="7" fill="#fff" stroke="#1c6cd4" stroke-width="2.2"/><path d="M527.5 11.5v4.8h3.2" fill="none" stroke="#333" stroke-width="1.4"/>
<circle cx="528" cy="16" r="8" fill="none" stroke="#0c4aa8" stroke-width="0.6"/>
<rect x="559.5" y="9.5" width="15" height="13" fill="#fff" stroke="#3c78c8" stroke-width="1.3"/><rect x="559.5" y="9.5" width="15" height="2.3" fill="#4c8ce0"/><path d="M560 17h14.5" stroke="#3c78c8" stroke-width="1"/>
<path d="M561.5 15.5h2l1.5-1h1.5l1-1h1.5l1 1h2l1-1h1.5" stroke="#a02808" stroke-width="1.1" fill="none"/><path d="M562.5 20.5h1.5l1-1h1.5l1 1h1.5l2-2l1 0.5l1.3 1.5" stroke="#0c8a1c" stroke-width="1.1" fill="none"/>
<path d="M610.5 9l8 7.8h-3.6l2.2 5l-1.9 0.9l-2.3-5l-2.4 2.4z" fill="#555"/>
<path d="M643.5 9v6M643.5 18v6M636 16.5h6M645 16.5h6" stroke="#555" stroke-width="1.2"/>
<path d="M677.5 10v13" stroke="#555" stroke-width="1.2"/><path d="M700 16.5h12.5" stroke="#555" stroke-width="1.2"/><path d="M727.5 23l12.5-12.3" stroke="#555" stroke-width="1.1"/>
<path d="M754 18l9-8M755 22.5l12-10.5M759 23l9-8" stroke="#555" stroke-width="1"/><path d="M757.5 15.5l1 5M761 13l1 5M764.5 9.5l1 6" stroke="#555" stroke-width="0.9"/>
<text x="764.6" y="25" font-size="6.6" font-weight="bold" fill="#444">E</text>
<path d="M783 9.5h13.5" stroke="#555" stroke-width="1" stroke-dasharray="1 1"/>
<path d="M783 12.5h13.5" stroke="#555" stroke-width="1" stroke-dasharray="1 1"/>
<path d="M783 16.5h13.5" stroke="#555" stroke-width="1" stroke-dasharray="1 1"/>
<path d="M783 20.5h9.5" stroke="#555" stroke-width="1" stroke-dasharray="1 1"/>
<text x="792.6" y="25" font-size="6.6" font-weight="bold" fill="#444">F</text>
<text x="813.2" y="21" font-size="12.5" font-weight="bold" fill="#555" textLength="9" lengthAdjust="spacingAndGlyphs">A</text>
<g shape-rendering="crispEdges" fill="#555"><rect x="840" y="10" width="1" height="1"/><rect x="840" y="22" width="1" height="1"/><rect x="842" y="10" width="1" height="1"/><rect x="842" y="22" width="1" height="1"/><rect x="844" y="10" width="1" height="1"/><rect x="844" y="22" width="1" height="1"/><rect x="846" y="10" width="1" height="1"/><rect x="846" y="22" width="1" height="1"/><rect x="848" y="10" width="1" height="1"/><rect x="848" y="22" width="1" height="1"/><rect x="850" y="10" width="1" height="1"/><rect x="850" y="22" width="1" height="1"/><rect x="852" y="10" width="1" height="1"/><rect x="852" y="22" width="1" height="1"/><rect x="840" y="10" width="1" height="1"/><rect x="852" y="10" width="1" height="1"/><rect x="840" y="12" width="1" height="1"/><rect x="852" y="12" width="1" height="1"/><rect x="840" y="14" width="1" height="1"/><rect x="852" y="14" width="1" height="1"/><rect x="840" y="16" width="1" height="1"/><rect x="852" y="16" width="1" height="1"/><rect x="840" y="18" width="1" height="1"/><rect x="852" y="18" width="1" height="1"/><rect x="840" y="20" width="1" height="1"/><rect x="852" y="20" width="1" height="1"/><rect x="840" y="22" width="1" height="1"/><rect x="852" y="22" width="1" height="1"/><rect x="842" y="13" width="8" height="2"/><rect x="845" y="13" width="2" height="8"/><rect x="839" y="9" width="2" height="1"/></g>
<path d="M867 14l3.5-3.6l3.5 3.6zM874.5 19l3.5 3.6l3.5-3.6z" fill="#555"/><path d="M869.5 17.5l2 2l4-5" stroke="#555" stroke-width="1.2" fill="none"/>
<text x="921" y="19.8" font-size="10" fill="#333" text-anchor="middle" textLength="12.9" lengthAdjust="spacingAndGlyphs">M1</text>
<text x="949" y="19.8" font-size="10" fill="#333" text-anchor="middle" textLength="12.9" lengthAdjust="spacingAndGlyphs">M5</text>
<text x="977.5" y="19.8" font-size="10" fill="#333" text-anchor="middle" textLength="18.1" lengthAdjust="spacingAndGlyphs">M15</text>
<text x="1005.4" y="19.8" font-size="10" fill="#333" text-anchor="middle" textLength="18.1" lengthAdjust="spacingAndGlyphs">M30</text>
<text x="1033.5" y="19.8" font-size="10" fill="#333" text-anchor="middle" textLength="11.9" lengthAdjust="spacingAndGlyphs">H1</text>
<text x="1060.7" y="19.8" font-size="10" fill="#333" text-anchor="middle" textLength="11.9" lengthAdjust="spacingAndGlyphs">H4</text>
<text x="1089.3" y="19.8" font-size="10" fill="#333" text-anchor="middle" textLength="11.9" lengthAdjust="spacingAndGlyphs">D1</text>
<text x="1118" y="19.8" font-size="10" fill="#333" text-anchor="middle" textLength="13.9" lengthAdjust="spacingAndGlyphs">W1</text>
<text x="1145" y="19.8" font-size="10" fill="#333" text-anchor="middle" textLength="14.5" lengthAdjust="spacingAndGlyphs">MN</text>
<path d="M1627.6 16.4l-4.6 4.6" stroke="#2a5ad0" stroke-width="2.5" stroke-linecap="round"/><circle cx="1630.6" cy="13.4" r="3.8" fill="#f6f9ff" stroke="#2a5ad0" stroke-width="1.2"/>
<defs><linearGradient id="gch" x1="0" y1="0" x2="0" y2="1"><stop offset="0" stop-color="#ffffff"/><stop offset="1" stop-color="#d4d6e2"/></linearGradient></defs>
<path d="M1663.3 8.2c8.6 0 8.6 9.7 2.6 9.8l1.2 2.3l-3.4-2.3c-9 0.6-9-9.8-0.4-9.8z" fill="url(#gch)" stroke="#9a9a9a" stroke-width="0.9"/>
<path d="M1654.2 13.3c7 0 7 8 0.6 8l-3.2 2l0.4-2.3c-5.4-0.9-4.6-7.7 2.2-7.7z" fill="url(#gch)" stroke="#8e8e8e" stroke-width="0.9"/>
</g>
</svg>
</body></html>
